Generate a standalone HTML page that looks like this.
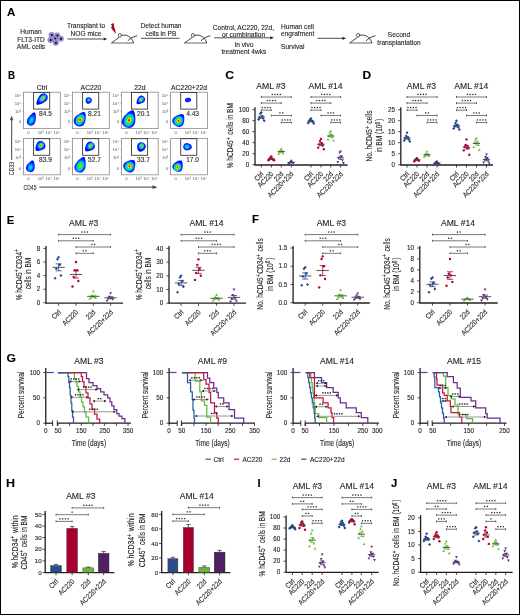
<!DOCTYPE html>
<html><head><meta charset="utf-8"><style>
html,body{margin:0;padding:0;background:#fff;}
body{width:520px;height:615px;overflow:hidden;font-family:"Liberation Sans",sans-serif;}
.frame{position:absolute;left:0;top:0;width:518px;height:613px;border:1px solid #000;border-right-width:1.4px;border-bottom-width:1.4px;box-sizing:content-box;}
svg{position:absolute;left:0;top:0;will-change:transform;}
text{stroke:#231f20;stroke-width:0.12px;}
</style></head><body>
<svg width="520" height="615" viewBox="0 0 520 615">
<defs><radialGradient id="gfull" cx="0.5" cy="0.5" r="0.5" fx="0.5" fy="0.5"><stop offset="0" stop-color="#e00000"/><stop offset="0.14" stop-color="#ffe000"/><stop offset="0.32" stop-color="#30d000"/><stop offset="0.5" stop-color="#00d0f0"/><stop offset="0.66" stop-color="#0060ff"/><stop offset="0.8" stop-color="#0028ff"/><stop offset="1" stop-color="#0010e8"/></radialGradient><radialGradient id="gfullA" cx="0.5" cy="0.5" r="0.5" fx="0.5" fy="0.5"><stop offset="0" stop-color="#e00000"/><stop offset="0.18" stop-color="#ffd800"/><stop offset="0.38" stop-color="#20d000"/><stop offset="0.58" stop-color="#00c0ff"/><stop offset="0.75" stop-color="#0040ff"/><stop offset="1" stop-color="#0018e8"/></radialGradient><radialGradient id="gcyan" cx="0.5" cy="0.5" r="0.5" fx="0.5" fy="0.5"><stop offset="0" stop-color="#00f0f0"/><stop offset="0.3" stop-color="#00b8ff"/><stop offset="0.6" stop-color="#0050ff"/><stop offset="1" stop-color="#0018e8"/></radialGradient><radialGradient id="gcyan2" cx="0.5" cy="0.5" r="0.5" fx="0.5" fy="0.5"><stop offset="0" stop-color="#00f0e0"/><stop offset="0.4" stop-color="#00a0ff"/><stop offset="1" stop-color="#0030f0"/></radialGradient><radialGradient id="ggreen" cx="0.5" cy="0.5" r="0.5" fx="0.5" fy="0.5"><stop offset="0" stop-color="#ffd000"/><stop offset="0.2" stop-color="#40dc20"/><stop offset="0.5" stop-color="#00d8e0"/><stop offset="0.8" stop-color="#0050ff"/><stop offset="1" stop-color="#0020f0"/></radialGradient><radialGradient id="gblue" cx="0.5" cy="0.5" r="0.5" fx="0.5" fy="0.5"><stop offset="0" stop-color="#0060ff"/><stop offset="1" stop-color="#0020ee"/></radialGradient><radialGradient id="gcyanb" cx="0.5" cy="0.5" r="0.5" fx="0.5" fy="0.5"><stop offset="0" stop-color="#20e0a0"/><stop offset="0.35" stop-color="#00c8ff"/><stop offset="0.7" stop-color="#0050ff"/><stop offset="1" stop-color="#0020f0"/></radialGradient></defs>
<g font-family="Liberation Sans">
<text font-size="11.3" text-anchor="start" font-weight="bold" fill="#000" transform="translate(6.90 16.00) scale(1.02 1)">A</text>
<text x="31.00" y="34.30" font-size="6.6" text-anchor="middle" fill="#231f20">Human</text>
<text x="31.00" y="41.80" font-size="6.6" text-anchor="middle" fill="#231f20">FLT3-ITD</text>
<text x="31.00" y="49.30" font-size="6.6" text-anchor="middle" fill="#231f20">AML cells</text>
<circle cx="51.6" cy="34.9" r="2.75" fill="#9b90d8" stroke="#7d72c2" stroke-width="0.5"/>
<circle cx="57.2" cy="35.4" r="2.75" fill="#9b90d8" stroke="#7d72c2" stroke-width="0.5"/>
<circle cx="60.8" cy="38.8" r="2.75" fill="#9b90d8" stroke="#7d72c2" stroke-width="0.5"/>
<circle cx="50.5" cy="40.0" r="2.75" fill="#9b90d8" stroke="#7d72c2" stroke-width="0.5"/>
<circle cx="55.8" cy="42.8" r="2.75" fill="#9b90d8" stroke="#7d72c2" stroke-width="0.5"/>
<circle cx="55.1" cy="38.4" r="2.75" fill="#9b90d8" stroke="#7d72c2" stroke-width="0.5"/>
<circle cx="51.800000000000004" cy="35.0" r="1.05" fill="#0a0a0a"/>
<circle cx="57.400000000000006" cy="35.5" r="1.05" fill="#0a0a0a"/>
<circle cx="61.0" cy="38.9" r="1.05" fill="#0a0a0a"/>
<circle cx="50.7" cy="40.1" r="1.05" fill="#0a0a0a"/>
<circle cx="56.0" cy="42.9" r="1.05" fill="#0a0a0a"/>
<circle cx="55.300000000000004" cy="38.5" r="1.05" fill="#0a0a0a"/>
<line x1="67.50" y1="39.00" x2="104.70" y2="39.00" stroke="#231f20" stroke-width="0.8"/>
<path d="M107.20,39 L103.70,37.4 L103.70,40.6 Z" fill="#231f20"/>
<text x="86.00" y="28.30" font-size="6.6" text-anchor="middle" fill="#231f20">Transplant to</text>
<text x="86.00" y="35.60" font-size="6.6" text-anchor="middle" fill="#231f20">NOG mice</text>
<path d="M110.9,24.3 L113.8,23.0 L114.1,27.1 L115.0,29.0 L116.0,33.9 L111.8,29.0 L111.0,27.3 L112.2,26.2 Z" fill="#b0061e"/>
<line x1="111.20" y1="43" x2="133.80" y2="43" stroke="#8a8a8a" stroke-width="1.3"/>
<path d="M111.50,43 L119.00,37.4 M121.00,35.5 C126.20,34 131.70,36.5 133.60,43 M127.80,40.8 Q130.70,37 137.20,35.7" fill="none" stroke="#231f20" stroke-width="0.85"/>
<ellipse cx="119.80" cy="35.30" rx="1.5" ry="1.9" fill="none" stroke="#231f20" stroke-width="0.7"/>
<text x="161.00" y="28.30" font-size="6.6" text-anchor="middle" fill="#231f20">Detect human</text>
<text x="161.00" y="36.30" font-size="6.6" text-anchor="middle" fill="#231f20">cells in PB</text>
<line x1="141.00" y1="38.30" x2="179.50" y2="38.30" stroke="#231f20" stroke-width="0.8"/>
<line x1="184.30" y1="43" x2="206.90" y2="43" stroke="#8a8a8a" stroke-width="1.3"/>
<path d="M184.60,43 L192.10,37.4 M194.10,35.5 C199.30,34 204.80,36.5 206.70,43 M200.90,40.8 Q203.80,37 210.30,35.7" fill="none" stroke="#231f20" stroke-width="0.85"/>
<ellipse cx="192.90" cy="35.30" rx="1.5" ry="1.9" fill="none" stroke="#231f20" stroke-width="0.7"/>
<text x="243.40" y="29.80" font-size="6.6" text-anchor="middle" fill="#231f20">Control, AC220, 22d,</text>
<text x="243.50" y="37.00" font-size="6.6" text-anchor="middle" fill="#231f20">or combination</text>
<line x1="214.20" y1="37.80" x2="271.30" y2="37.80" stroke="#231f20" stroke-width="0.8"/>
<path d="M273.80,37.8 L270.30,36.199999999999996 L270.30,39.4 Z" fill="#231f20"/>
<text x="244.00" y="47.00" font-size="6.6" text-anchor="middle" fill="#231f20">In vivo</text>
<text x="243.90" y="54.20" font-size="6.6" text-anchor="middle" fill="#231f20">treatment 4wks</text>
<text x="281.00" y="28.80" font-size="6.6" text-anchor="start" fill="#231f20">Human cell</text>
<text x="281.00" y="35.80" font-size="6.6" text-anchor="start" fill="#231f20">engrafment</text>
<text x="281.00" y="48.80" font-size="6.6" text-anchor="start" fill="#231f20">Survival</text>
<line x1="317.50" y1="38.30" x2="343.50" y2="38.30" stroke="#231f20" stroke-width="0.8"/>
<path d="M346.00,38.3 L342.50,36.699999999999996 L342.50,39.9 Z" fill="#231f20"/>
<line x1="349.50" y1="43" x2="372.10" y2="43" stroke="#8a8a8a" stroke-width="1.3"/>
<path d="M349.80,43 L357.30,37.4 M359.30,35.5 C364.50,34 370.00,36.5 371.90,43 M366.10,40.8 Q369.00,37 375.50,35.7" fill="none" stroke="#231f20" stroke-width="0.85"/>
<ellipse cx="358.10" cy="35.30" rx="1.5" ry="1.9" fill="none" stroke="#231f20" stroke-width="0.7"/>
<text x="399.00" y="37.30" font-size="6.6" text-anchor="middle" fill="#231f20">Second</text>
<text x="399.00" y="44.80" font-size="6.6" text-anchor="middle" fill="#231f20">transplantation</text>
<text font-size="11.3" text-anchor="start" font-weight="bold" fill="#000" transform="translate(8.00 78.90) scale(0.86 1)">B</text>
<text x="42.00" y="90.00" font-size="6.8" text-anchor="middle" fill="#231f20">Ctrl</text>
<text x="91.00" y="90.00" font-size="6.8" text-anchor="middle" fill="#231f20">AC220</text>
<text x="139.90" y="90.00" font-size="6.8" text-anchor="middle" fill="#231f20">22d</text>
<text x="189.10" y="90.00" font-size="6.8" text-anchor="middle" fill="#231f20">AC220+22d</text>
<rect x="23.50" y="92.20" width="36.8" height="36.4" fill="none" stroke="#8a8a8a" stroke-width="0.8"/>
<rect x="33.60" y="92.50" width="16.1" height="16.6" fill="none" stroke="#3a3a3a" stroke-width="0.9"/>
<text x="45.50" y="115.80" font-size="6.6" text-anchor="middle" fill="#333">84.5</text>
<text x="21.10" y="97.00" font-size="4.2" text-anchor="end" fill="#555" style="stroke:none">10⁵</text>
<text x="21.10" y="104.90" font-size="4.2" text-anchor="end" fill="#555" style="stroke:none">10⁴</text>
<text x="21.10" y="112.90" font-size="4.2" text-anchor="end" fill="#555" style="stroke:none">10³</text>
<text x="21.10" y="123.40" font-size="4.2" text-anchor="end" fill="#555" style="stroke:none">0</text>
<text x="28.50" y="134.20" font-size="4.2" text-anchor="middle" fill="#555" style="stroke:none">0</text>
<text x="40.70" y="134.20" font-size="4.2" text-anchor="middle" fill="#555" style="stroke:none">10³</text>
<text x="48.60" y="134.20" font-size="4.2" text-anchor="middle" fill="#555" style="stroke:none">10⁴</text>
<text x="56.50" y="134.20" font-size="4.2" text-anchor="middle" fill="#555" style="stroke:none">10⁵</text>
<line x1="22.50" y1="95.60" x2="23.50" y2="95.60" stroke="#777" stroke-width="0.5"/>
<line x1="22.50" y1="103.50" x2="23.50" y2="103.50" stroke="#777" stroke-width="0.5"/>
<line x1="22.50" y1="111.50" x2="23.50" y2="111.50" stroke="#777" stroke-width="0.5"/>
<line x1="22.50" y1="122.00" x2="23.50" y2="122.00" stroke="#777" stroke-width="0.5"/>
<rect x="72.50" y="92.20" width="36.8" height="36.4" fill="none" stroke="#8a8a8a" stroke-width="0.8"/>
<rect x="82.60" y="92.50" width="16.1" height="16.6" fill="none" stroke="#3a3a3a" stroke-width="0.9"/>
<text x="94.50" y="115.80" font-size="6.6" text-anchor="middle" fill="#333">8.21</text>
<text x="70.10" y="97.00" font-size="4.2" text-anchor="end" fill="#555" style="stroke:none">10⁵</text>
<text x="70.10" y="104.90" font-size="4.2" text-anchor="end" fill="#555" style="stroke:none">10⁴</text>
<text x="70.10" y="112.90" font-size="4.2" text-anchor="end" fill="#555" style="stroke:none">10³</text>
<text x="70.10" y="123.40" font-size="4.2" text-anchor="end" fill="#555" style="stroke:none">0</text>
<text x="77.50" y="134.20" font-size="4.2" text-anchor="middle" fill="#555" style="stroke:none">0</text>
<text x="89.70" y="134.20" font-size="4.2" text-anchor="middle" fill="#555" style="stroke:none">10³</text>
<text x="97.60" y="134.20" font-size="4.2" text-anchor="middle" fill="#555" style="stroke:none">10⁴</text>
<text x="105.50" y="134.20" font-size="4.2" text-anchor="middle" fill="#555" style="stroke:none">10⁵</text>
<line x1="71.50" y1="95.60" x2="72.50" y2="95.60" stroke="#777" stroke-width="0.5"/>
<line x1="71.50" y1="103.50" x2="72.50" y2="103.50" stroke="#777" stroke-width="0.5"/>
<line x1="71.50" y1="111.50" x2="72.50" y2="111.50" stroke="#777" stroke-width="0.5"/>
<line x1="71.50" y1="122.00" x2="72.50" y2="122.00" stroke="#777" stroke-width="0.5"/>
<rect x="121.40" y="92.20" width="36.8" height="36.4" fill="none" stroke="#8a8a8a" stroke-width="0.8"/>
<rect x="131.50" y="92.50" width="16.1" height="16.6" fill="none" stroke="#3a3a3a" stroke-width="0.9"/>
<text x="143.40" y="115.80" font-size="6.6" text-anchor="middle" fill="#333">20.1</text>
<text x="119.00" y="97.00" font-size="4.2" text-anchor="end" fill="#555" style="stroke:none">10⁵</text>
<text x="119.00" y="104.90" font-size="4.2" text-anchor="end" fill="#555" style="stroke:none">10⁴</text>
<text x="119.00" y="112.90" font-size="4.2" text-anchor="end" fill="#555" style="stroke:none">10³</text>
<text x="119.00" y="123.40" font-size="4.2" text-anchor="end" fill="#555" style="stroke:none">0</text>
<text x="126.40" y="134.20" font-size="4.2" text-anchor="middle" fill="#555" style="stroke:none">0</text>
<text x="138.60" y="134.20" font-size="4.2" text-anchor="middle" fill="#555" style="stroke:none">10³</text>
<text x="146.50" y="134.20" font-size="4.2" text-anchor="middle" fill="#555" style="stroke:none">10⁴</text>
<text x="154.40" y="134.20" font-size="4.2" text-anchor="middle" fill="#555" style="stroke:none">10⁵</text>
<line x1="120.40" y1="95.60" x2="121.40" y2="95.60" stroke="#777" stroke-width="0.5"/>
<line x1="120.40" y1="103.50" x2="121.40" y2="103.50" stroke="#777" stroke-width="0.5"/>
<line x1="120.40" y1="111.50" x2="121.40" y2="111.50" stroke="#777" stroke-width="0.5"/>
<line x1="120.40" y1="122.00" x2="121.40" y2="122.00" stroke="#777" stroke-width="0.5"/>
<rect x="170.60" y="92.20" width="36.8" height="36.4" fill="none" stroke="#8a8a8a" stroke-width="0.8"/>
<rect x="180.70" y="92.50" width="16.1" height="16.6" fill="none" stroke="#3a3a3a" stroke-width="0.9"/>
<text x="192.60" y="115.80" font-size="6.6" text-anchor="middle" fill="#333">4.43</text>
<text x="168.20" y="97.00" font-size="4.2" text-anchor="end" fill="#555" style="stroke:none">10⁵</text>
<text x="168.20" y="104.90" font-size="4.2" text-anchor="end" fill="#555" style="stroke:none">10⁴</text>
<text x="168.20" y="112.90" font-size="4.2" text-anchor="end" fill="#555" style="stroke:none">10³</text>
<text x="168.20" y="123.40" font-size="4.2" text-anchor="end" fill="#555" style="stroke:none">0</text>
<text x="175.60" y="134.20" font-size="4.2" text-anchor="middle" fill="#555" style="stroke:none">0</text>
<text x="187.80" y="134.20" font-size="4.2" text-anchor="middle" fill="#555" style="stroke:none">10³</text>
<text x="195.70" y="134.20" font-size="4.2" text-anchor="middle" fill="#555" style="stroke:none">10⁴</text>
<text x="203.60" y="134.20" font-size="4.2" text-anchor="middle" fill="#555" style="stroke:none">10⁵</text>
<line x1="169.60" y1="95.60" x2="170.60" y2="95.60" stroke="#777" stroke-width="0.5"/>
<line x1="169.60" y1="103.50" x2="170.60" y2="103.50" stroke="#777" stroke-width="0.5"/>
<line x1="169.60" y1="111.50" x2="170.60" y2="111.50" stroke="#777" stroke-width="0.5"/>
<line x1="169.60" y1="122.00" x2="170.60" y2="122.00" stroke="#777" stroke-width="0.5"/>
<rect x="23.50" y="138.40" width="36.8" height="36.4" fill="none" stroke="#8a8a8a" stroke-width="0.8"/>
<rect x="33.60" y="138.70" width="16.1" height="16.6" fill="none" stroke="#3a3a3a" stroke-width="0.9"/>
<text x="45.50" y="162.00" font-size="6.6" text-anchor="middle" fill="#333">83.9</text>
<text x="21.10" y="143.20" font-size="4.2" text-anchor="end" fill="#555" style="stroke:none">10⁵</text>
<text x="21.10" y="151.10" font-size="4.2" text-anchor="end" fill="#555" style="stroke:none">10⁴</text>
<text x="21.10" y="159.10" font-size="4.2" text-anchor="end" fill="#555" style="stroke:none">10³</text>
<text x="21.10" y="169.60" font-size="4.2" text-anchor="end" fill="#555" style="stroke:none">0</text>
<text x="28.50" y="180.40" font-size="4.2" text-anchor="middle" fill="#555" style="stroke:none">0</text>
<text x="40.70" y="180.40" font-size="4.2" text-anchor="middle" fill="#555" style="stroke:none">10³</text>
<text x="48.60" y="180.40" font-size="4.2" text-anchor="middle" fill="#555" style="stroke:none">10⁴</text>
<text x="56.50" y="180.40" font-size="4.2" text-anchor="middle" fill="#555" style="stroke:none">10⁵</text>
<line x1="22.50" y1="141.80" x2="23.50" y2="141.80" stroke="#777" stroke-width="0.5"/>
<line x1="22.50" y1="149.70" x2="23.50" y2="149.70" stroke="#777" stroke-width="0.5"/>
<line x1="22.50" y1="157.70" x2="23.50" y2="157.70" stroke="#777" stroke-width="0.5"/>
<line x1="22.50" y1="168.20" x2="23.50" y2="168.20" stroke="#777" stroke-width="0.5"/>
<rect x="72.50" y="138.40" width="36.8" height="36.4" fill="none" stroke="#8a8a8a" stroke-width="0.8"/>
<rect x="82.60" y="138.70" width="16.1" height="16.6" fill="none" stroke="#3a3a3a" stroke-width="0.9"/>
<text x="94.50" y="162.00" font-size="6.6" text-anchor="middle" fill="#333">52.7</text>
<text x="70.10" y="143.20" font-size="4.2" text-anchor="end" fill="#555" style="stroke:none">10⁵</text>
<text x="70.10" y="151.10" font-size="4.2" text-anchor="end" fill="#555" style="stroke:none">10⁴</text>
<text x="70.10" y="159.10" font-size="4.2" text-anchor="end" fill="#555" style="stroke:none">10³</text>
<text x="70.10" y="169.60" font-size="4.2" text-anchor="end" fill="#555" style="stroke:none">0</text>
<text x="77.50" y="180.40" font-size="4.2" text-anchor="middle" fill="#555" style="stroke:none">0</text>
<text x="89.70" y="180.40" font-size="4.2" text-anchor="middle" fill="#555" style="stroke:none">10³</text>
<text x="97.60" y="180.40" font-size="4.2" text-anchor="middle" fill="#555" style="stroke:none">10⁴</text>
<text x="105.50" y="180.40" font-size="4.2" text-anchor="middle" fill="#555" style="stroke:none">10⁵</text>
<line x1="71.50" y1="141.80" x2="72.50" y2="141.80" stroke="#777" stroke-width="0.5"/>
<line x1="71.50" y1="149.70" x2="72.50" y2="149.70" stroke="#777" stroke-width="0.5"/>
<line x1="71.50" y1="157.70" x2="72.50" y2="157.70" stroke="#777" stroke-width="0.5"/>
<line x1="71.50" y1="168.20" x2="72.50" y2="168.20" stroke="#777" stroke-width="0.5"/>
<rect x="121.40" y="138.40" width="36.8" height="36.4" fill="none" stroke="#8a8a8a" stroke-width="0.8"/>
<rect x="131.50" y="138.70" width="16.1" height="16.6" fill="none" stroke="#3a3a3a" stroke-width="0.9"/>
<text x="143.40" y="162.00" font-size="6.6" text-anchor="middle" fill="#333">33.7</text>
<text x="119.00" y="143.20" font-size="4.2" text-anchor="end" fill="#555" style="stroke:none">10⁵</text>
<text x="119.00" y="151.10" font-size="4.2" text-anchor="end" fill="#555" style="stroke:none">10⁴</text>
<text x="119.00" y="159.10" font-size="4.2" text-anchor="end" fill="#555" style="stroke:none">10³</text>
<text x="119.00" y="169.60" font-size="4.2" text-anchor="end" fill="#555" style="stroke:none">0</text>
<text x="126.40" y="180.40" font-size="4.2" text-anchor="middle" fill="#555" style="stroke:none">0</text>
<text x="138.60" y="180.40" font-size="4.2" text-anchor="middle" fill="#555" style="stroke:none">10³</text>
<text x="146.50" y="180.40" font-size="4.2" text-anchor="middle" fill="#555" style="stroke:none">10⁴</text>
<text x="154.40" y="180.40" font-size="4.2" text-anchor="middle" fill="#555" style="stroke:none">10⁵</text>
<line x1="120.40" y1="141.80" x2="121.40" y2="141.80" stroke="#777" stroke-width="0.5"/>
<line x1="120.40" y1="149.70" x2="121.40" y2="149.70" stroke="#777" stroke-width="0.5"/>
<line x1="120.40" y1="157.70" x2="121.40" y2="157.70" stroke="#777" stroke-width="0.5"/>
<line x1="120.40" y1="168.20" x2="121.40" y2="168.20" stroke="#777" stroke-width="0.5"/>
<rect x="170.60" y="138.40" width="36.8" height="36.4" fill="none" stroke="#8a8a8a" stroke-width="0.8"/>
<rect x="180.70" y="138.70" width="16.1" height="16.6" fill="none" stroke="#3a3a3a" stroke-width="0.9"/>
<text x="192.60" y="162.00" font-size="6.6" text-anchor="middle" fill="#333">17.0</text>
<text x="168.20" y="143.20" font-size="4.2" text-anchor="end" fill="#555" style="stroke:none">10⁵</text>
<text x="168.20" y="151.10" font-size="4.2" text-anchor="end" fill="#555" style="stroke:none">10⁴</text>
<text x="168.20" y="159.10" font-size="4.2" text-anchor="end" fill="#555" style="stroke:none">10³</text>
<text x="168.20" y="169.60" font-size="4.2" text-anchor="end" fill="#555" style="stroke:none">0</text>
<text x="175.60" y="180.40" font-size="4.2" text-anchor="middle" fill="#555" style="stroke:none">0</text>
<text x="187.80" y="180.40" font-size="4.2" text-anchor="middle" fill="#555" style="stroke:none">10³</text>
<text x="195.70" y="180.40" font-size="4.2" text-anchor="middle" fill="#555" style="stroke:none">10⁴</text>
<text x="203.60" y="180.40" font-size="4.2" text-anchor="middle" fill="#555" style="stroke:none">10⁵</text>
<line x1="169.60" y1="141.80" x2="170.60" y2="141.80" stroke="#777" stroke-width="0.5"/>
<line x1="169.60" y1="149.70" x2="170.60" y2="149.70" stroke="#777" stroke-width="0.5"/>
<line x1="169.60" y1="157.70" x2="170.60" y2="157.70" stroke="#777" stroke-width="0.5"/>
<line x1="169.60" y1="168.20" x2="170.60" y2="168.20" stroke="#777" stroke-width="0.5"/>
<radialGradient id="eg1" cx="0.5" cy="0.62" r="0.55" fx="0.5" fy="0.62"><stop offset="0" stop-color="#ff1000"/><stop offset="0.08" stop-color="#ff6000"/><stop offset="0.15" stop-color="#ffd800"/><stop offset="0.25" stop-color="#60e030"/><stop offset="0.36" stop-color="#00d8c0"/><stop offset="0.48" stop-color="#00a0ff"/><stop offset="0.6" stop-color="#0040ff"/><stop offset="0.78" stop-color="#0010ff"/><stop offset="1" stop-color="#0000f0"/></radialGradient>
<path d="M3.90,0.00 L4.11,1.22 L4.17,2.39 L4.05,3.50 L3.76,4.50 L3.28,5.36 L2.63,6.06 L1.84,6.58 L0.94,6.89 L0.00,7.00 L-0.94,6.89 L-1.84,6.58 L-2.63,6.06 L-3.28,5.36 L-3.76,4.50 L-4.05,3.50 L-4.17,2.39 L-4.11,1.22 L-3.90,0.00 L-3.57,-1.22 L-3.16,-2.39 L-2.70,-3.50 L-2.22,-4.50 L-1.74,-5.36 L-1.27,-6.06 L-0.83,-6.58 L-0.41,-6.89 L-0.00,-7.00 L0.41,-6.89 L0.83,-6.58 L1.27,-6.06 L1.74,-5.36 L2.22,-4.50 L2.70,-3.50 L3.16,-2.39 L3.57,-1.22 Z" fill="url(#eg1)" transform="translate(41.60 99.50) rotate(225)"/>
<radialGradient id="eg2" cx="0.5" cy="0.6" r="0.55" fx="0.5" fy="0.6"><stop offset="0" stop-color="#00f0f0"/><stop offset="0.25" stop-color="#00c8ff"/><stop offset="0.5" stop-color="#0070ff"/><stop offset="0.75" stop-color="#0020ff"/><stop offset="1" stop-color="#0000f0"/></radialGradient>
<path d="M3.90,0.00 L4.11,1.22 L4.17,2.39 L4.05,3.50 L3.76,4.50 L3.28,5.36 L2.63,6.06 L1.84,6.58 L0.94,6.89 L0.00,7.00 L-0.94,6.89 L-1.84,6.58 L-2.63,6.06 L-3.28,5.36 L-3.76,4.50 L-4.05,3.50 L-4.17,2.39 L-4.11,1.22 L-3.90,0.00 L-3.57,-1.22 L-3.16,-2.39 L-2.70,-3.50 L-2.22,-4.50 L-1.74,-5.36 L-1.27,-6.06 L-0.83,-6.58 L-0.41,-6.89 L-0.00,-7.00 L0.41,-6.89 L0.83,-6.58 L1.27,-6.06 L1.74,-5.36 L2.22,-4.50 L2.70,-3.50 L3.16,-2.39 L3.57,-1.22 Z" fill="url(#eg2)" transform="translate(32.00 118.90) rotate(22)"/>
<radialGradient id="eg3" cx="0.5" cy="0.6" r="0.5" fx="0.5" fy="0.6"><stop offset="0" stop-color="#00f0f0"/><stop offset="0.25" stop-color="#00c8ff"/><stop offset="0.5" stop-color="#0070ff"/><stop offset="0.75" stop-color="#0020ff"/><stop offset="1" stop-color="#0000f0"/></radialGradient>
<path d="M3.10,0.00 L3.13,0.57 L3.06,1.13 L2.89,1.65 L2.60,2.12 L2.22,2.53 L1.75,2.86 L1.21,3.10 L0.62,3.25 L0.00,3.30 L-0.62,3.25 L-1.21,3.10 L-1.75,2.86 L-2.22,2.53 L-2.60,2.12 L-2.89,1.65 L-3.06,1.13 L-3.13,0.57 L-3.10,0.00 L-2.97,-0.57 L-2.76,-1.13 L-2.48,-1.65 L-2.15,-2.12 L-1.76,-2.53 L-1.35,-2.86 L-0.91,-3.10 L-0.46,-3.25 L-0.00,-3.30 L0.46,-3.25 L0.91,-3.10 L1.35,-2.86 L1.76,-2.53 L2.15,-2.12 L2.48,-1.65 L2.76,-1.13 L2.97,-0.57 Z" fill="url(#eg3)" transform="translate(88.60 100.60) rotate(200)"/>
<radialGradient id="eg4" cx="0.5" cy="0.56" r="0.55" fx="0.5" fy="0.56"><stop offset="0" stop-color="#ff1000"/><stop offset="0.1" stop-color="#ff2a00"/><stop offset="0.18" stop-color="#ffd800"/><stop offset="0.28" stop-color="#90e020"/><stop offset="0.38" stop-color="#10e040"/><stop offset="0.5" stop-color="#00e0d0"/><stop offset="0.6" stop-color="#00a8ff"/><stop offset="0.7" stop-color="#0040ff"/><stop offset="0.85" stop-color="#0010ff"/><stop offset="1" stop-color="#0000f0"/></radialGradient>
<path d="M5.30,0.00 L5.58,1.35 L5.66,2.67 L5.51,3.90 L5.10,5.01 L4.45,5.98 L3.57,6.75 L2.49,7.33 L1.28,7.68 L0.00,7.80 L-1.28,7.68 L-2.49,7.33 L-3.57,6.75 L-4.45,5.98 L-5.10,5.01 L-5.51,3.90 L-5.66,2.67 L-5.58,1.35 L-5.30,0.00 L-4.86,-1.35 L-4.30,-2.67 L-3.67,-3.90 L-3.02,-5.01 L-2.36,-5.98 L-1.73,-6.75 L-1.13,-7.33 L-0.56,-7.68 L-0.00,-7.80 L0.56,-7.68 L1.13,-7.33 L1.73,-6.75 L2.36,-5.98 L3.02,-5.01 L3.67,-3.90 L4.30,-2.67 L4.86,-1.35 Z" fill="url(#eg4)" transform="translate(80.60 118.90) rotate(30)"/>
<radialGradient id="eg5" cx="0.5" cy="0.6" r="0.55" fx="0.5" fy="0.6"><stop offset="0" stop-color="#ff1000"/><stop offset="0.08" stop-color="#ff6000"/><stop offset="0.15" stop-color="#ffd800"/><stop offset="0.25" stop-color="#60e030"/><stop offset="0.36" stop-color="#00d8c0"/><stop offset="0.48" stop-color="#00a0ff"/><stop offset="0.6" stop-color="#0040ff"/><stop offset="0.78" stop-color="#0010ff"/><stop offset="1" stop-color="#0000f0"/></radialGradient>
<path d="M3.40,0.00 L3.58,0.87 L3.63,1.71 L3.53,2.50 L3.27,3.21 L2.86,3.83 L2.29,4.33 L1.60,4.70 L0.82,4.92 L0.00,5.00 L-0.82,4.92 L-1.60,4.70 L-2.29,4.33 L-2.86,3.83 L-3.27,3.21 L-3.53,2.50 L-3.63,1.71 L-3.58,0.87 L-3.40,0.00 L-3.12,-0.87 L-2.76,-1.71 L-2.36,-2.50 L-1.93,-3.21 L-1.52,-3.83 L-1.11,-4.33 L-0.73,-4.70 L-0.36,-4.92 L-0.00,-5.00 L0.36,-4.92 L0.73,-4.70 L1.11,-4.33 L1.52,-3.83 L1.93,-3.21 L2.36,-2.50 L2.76,-1.71 L3.12,-0.87 Z" fill="url(#eg5)" transform="translate(140.40 100.30) rotate(225)"/>
<radialGradient id="eg6" cx="0.5" cy="0.58" r="0.55" fx="0.5" fy="0.58"><stop offset="0" stop-color="#ff1000"/><stop offset="0.1" stop-color="#ff2a00"/><stop offset="0.18" stop-color="#ffd800"/><stop offset="0.28" stop-color="#90e020"/><stop offset="0.38" stop-color="#10e040"/><stop offset="0.5" stop-color="#00e0d0"/><stop offset="0.6" stop-color="#00a8ff"/><stop offset="0.7" stop-color="#0040ff"/><stop offset="0.85" stop-color="#0010ff"/><stop offset="1" stop-color="#0000f0"/></radialGradient>
<path d="M6.10,0.00 L6.42,1.60 L6.52,3.15 L6.34,4.60 L5.87,5.91 L5.12,7.05 L4.11,7.97 L2.87,8.65 L1.48,9.06 L0.00,9.20 L-1.48,9.06 L-2.87,8.65 L-4.11,7.97 L-5.12,7.05 L-5.87,5.91 L-6.34,4.60 L-6.52,3.15 L-6.42,1.60 L-6.10,0.00 L-5.59,-1.60 L-4.95,-3.15 L-4.23,-4.60 L-3.47,-5.91 L-2.72,-7.05 L-1.99,-7.97 L-1.30,-8.65 L-0.64,-9.06 L-0.00,-9.20 L0.64,-9.06 L1.30,-8.65 L1.99,-7.97 L2.72,-7.05 L3.47,-5.91 L4.23,-4.60 L4.95,-3.15 L5.59,-1.60 Z" fill="url(#eg6)" transform="translate(129.60 118.90) rotate(22)"/>
<radialGradient id="eg7" cx="0.5" cy="0.58" r="0.55" fx="0.5" fy="0.58"><stop offset="0" stop-color="#0050ff"/><stop offset="0.6" stop-color="#0020ff"/><stop offset="1" stop-color="#0000f0"/></radialGradient>
<path d="M2.20,0.00 L2.20,0.54 L2.14,1.06 L2.00,1.55 L1.79,1.99 L1.52,2.37 L1.20,2.68 L0.82,2.91 L0.42,3.05 L0.00,3.10 L-0.42,3.05 L-0.82,2.91 L-1.20,2.68 L-1.52,2.37 L-1.79,1.99 L-2.00,1.55 L-2.14,1.06 L-2.20,0.54 L-2.20,0.00 L-2.13,-0.54 L-2.00,-1.06 L-1.81,-1.55 L-1.58,-1.99 L-1.31,-2.37 L-1.00,-2.68 L-0.68,-2.91 L-0.34,-3.05 L-0.00,-3.10 L0.34,-3.05 L0.68,-2.91 L1.00,-2.68 L1.31,-2.37 L1.58,-1.99 L1.81,-1.55 L2.00,-1.06 L2.13,-0.54 Z" fill="url(#eg7)" transform="translate(188.00 100.00) rotate(80)"/>
<radialGradient id="eg8" cx="0.5" cy="0.58" r="0.55" fx="0.5" fy="0.58"><stop offset="0" stop-color="#ff1000"/><stop offset="0.1" stop-color="#ff2a00"/><stop offset="0.18" stop-color="#ffd800"/><stop offset="0.28" stop-color="#90e020"/><stop offset="0.38" stop-color="#10e040"/><stop offset="0.5" stop-color="#00e0d0"/><stop offset="0.6" stop-color="#00a8ff"/><stop offset="0.7" stop-color="#0040ff"/><stop offset="0.85" stop-color="#0010ff"/><stop offset="1" stop-color="#0000f0"/></radialGradient>
<path d="M5.50,0.00 L5.79,1.18 L5.88,2.33 L5.72,3.40 L5.30,4.37 L4.62,5.21 L3.70,5.89 L2.59,6.39 L1.33,6.70 L0.00,6.80 L-1.33,6.70 L-2.59,6.39 L-3.70,5.89 L-4.62,5.21 L-5.30,4.37 L-5.72,3.40 L-5.88,2.33 L-5.79,1.18 L-5.50,0.00 L-5.04,-1.18 L-4.46,-2.33 L-3.81,-3.40 L-3.13,-4.37 L-2.45,-5.21 L-1.80,-5.89 L-1.17,-6.39 L-0.58,-6.70 L-0.00,-6.80 L0.58,-6.70 L1.17,-6.39 L1.80,-5.89 L2.45,-5.21 L3.13,-4.37 L3.81,-3.40 L4.46,-2.33 L5.04,-1.18 Z" fill="url(#eg8)" transform="translate(179.20 120.00) rotate(35)"/>
<radialGradient id="eg9" cx="0.5" cy="0.62" r="0.55" fx="0.5" fy="0.62"><stop offset="0" stop-color="#ff1000"/><stop offset="0.08" stop-color="#ff6000"/><stop offset="0.15" stop-color="#ffd800"/><stop offset="0.25" stop-color="#60e030"/><stop offset="0.36" stop-color="#00d8c0"/><stop offset="0.48" stop-color="#00a0ff"/><stop offset="0.6" stop-color="#0040ff"/><stop offset="0.78" stop-color="#0010ff"/><stop offset="1" stop-color="#0000f0"/></radialGradient>
<path d="M4.30,0.00 L4.53,0.97 L4.59,1.92 L4.47,2.80 L4.14,3.60 L3.61,4.29 L2.89,4.85 L2.02,5.26 L1.04,5.51 L0.00,5.60 L-1.04,5.51 L-2.02,5.26 L-2.89,4.85 L-3.61,4.29 L-4.14,3.60 L-4.47,2.80 L-4.59,1.92 L-4.53,0.97 L-4.30,0.00 L-3.94,-0.97 L-3.49,-1.92 L-2.98,-2.80 L-2.45,-3.60 L-1.92,-4.29 L-1.41,-4.85 L-0.92,-5.26 L-0.45,-5.51 L-0.00,-5.60 L0.45,-5.51 L0.92,-5.26 L1.41,-4.85 L1.92,-4.29 L2.45,-3.60 L2.98,-2.80 L3.49,-1.92 L3.94,-0.97 Z" fill="url(#eg9)" transform="translate(39.90 146.50) rotate(225)"/>
<radialGradient id="eg10" cx="0.5" cy="0.6" r="0.55" fx="0.5" fy="0.6"><stop offset="0" stop-color="#00f0f0"/><stop offset="0.25" stop-color="#00c8ff"/><stop offset="0.5" stop-color="#0070ff"/><stop offset="0.75" stop-color="#0020ff"/><stop offset="1" stop-color="#0000f0"/></radialGradient>
<path d="M4.00,0.00 L4.21,1.04 L4.27,2.05 L4.16,3.00 L3.85,3.86 L3.36,4.60 L2.69,5.20 L1.88,5.64 L0.97,5.91 L0.00,6.00 L-0.97,5.91 L-1.88,5.64 L-2.69,5.20 L-3.36,4.60 L-3.85,3.86 L-4.16,3.00 L-4.27,2.05 L-4.21,1.04 L-4.00,0.00 L-3.67,-1.04 L-3.24,-2.05 L-2.77,-3.00 L-2.28,-3.86 L-1.78,-4.60 L-1.31,-5.20 L-0.85,-5.64 L-0.42,-5.91 L-0.00,-6.00 L0.42,-5.91 L0.85,-5.64 L1.31,-5.20 L1.78,-4.60 L2.28,-3.86 L2.77,-3.00 L3.24,-2.05 L3.67,-1.04 Z" fill="url(#eg10)" transform="translate(30.90 166.20) rotate(20)"/>
<radialGradient id="eg11" cx="0.5" cy="0.64" r="0.55" fx="0.5" fy="0.64"><stop offset="0" stop-color="#ff1000"/><stop offset="0.08" stop-color="#ff6000"/><stop offset="0.15" stop-color="#ffd800"/><stop offset="0.25" stop-color="#60e030"/><stop offset="0.36" stop-color="#00d8c0"/><stop offset="0.48" stop-color="#00a0ff"/><stop offset="0.6" stop-color="#0040ff"/><stop offset="0.78" stop-color="#0010ff"/><stop offset="1" stop-color="#0000f0"/></radialGradient>
<path d="M4.10,0.00 L4.32,0.97 L4.38,1.92 L4.26,2.80 L3.95,3.60 L3.44,4.29 L2.76,4.85 L1.93,5.26 L0.99,5.51 L0.00,5.60 L-0.99,5.51 L-1.93,5.26 L-2.76,4.85 L-3.44,4.29 L-3.95,3.60 L-4.26,2.80 L-4.38,1.92 L-4.32,0.97 L-4.10,0.00 L-3.76,-0.97 L-3.33,-1.92 L-2.84,-2.80 L-2.33,-3.60 L-1.83,-4.29 L-1.34,-4.85 L-0.88,-5.26 L-0.43,-5.51 L-0.00,-5.60 L0.43,-5.51 L0.88,-5.26 L1.34,-4.85 L1.83,-4.29 L2.33,-3.60 L2.84,-2.80 L3.33,-1.92 L3.76,-0.97 Z" fill="url(#eg11)" transform="translate(89.40 147.00) rotate(225)"/>
<radialGradient id="eg12" cx="0.5" cy="0.6" r="0.55" fx="0.5" fy="0.6"><stop offset="0" stop-color="#ffd000"/><stop offset="0.12" stop-color="#c0e000"/><stop offset="0.25" stop-color="#30e030"/><stop offset="0.42" stop-color="#00e0c0"/><stop offset="0.58" stop-color="#00a0ff"/><stop offset="0.72" stop-color="#0040ff"/><stop offset="1" stop-color="#0000f0"/></radialGradient>
<path d="M5.00,0.00 L5.27,1.42 L5.34,2.80 L5.20,4.10 L4.82,5.27 L4.20,6.28 L3.37,7.10 L2.35,7.71 L1.21,8.08 L0.00,8.20 L-1.21,8.08 L-2.35,7.71 L-3.37,7.10 L-4.20,6.28 L-4.82,5.27 L-5.20,4.10 L-5.34,2.80 L-5.27,1.42 L-5.00,0.00 L-4.58,-1.42 L-4.06,-2.80 L-3.46,-4.10 L-2.85,-5.27 L-2.23,-6.28 L-1.63,-7.10 L-1.07,-7.71 L-0.53,-8.08 L-0.00,-8.20 L0.53,-8.08 L1.07,-7.71 L1.63,-7.10 L2.23,-6.28 L2.85,-5.27 L3.46,-4.10 L4.06,-2.80 L4.58,-1.42 Z" fill="url(#eg12)" transform="translate(80.90 164.60) rotate(22)"/>
<radialGradient id="eg13" cx="0.5" cy="0.62" r="0.55" fx="0.5" fy="0.62"><stop offset="0" stop-color="#ff1000"/><stop offset="0.08" stop-color="#ff6000"/><stop offset="0.15" stop-color="#ffd800"/><stop offset="0.25" stop-color="#60e030"/><stop offset="0.36" stop-color="#00d8c0"/><stop offset="0.48" stop-color="#00a0ff"/><stop offset="0.6" stop-color="#0040ff"/><stop offset="0.78" stop-color="#0010ff"/><stop offset="1" stop-color="#0000f0"/></radialGradient>
<path d="M4.20,0.00 L4.28,0.83 L4.22,1.64 L4.00,2.40 L3.63,3.09 L3.11,3.68 L2.46,4.16 L1.71,4.51 L0.87,4.73 L0.00,4.80 L-0.87,4.73 L-1.71,4.51 L-2.46,4.16 L-3.11,3.68 L-3.63,3.09 L-4.00,2.40 L-4.22,1.64 L-4.28,0.83 L-4.20,0.00 L-3.99,-0.83 L-3.68,-1.64 L-3.27,-2.40 L-2.80,-3.09 L-2.29,-3.68 L-1.74,-4.16 L-1.17,-4.51 L-0.59,-4.73 L-0.00,-4.80 L0.59,-4.73 L1.17,-4.51 L1.74,-4.16 L2.29,-3.68 L2.80,-3.09 L3.27,-2.40 L3.68,-1.64 L3.99,-0.83 Z" fill="url(#eg13)" transform="translate(141.20 147.10) rotate(200)"/>
<radialGradient id="eg14" cx="0.5" cy="0.58" r="0.55" fx="0.5" fy="0.58"><stop offset="0" stop-color="#ff1000"/><stop offset="0.1" stop-color="#ff2a00"/><stop offset="0.18" stop-color="#ffd800"/><stop offset="0.28" stop-color="#90e020"/><stop offset="0.38" stop-color="#10e040"/><stop offset="0.5" stop-color="#00e0d0"/><stop offset="0.6" stop-color="#00a8ff"/><stop offset="0.7" stop-color="#0040ff"/><stop offset="0.85" stop-color="#0010ff"/><stop offset="1" stop-color="#0000f0"/></radialGradient>
<path d="M5.60,0.00 L5.90,1.15 L5.98,2.26 L5.82,3.30 L5.39,4.24 L4.70,5.06 L3.77,5.72 L2.64,6.20 L1.36,6.50 L0.00,6.60 L-1.36,6.50 L-2.64,6.20 L-3.77,5.72 L-4.70,5.06 L-5.39,4.24 L-5.82,3.30 L-5.98,2.26 L-5.90,1.15 L-5.60,0.00 L-5.13,-1.15 L-4.54,-2.26 L-3.88,-3.30 L-3.19,-4.24 L-2.50,-5.06 L-1.83,-5.72 L-1.20,-6.20 L-0.59,-6.50 L-0.00,-6.60 L0.59,-6.50 L1.20,-6.20 L1.83,-5.72 L2.50,-5.06 L3.19,-4.24 L3.88,-3.30 L4.54,-2.26 L5.13,-1.15 Z" fill="url(#eg14)" transform="translate(130.10 165.60) rotate(40)"/>
<radialGradient id="eg15" cx="0.5" cy="0.55" r="0.55" fx="0.5" fy="0.55"><stop offset="0" stop-color="#30e060"/><stop offset="0.2" stop-color="#00e0c0"/><stop offset="0.4" stop-color="#00b0ff"/><stop offset="0.6" stop-color="#0050ff"/><stop offset="0.8" stop-color="#0018ff"/><stop offset="1" stop-color="#0000f0"/></radialGradient>
<path d="M3.60,0.00 L3.64,0.75 L3.56,1.47 L3.35,2.15 L3.02,2.76 L2.58,3.29 L2.03,3.72 L1.40,4.04 L0.72,4.23 L0.00,4.30 L-0.72,4.23 L-1.40,4.04 L-2.03,3.72 L-2.58,3.29 L-3.02,2.76 L-3.35,2.15 L-3.56,1.47 L-3.64,0.75 L-3.60,0.00 L-3.45,-0.75 L-3.21,-1.47 L-2.88,-2.15 L-2.49,-2.76 L-2.05,-3.29 L-1.57,-3.72 L-1.06,-4.04 L-0.53,-4.23 L-0.00,-4.30 L0.53,-4.23 L1.06,-4.04 L1.57,-3.72 L2.05,-3.29 L2.49,-2.76 L2.88,-2.15 L3.21,-1.47 L3.45,-0.75 Z" fill="url(#eg15)" transform="translate(187.50 146.80) rotate(95)"/>
<radialGradient id="eg16" cx="0.5" cy="0.64" r="0.55" fx="0.5" fy="0.64"><stop offset="0" stop-color="#ff1000"/><stop offset="0.1" stop-color="#ff2a00"/><stop offset="0.18" stop-color="#ffd800"/><stop offset="0.28" stop-color="#90e020"/><stop offset="0.38" stop-color="#10e040"/><stop offset="0.5" stop-color="#00e0d0"/><stop offset="0.6" stop-color="#00a8ff"/><stop offset="0.7" stop-color="#0040ff"/><stop offset="0.85" stop-color="#0010ff"/><stop offset="1" stop-color="#0000f0"/></radialGradient>
<path d="M4.80,0.00 L5.06,1.04 L5.13,2.05 L4.99,3.00 L4.62,3.86 L4.03,4.60 L3.23,5.20 L2.26,5.64 L1.16,5.91 L0.00,6.00 L-1.16,5.91 L-2.26,5.64 L-3.23,5.20 L-4.03,4.60 L-4.62,3.86 L-4.99,3.00 L-5.13,2.05 L-5.06,1.04 L-4.80,0.00 L-4.40,-1.04 L-3.89,-2.05 L-3.33,-3.00 L-2.73,-3.86 L-2.14,-4.60 L-1.57,-5.20 L-1.02,-5.64 L-0.51,-5.91 L-0.00,-6.00 L0.51,-5.91 L1.02,-5.64 L1.57,-5.20 L2.14,-4.60 L2.73,-3.86 L3.33,-3.00 L3.89,-2.05 L4.40,-1.04 Z" fill="url(#eg16)" transform="translate(178.30 165.80) rotate(30)"/>
<line x1="11.60" y1="160.00" x2="11.60" y2="119.50" stroke="#666" stroke-width="1.2"/>
<path d="M11.6,115.6 L9.8,120.2 L13.4,120.2 Z" fill="#555"/>
<text font-size="7.0" text-anchor="middle" fill="#333" transform="translate(14.30 168.60) rotate(-90) scale(0.75 1)">CD33</text>
<text font-size="7.0" text-anchor="start" fill="#333" transform="translate(23.60 189.60) scale(0.72 1)">CD45</text>
<line x1="39.20" y1="187.20" x2="153.00" y2="187.20" stroke="#6a6a6a" stroke-width="1.3"/>
<path d="M157.5,187.2 L152.5,185.3 L152.5,189.1 Z" fill="#444"/>
<text font-size="11.3" text-anchor="start" font-weight="bold" fill="#000" transform="translate(225.20 79.10) scale(1.08 1)">C</text>
<line x1="255.00" y1="107.20" x2="255.00" y2="165.60" stroke="#231f20" stroke-width="1.3"/>
<line x1="252.40" y1="164.70" x2="255.00" y2="164.70" stroke="#231f20" stroke-width="0.8"/>
<text x="249.20" y="166.90" font-size="6.3" text-anchor="end" fill="#231f20">0</text>
<line x1="252.40" y1="153.70" x2="255.00" y2="153.70" stroke="#231f20" stroke-width="0.8"/>
<text x="249.20" y="155.90" font-size="6.3" text-anchor="end" fill="#231f20">20</text>
<line x1="252.40" y1="142.70" x2="255.00" y2="142.70" stroke="#231f20" stroke-width="0.8"/>
<text x="249.20" y="144.90" font-size="6.3" text-anchor="end" fill="#231f20">40</text>
<line x1="252.40" y1="131.70" x2="255.00" y2="131.70" stroke="#231f20" stroke-width="0.8"/>
<text x="249.20" y="133.90" font-size="6.3" text-anchor="end" fill="#231f20">60</text>
<line x1="252.40" y1="120.70" x2="255.00" y2="120.70" stroke="#231f20" stroke-width="0.8"/>
<text x="249.20" y="122.90" font-size="6.3" text-anchor="end" fill="#231f20">80</text>
<line x1="252.40" y1="109.70" x2="255.00" y2="109.70" stroke="#231f20" stroke-width="0.8"/>
<text x="249.20" y="111.90" font-size="6.3" text-anchor="end" fill="#231f20">100</text>
<line x1="255.00" y1="165.00" x2="347.60" y2="165.00" stroke="#231f20" stroke-width="1.3"/>
<line x1="261.30" y1="165.00" x2="261.30" y2="167.60" stroke="#231f20" stroke-width="0.8"/>
<line x1="271.30" y1="165.00" x2="271.30" y2="167.60" stroke="#231f20" stroke-width="0.8"/>
<line x1="281.30" y1="165.00" x2="281.30" y2="167.60" stroke="#231f20" stroke-width="0.8"/>
<line x1="291.30" y1="165.00" x2="291.30" y2="167.60" stroke="#231f20" stroke-width="0.8"/>
<line x1="311.00" y1="165.00" x2="311.00" y2="167.60" stroke="#231f20" stroke-width="0.8"/>
<line x1="321.00" y1="165.00" x2="321.00" y2="167.60" stroke="#231f20" stroke-width="0.8"/>
<line x1="330.80" y1="165.00" x2="330.80" y2="167.60" stroke="#231f20" stroke-width="0.8"/>
<line x1="340.60" y1="165.00" x2="340.60" y2="167.60" stroke="#231f20" stroke-width="0.8"/>
<text x="270.90" y="89.00" font-size="8.6" text-anchor="middle" fill="#231f20">AML #3</text>
<text x="325.60" y="89.00" font-size="8.6" text-anchor="middle" fill="#231f20">AML #14</text>
<path d="M261.30,110.95 L262.80,112.45 L261.30,113.94 L259.81,112.45 Z" fill="#1f4590"/>
<path d="M260.37,112.05 L261.86,113.55 L260.37,115.05 L258.87,113.55 Z" fill="#1f4590"/>
<path d="M262.23,114.80 L263.73,116.30 L262.23,117.80 L260.74,116.30 Z" fill="#1f4590"/>
<path d="M259.43,116.45 L260.93,117.95 L259.43,119.44 L257.94,117.95 Z" fill="#1f4590"/>
<path d="M263.17,117.00 L264.66,118.50 L263.17,120.00 L261.67,118.50 Z" fill="#1f4590"/>
<path d="M258.50,118.10 L260.00,119.60 L258.50,121.09 L257.00,119.60 Z" fill="#1f4590"/>
<path d="M264.10,119.20 L265.60,120.70 L264.10,122.19 L262.61,120.70 Z" fill="#1f4590"/>
<line x1="261.30" y1="115.85" x2="261.30" y2="118.17" stroke="#1f4590" stroke-width="0.8"/>
<line x1="259.30" y1="115.85" x2="263.30" y2="115.85" stroke="#1f4590" stroke-width="0.8"/>
<line x1="259.30" y1="118.17" x2="263.30" y2="118.17" stroke="#1f4590" stroke-width="0.8"/>
<line x1="257.70" y1="117.01" x2="264.90" y2="117.01" stroke="#444" stroke-width="0.9"/>
<circle cx="271.30" cy="156.45" r="1.21" fill="#b0062c"/>
<circle cx="270.37" cy="157.55" r="1.21" fill="#b0062c"/>
<circle cx="272.23" cy="158.65" r="1.21" fill="#b0062c"/>
<circle cx="269.43" cy="159.20" r="1.21" fill="#b0062c"/>
<circle cx="273.17" cy="159.75" r="1.21" fill="#b0062c"/>
<circle cx="268.50" cy="160.30" r="1.21" fill="#b0062c"/>
<circle cx="274.10" cy="160.30" r="1.21" fill="#b0062c"/>
<line x1="271.30" y1="158.34" x2="271.30" y2="159.43" stroke="#b0062c" stroke-width="0.8"/>
<line x1="269.30" y1="158.34" x2="273.30" y2="158.34" stroke="#b0062c" stroke-width="0.8"/>
<line x1="269.30" y1="159.43" x2="273.30" y2="159.43" stroke="#b0062c" stroke-width="0.8"/>
<line x1="267.70" y1="158.89" x2="274.90" y2="158.89" stroke="#444" stroke-width="0.9"/>
<path d="M281.30,147.31 L282.68,149.73 L279.92,149.73 Z" fill="#6cbd3c"/>
<path d="M280.37,148.41 L281.75,150.83 L278.99,150.83 Z" fill="#6cbd3c"/>
<path d="M282.23,150.06 L283.61,152.48 L280.85,152.48 Z" fill="#6cbd3c"/>
<path d="M279.43,151.16 L280.81,153.58 L278.05,153.58 Z" fill="#6cbd3c"/>
<path d="M283.17,151.71 L284.55,154.13 L281.79,154.13 Z" fill="#6cbd3c"/>
<path d="M278.50,152.26 L279.88,154.68 L277.12,154.68 Z" fill="#6cbd3c"/>
<line x1="281.30" y1="150.80" x2="281.30" y2="152.39" stroke="#6cbd3c" stroke-width="0.8"/>
<line x1="279.30" y1="150.80" x2="283.30" y2="150.80" stroke="#6cbd3c" stroke-width="0.8"/>
<line x1="279.30" y1="152.39" x2="283.30" y2="152.39" stroke="#6cbd3c" stroke-width="0.8"/>
<line x1="277.70" y1="151.59" x2="284.90" y2="151.59" stroke="#444" stroke-width="0.9"/>
<path d="M291.30,162.29 L292.68,159.87 L289.92,159.87 Z" fill="#5a2a80"/>
<path d="M290.37,163.39 L291.75,160.97 L288.99,160.97 Z" fill="#5a2a80"/>
<path d="M292.23,163.94 L293.61,161.52 L290.85,161.52 Z" fill="#5a2a80"/>
<path d="M289.43,164.49 L290.81,162.07 L288.05,162.07 Z" fill="#5a2a80"/>
<path d="M293.17,164.49 L294.55,162.07 L291.79,162.07 Z" fill="#5a2a80"/>
<path d="M288.50,165.04 L289.88,162.62 L287.12,162.62 Z" fill="#5a2a80"/>
<line x1="291.30" y1="162.10" x2="291.30" y2="162.90" stroke="#5a2a80" stroke-width="0.8"/>
<line x1="289.30" y1="162.10" x2="293.30" y2="162.10" stroke="#5a2a80" stroke-width="0.8"/>
<line x1="289.30" y1="162.90" x2="293.30" y2="162.90" stroke="#5a2a80" stroke-width="0.8"/>
<line x1="287.70" y1="162.50" x2="294.90" y2="162.50" stroke="#444" stroke-width="0.9"/>
<line x1="261.30" y1="97.00" x2="291.30" y2="97.00" stroke="#7a7a7a" stroke-width="1.0"/>
<line x1="261.30" y1="96.00" x2="261.30" y2="98.00" stroke="#444" stroke-width="0.8"/>
<line x1="291.30" y1="96.00" x2="291.30" y2="98.00" stroke="#444" stroke-width="0.8"/>
<rect x="271.60" y="93.80" width="1.3" height="1.3" fill="#2a2a2a"/>
<rect x="274.30" y="93.80" width="1.3" height="1.3" fill="#2a2a2a"/>
<rect x="277.00" y="93.80" width="1.3" height="1.3" fill="#2a2a2a"/>
<rect x="279.70" y="93.80" width="1.3" height="1.3" fill="#2a2a2a"/>
<line x1="261.30" y1="103.10" x2="281.30" y2="103.10" stroke="#7a7a7a" stroke-width="1.0"/>
<line x1="261.30" y1="102.10" x2="261.30" y2="104.10" stroke="#444" stroke-width="0.8"/>
<line x1="281.30" y1="102.10" x2="281.30" y2="104.10" stroke="#444" stroke-width="0.8"/>
<rect x="266.60" y="99.90" width="1.3" height="1.3" fill="#2a2a2a"/>
<rect x="269.30" y="99.90" width="1.3" height="1.3" fill="#2a2a2a"/>
<rect x="272.00" y="99.90" width="1.3" height="1.3" fill="#2a2a2a"/>
<rect x="274.70" y="99.90" width="1.3" height="1.3" fill="#2a2a2a"/>
<line x1="261.30" y1="110.10" x2="271.30" y2="110.10" stroke="#7a7a7a" stroke-width="1.0"/>
<line x1="261.30" y1="109.10" x2="261.30" y2="111.10" stroke="#444" stroke-width="0.8"/>
<line x1="271.30" y1="109.10" x2="271.30" y2="111.10" stroke="#444" stroke-width="0.8"/>
<rect x="261.60" y="106.90" width="1.3" height="1.3" fill="#2a2a2a"/>
<rect x="264.30" y="106.90" width="1.3" height="1.3" fill="#2a2a2a"/>
<rect x="267.00" y="106.90" width="1.3" height="1.3" fill="#2a2a2a"/>
<rect x="269.70" y="106.90" width="1.3" height="1.3" fill="#2a2a2a"/>
<line x1="271.30" y1="115.50" x2="291.30" y2="115.50" stroke="#7a7a7a" stroke-width="1.0"/>
<line x1="271.30" y1="114.50" x2="271.30" y2="116.50" stroke="#444" stroke-width="0.8"/>
<line x1="291.30" y1="114.50" x2="291.30" y2="116.50" stroke="#444" stroke-width="0.8"/>
<rect x="279.30" y="112.30" width="1.3" height="1.3" fill="#2a2a2a"/>
<rect x="282.00" y="112.30" width="1.3" height="1.3" fill="#2a2a2a"/>
<line x1="281.30" y1="122.50" x2="291.30" y2="122.50" stroke="#7a7a7a" stroke-width="1.0"/>
<line x1="281.30" y1="121.50" x2="281.30" y2="123.50" stroke="#444" stroke-width="0.8"/>
<line x1="291.30" y1="121.50" x2="291.30" y2="123.50" stroke="#444" stroke-width="0.8"/>
<rect x="281.60" y="119.30" width="1.3" height="1.3" fill="#2a2a2a"/>
<rect x="284.30" y="119.30" width="1.3" height="1.3" fill="#2a2a2a"/>
<rect x="287.00" y="119.30" width="1.3" height="1.3" fill="#2a2a2a"/>
<rect x="289.70" y="119.30" width="1.3" height="1.3" fill="#2a2a2a"/>
<text font-size="7.4" text-anchor="end" fill="#231f20" transform="translate(264.10 174.50) rotate(-45) scale(0.85 1)">Ctrl</text>
<text font-size="7.4" text-anchor="end" fill="#231f20" transform="translate(274.10 174.50) rotate(-45) scale(0.85 1)">AC220</text>
<text font-size="7.4" text-anchor="end" fill="#231f20" transform="translate(284.10 174.50) rotate(-45) scale(0.85 1)">22d</text>
<text font-size="7.4" text-anchor="end" fill="#231f20" transform="translate(294.10 174.50) rotate(-45) scale(0.85 1)">AC220+22d</text>
<path d="M311.00,117.00 L312.50,118.50 L311.00,120.00 L309.50,118.50 Z" fill="#1f4590"/>
<path d="M310.07,118.10 L311.56,119.60 L310.07,121.09 L308.57,119.60 Z" fill="#1f4590"/>
<path d="M311.93,119.20 L313.43,120.70 L311.93,122.19 L310.44,120.70 Z" fill="#1f4590"/>
<path d="M309.13,119.75 L310.63,121.25 L309.13,122.75 L307.64,121.25 Z" fill="#1f4590"/>
<path d="M312.87,120.30 L314.36,121.80 L312.87,123.30 L311.37,121.80 Z" fill="#1f4590"/>
<path d="M308.20,121.41 L309.69,122.90 L308.20,124.40 L306.70,122.90 Z" fill="#1f4590"/>
<path d="M313.80,121.95 L315.30,123.45 L313.80,124.94 L312.31,123.45 Z" fill="#1f4590"/>
<line x1="311.00" y1="120.51" x2="311.00" y2="121.83" stroke="#1f4590" stroke-width="0.8"/>
<line x1="309.00" y1="120.51" x2="313.00" y2="120.51" stroke="#1f4590" stroke-width="0.8"/>
<line x1="309.00" y1="121.83" x2="313.00" y2="121.83" stroke="#1f4590" stroke-width="0.8"/>
<line x1="307.40" y1="121.17" x2="314.60" y2="121.17" stroke="#444" stroke-width="0.9"/>
<circle cx="321.00" cy="138.85" r="1.21" fill="#b0062c"/>
<circle cx="320.07" cy="141.05" r="1.21" fill="#b0062c"/>
<circle cx="321.93" cy="143.25" r="1.21" fill="#b0062c"/>
<circle cx="319.13" cy="144.35" r="1.21" fill="#b0062c"/>
<circle cx="322.87" cy="145.45" r="1.21" fill="#b0062c"/>
<circle cx="318.20" cy="147.65" r="1.21" fill="#b0062c"/>
<circle cx="323.80" cy="149.30" r="1.21" fill="#b0062c"/>
<line x1="321.00" y1="142.90" x2="321.00" y2="145.64" stroke="#b0062c" stroke-width="0.8"/>
<line x1="319.00" y1="142.90" x2="323.00" y2="142.90" stroke="#b0062c" stroke-width="0.8"/>
<line x1="319.00" y1="145.64" x2="323.00" y2="145.64" stroke="#b0062c" stroke-width="0.8"/>
<line x1="317.40" y1="144.27" x2="324.60" y2="144.27" stroke="#444" stroke-width="0.9"/>
<path d="M330.80,129.71 L332.18,132.13 L329.42,132.13 Z" fill="#6cbd3c"/>
<path d="M329.87,131.36 L331.25,133.78 L328.49,133.78 Z" fill="#6cbd3c"/>
<path d="M331.73,133.01 L333.11,135.43 L330.35,135.43 Z" fill="#6cbd3c"/>
<path d="M328.93,134.66 L330.31,137.08 L327.55,137.08 Z" fill="#6cbd3c"/>
<path d="M332.67,135.76 L334.05,138.18 L331.29,138.18 Z" fill="#6cbd3c"/>
<path d="M328.00,137.96 L329.38,140.38 L326.62,140.38 Z" fill="#6cbd3c"/>
<path d="M333.60,139.06 L334.98,141.48 L332.22,141.48 Z" fill="#6cbd3c"/>
<line x1="330.80" y1="134.66" x2="330.80" y2="137.23" stroke="#6cbd3c" stroke-width="0.8"/>
<line x1="328.80" y1="134.66" x2="332.80" y2="134.66" stroke="#6cbd3c" stroke-width="0.8"/>
<line x1="328.80" y1="137.23" x2="332.80" y2="137.23" stroke="#6cbd3c" stroke-width="0.8"/>
<line x1="327.20" y1="135.94" x2="334.40" y2="135.94" stroke="#444" stroke-width="0.9"/>
<path d="M340.60,152.94 L341.98,150.52 L339.22,150.52 Z" fill="#5a2a80"/>
<path d="M339.67,154.04 L341.05,151.62 L338.29,151.62 Z" fill="#5a2a80"/>
<path d="M341.53,157.89 L342.91,155.47 L340.15,155.47 Z" fill="#5a2a80"/>
<path d="M338.73,159.54 L340.11,157.12 L337.35,157.12 Z" fill="#5a2a80"/>
<path d="M342.47,161.74 L343.85,159.32 L341.09,159.32 Z" fill="#5a2a80"/>
<path d="M337.80,163.39 L339.18,160.97 L336.42,160.97 Z" fill="#5a2a80"/>
<path d="M343.40,164.49 L344.78,162.07 L342.02,162.07 Z" fill="#5a2a80"/>
<line x1="340.60" y1="156.02" x2="340.60" y2="159.39" stroke="#5a2a80" stroke-width="0.8"/>
<line x1="338.60" y1="156.02" x2="342.60" y2="156.02" stroke="#5a2a80" stroke-width="0.8"/>
<line x1="338.60" y1="159.39" x2="342.60" y2="159.39" stroke="#5a2a80" stroke-width="0.8"/>
<line x1="337.00" y1="157.71" x2="344.20" y2="157.71" stroke="#444" stroke-width="0.9"/>
<line x1="311.00" y1="97.00" x2="340.60" y2="97.00" stroke="#7a7a7a" stroke-width="1.0"/>
<line x1="311.00" y1="96.00" x2="311.00" y2="98.00" stroke="#444" stroke-width="0.8"/>
<line x1="340.60" y1="96.00" x2="340.60" y2="98.00" stroke="#444" stroke-width="0.8"/>
<rect x="321.10" y="93.80" width="1.3" height="1.3" fill="#2a2a2a"/>
<rect x="323.80" y="93.80" width="1.3" height="1.3" fill="#2a2a2a"/>
<rect x="326.50" y="93.80" width="1.3" height="1.3" fill="#2a2a2a"/>
<rect x="329.20" y="93.80" width="1.3" height="1.3" fill="#2a2a2a"/>
<line x1="311.00" y1="103.10" x2="330.80" y2="103.10" stroke="#7a7a7a" stroke-width="1.0"/>
<line x1="311.00" y1="102.10" x2="311.00" y2="104.10" stroke="#444" stroke-width="0.8"/>
<line x1="330.80" y1="102.10" x2="330.80" y2="104.10" stroke="#444" stroke-width="0.8"/>
<rect x="316.20" y="99.90" width="1.3" height="1.3" fill="#2a2a2a"/>
<rect x="318.90" y="99.90" width="1.3" height="1.3" fill="#2a2a2a"/>
<rect x="321.60" y="99.90" width="1.3" height="1.3" fill="#2a2a2a"/>
<rect x="324.30" y="99.90" width="1.3" height="1.3" fill="#2a2a2a"/>
<line x1="311.00" y1="110.10" x2="321.00" y2="110.10" stroke="#7a7a7a" stroke-width="1.0"/>
<line x1="311.00" y1="109.10" x2="311.00" y2="111.10" stroke="#444" stroke-width="0.8"/>
<line x1="321.00" y1="109.10" x2="321.00" y2="111.10" stroke="#444" stroke-width="0.8"/>
<rect x="311.30" y="106.90" width="1.3" height="1.3" fill="#2a2a2a"/>
<rect x="314.00" y="106.90" width="1.3" height="1.3" fill="#2a2a2a"/>
<rect x="316.70" y="106.90" width="1.3" height="1.3" fill="#2a2a2a"/>
<rect x="319.40" y="106.90" width="1.3" height="1.3" fill="#2a2a2a"/>
<line x1="321.00" y1="115.50" x2="340.60" y2="115.50" stroke="#7a7a7a" stroke-width="1.0"/>
<line x1="321.00" y1="114.50" x2="321.00" y2="116.50" stroke="#444" stroke-width="0.8"/>
<line x1="340.60" y1="114.50" x2="340.60" y2="116.50" stroke="#444" stroke-width="0.8"/>
<rect x="327.45" y="112.30" width="1.3" height="1.3" fill="#2a2a2a"/>
<rect x="330.15" y="112.30" width="1.3" height="1.3" fill="#2a2a2a"/>
<rect x="332.85" y="112.30" width="1.3" height="1.3" fill="#2a2a2a"/>
<line x1="330.80" y1="122.50" x2="340.60" y2="122.50" stroke="#7a7a7a" stroke-width="1.0"/>
<line x1="330.80" y1="121.50" x2="330.80" y2="123.50" stroke="#444" stroke-width="0.8"/>
<line x1="340.60" y1="121.50" x2="340.60" y2="123.50" stroke="#444" stroke-width="0.8"/>
<rect x="331.00" y="119.30" width="1.3" height="1.3" fill="#2a2a2a"/>
<rect x="333.70" y="119.30" width="1.3" height="1.3" fill="#2a2a2a"/>
<rect x="336.40" y="119.30" width="1.3" height="1.3" fill="#2a2a2a"/>
<rect x="339.10" y="119.30" width="1.3" height="1.3" fill="#2a2a2a"/>
<text font-size="7.4" text-anchor="end" fill="#231f20" transform="translate(313.80 174.50) rotate(-45) scale(0.85 1)">Ctrl</text>
<text font-size="7.4" text-anchor="end" fill="#231f20" transform="translate(323.80 174.50) rotate(-45) scale(0.85 1)">AC220</text>
<text font-size="7.4" text-anchor="end" fill="#231f20" transform="translate(333.60 174.50) rotate(-45) scale(0.85 1)">22d</text>
<text font-size="7.4" text-anchor="end" fill="#231f20" transform="translate(343.40 174.50) rotate(-45) scale(0.85 1)">AC220+22d</text>
<text font-size="8.8" text-anchor="middle" fill="#231f20" transform="translate(233.20 135.70) rotate(-90) scale(0.745 1)">% hCD45<tspan dy="-0.4em" font-size="0.75em">+</tspan><tspan dy="0.3em" dx="0.12em"> </tspan>cells in BM</text>
<text font-size="11.3" text-anchor="start" font-weight="bold" fill="#000" transform="translate(362.50 79.10) scale(1.06 1)">D</text>
<line x1="400.80" y1="107.20" x2="400.80" y2="165.60" stroke="#231f20" stroke-width="1.3"/>
<line x1="398.20" y1="164.70" x2="400.80" y2="164.70" stroke="#231f20" stroke-width="0.8"/>
<text x="395.00" y="166.90" font-size="6.3" text-anchor="end" fill="#231f20">0</text>
<line x1="398.20" y1="153.70" x2="400.80" y2="153.70" stroke="#231f20" stroke-width="0.8"/>
<text x="395.00" y="155.90" font-size="6.3" text-anchor="end" fill="#231f20">5</text>
<line x1="398.20" y1="142.70" x2="400.80" y2="142.70" stroke="#231f20" stroke-width="0.8"/>
<text x="395.00" y="144.90" font-size="6.3" text-anchor="end" fill="#231f20">10</text>
<line x1="398.20" y1="131.70" x2="400.80" y2="131.70" stroke="#231f20" stroke-width="0.8"/>
<text x="395.00" y="133.90" font-size="6.3" text-anchor="end" fill="#231f20">15</text>
<line x1="398.20" y1="120.70" x2="400.80" y2="120.70" stroke="#231f20" stroke-width="0.8"/>
<text x="395.00" y="122.90" font-size="6.3" text-anchor="end" fill="#231f20">20</text>
<line x1="398.20" y1="109.70" x2="400.80" y2="109.70" stroke="#231f20" stroke-width="0.8"/>
<text x="395.00" y="111.90" font-size="6.3" text-anchor="end" fill="#231f20">25</text>
<line x1="400.80" y1="165.00" x2="493.00" y2="165.00" stroke="#231f20" stroke-width="1.3"/>
<line x1="407.00" y1="165.00" x2="407.00" y2="167.60" stroke="#231f20" stroke-width="0.8"/>
<line x1="417.00" y1="165.00" x2="417.00" y2="167.60" stroke="#231f20" stroke-width="0.8"/>
<line x1="427.00" y1="165.00" x2="427.00" y2="167.60" stroke="#231f20" stroke-width="0.8"/>
<line x1="437.00" y1="165.00" x2="437.00" y2="167.60" stroke="#231f20" stroke-width="0.8"/>
<line x1="456.50" y1="165.00" x2="456.50" y2="167.60" stroke="#231f20" stroke-width="0.8"/>
<line x1="466.50" y1="165.00" x2="466.50" y2="167.60" stroke="#231f20" stroke-width="0.8"/>
<line x1="476.50" y1="165.00" x2="476.50" y2="167.60" stroke="#231f20" stroke-width="0.8"/>
<line x1="486.50" y1="165.00" x2="486.50" y2="167.60" stroke="#231f20" stroke-width="0.8"/>
<text x="421.50" y="89.00" font-size="8.6" text-anchor="middle" fill="#231f20">AML #3</text>
<text x="471.30" y="89.00" font-size="8.6" text-anchor="middle" fill="#231f20">AML #14</text>
<path d="M407.00,131.31 L408.50,132.80 L407.00,134.30 L405.50,132.80 Z" fill="#1f4590"/>
<path d="M406.07,134.60 L407.56,136.10 L406.07,137.59 L404.57,136.10 Z" fill="#1f4590"/>
<path d="M407.93,135.70 L409.43,137.20 L407.93,138.69 L406.44,137.20 Z" fill="#1f4590"/>
<path d="M405.13,136.81 L406.63,138.30 L405.13,139.80 L403.64,138.30 Z" fill="#1f4590"/>
<path d="M408.87,137.90 L410.36,139.40 L408.87,140.89 L407.37,139.40 Z" fill="#1f4590"/>
<path d="M404.20,139.00 L405.69,140.50 L404.20,142.00 L402.70,140.50 Z" fill="#1f4590"/>
<path d="M409.80,140.10 L411.30,141.60 L409.80,143.09 L408.31,141.60 Z" fill="#1f4590"/>
<line x1="407.00" y1="136.87" x2="407.00" y2="139.10" stroke="#1f4590" stroke-width="0.8"/>
<line x1="405.00" y1="136.87" x2="409.00" y2="136.87" stroke="#1f4590" stroke-width="0.8"/>
<line x1="405.00" y1="139.10" x2="409.00" y2="139.10" stroke="#1f4590" stroke-width="0.8"/>
<line x1="403.40" y1="137.99" x2="410.60" y2="137.99" stroke="#444" stroke-width="0.9"/>
<circle cx="417.00" cy="158.10" r="1.21" fill="#b0062c"/>
<circle cx="416.07" cy="158.98" r="1.21" fill="#b0062c"/>
<circle cx="417.93" cy="159.64" r="1.21" fill="#b0062c"/>
<circle cx="415.13" cy="160.30" r="1.21" fill="#b0062c"/>
<circle cx="418.87" cy="160.74" r="1.21" fill="#b0062c"/>
<circle cx="414.20" cy="161.40" r="1.21" fill="#b0062c"/>
<line x1="417.00" y1="159.37" x2="417.00" y2="160.35" stroke="#b0062c" stroke-width="0.8"/>
<line x1="415.00" y1="159.37" x2="419.00" y2="159.37" stroke="#b0062c" stroke-width="0.8"/>
<line x1="415.00" y1="160.35" x2="419.00" y2="160.35" stroke="#b0062c" stroke-width="0.8"/>
<line x1="413.40" y1="159.86" x2="420.60" y2="159.86" stroke="#444" stroke-width="0.9"/>
<path d="M427.00,150.06 L428.38,152.48 L425.62,152.48 Z" fill="#6cbd3c"/>
<path d="M426.07,152.26 L427.45,154.68 L424.69,154.68 Z" fill="#6cbd3c"/>
<path d="M427.93,153.36 L429.31,155.78 L426.55,155.78 Z" fill="#6cbd3c"/>
<path d="M425.13,154.02 L426.51,156.44 L423.75,156.44 Z" fill="#6cbd3c"/>
<path d="M428.87,154.46 L430.25,156.88 L427.49,156.88 Z" fill="#6cbd3c"/>
<path d="M424.20,155.34 L425.58,157.76 L422.82,157.76 Z" fill="#6cbd3c"/>
<line x1="427.00" y1="153.92" x2="427.00" y2="155.46" stroke="#6cbd3c" stroke-width="0.8"/>
<line x1="425.00" y1="153.92" x2="429.00" y2="153.92" stroke="#6cbd3c" stroke-width="0.8"/>
<line x1="425.00" y1="155.46" x2="429.00" y2="155.46" stroke="#6cbd3c" stroke-width="0.8"/>
<line x1="423.40" y1="154.69" x2="430.60" y2="154.69" stroke="#444" stroke-width="0.9"/>
<path d="M437.00,162.84 L438.38,160.42 L435.62,160.42 Z" fill="#5a2a80"/>
<path d="M436.07,163.50 L437.45,161.08 L434.69,161.08 Z" fill="#5a2a80"/>
<path d="M437.93,164.38 L439.31,161.96 L436.55,161.96 Z" fill="#5a2a80"/>
<path d="M435.13,165.04 L436.51,162.62 L433.75,162.62 Z" fill="#5a2a80"/>
<path d="M438.87,165.48 L440.25,163.06 L437.49,163.06 Z" fill="#5a2a80"/>
<path d="M434.20,165.70 L435.58,163.28 L432.82,163.28 Z" fill="#5a2a80"/>
<line x1="437.00" y1="162.59" x2="437.00" y2="163.51" stroke="#5a2a80" stroke-width="0.8"/>
<line x1="435.00" y1="162.59" x2="439.00" y2="162.59" stroke="#5a2a80" stroke-width="0.8"/>
<line x1="435.00" y1="163.51" x2="439.00" y2="163.51" stroke="#5a2a80" stroke-width="0.8"/>
<line x1="433.40" y1="163.05" x2="440.60" y2="163.05" stroke="#444" stroke-width="0.9"/>
<line x1="407.00" y1="97.00" x2="437.00" y2="97.00" stroke="#7a7a7a" stroke-width="1.0"/>
<line x1="407.00" y1="96.00" x2="407.00" y2="98.00" stroke="#444" stroke-width="0.8"/>
<line x1="437.00" y1="96.00" x2="437.00" y2="98.00" stroke="#444" stroke-width="0.8"/>
<rect x="417.30" y="93.80" width="1.3" height="1.3" fill="#2a2a2a"/>
<rect x="420.00" y="93.80" width="1.3" height="1.3" fill="#2a2a2a"/>
<rect x="422.70" y="93.80" width="1.3" height="1.3" fill="#2a2a2a"/>
<rect x="425.40" y="93.80" width="1.3" height="1.3" fill="#2a2a2a"/>
<line x1="407.00" y1="103.10" x2="427.00" y2="103.10" stroke="#7a7a7a" stroke-width="1.0"/>
<line x1="407.00" y1="102.10" x2="407.00" y2="104.10" stroke="#444" stroke-width="0.8"/>
<line x1="427.00" y1="102.10" x2="427.00" y2="104.10" stroke="#444" stroke-width="0.8"/>
<rect x="412.30" y="99.90" width="1.3" height="1.3" fill="#2a2a2a"/>
<rect x="415.00" y="99.90" width="1.3" height="1.3" fill="#2a2a2a"/>
<rect x="417.70" y="99.90" width="1.3" height="1.3" fill="#2a2a2a"/>
<rect x="420.40" y="99.90" width="1.3" height="1.3" fill="#2a2a2a"/>
<line x1="407.00" y1="110.10" x2="417.00" y2="110.10" stroke="#7a7a7a" stroke-width="1.0"/>
<line x1="407.00" y1="109.10" x2="407.00" y2="111.10" stroke="#444" stroke-width="0.8"/>
<line x1="417.00" y1="109.10" x2="417.00" y2="111.10" stroke="#444" stroke-width="0.8"/>
<rect x="407.30" y="106.90" width="1.3" height="1.3" fill="#2a2a2a"/>
<rect x="410.00" y="106.90" width="1.3" height="1.3" fill="#2a2a2a"/>
<rect x="412.70" y="106.90" width="1.3" height="1.3" fill="#2a2a2a"/>
<rect x="415.40" y="106.90" width="1.3" height="1.3" fill="#2a2a2a"/>
<line x1="417.00" y1="115.50" x2="437.00" y2="115.50" stroke="#7a7a7a" stroke-width="1.0"/>
<line x1="417.00" y1="114.50" x2="417.00" y2="116.50" stroke="#444" stroke-width="0.8"/>
<line x1="437.00" y1="114.50" x2="437.00" y2="116.50" stroke="#444" stroke-width="0.8"/>
<rect x="425.00" y="112.30" width="1.3" height="1.3" fill="#2a2a2a"/>
<rect x="427.70" y="112.30" width="1.3" height="1.3" fill="#2a2a2a"/>
<line x1="427.00" y1="122.50" x2="437.00" y2="122.50" stroke="#7a7a7a" stroke-width="1.0"/>
<line x1="427.00" y1="121.50" x2="427.00" y2="123.50" stroke="#444" stroke-width="0.8"/>
<line x1="437.00" y1="121.50" x2="437.00" y2="123.50" stroke="#444" stroke-width="0.8"/>
<rect x="427.30" y="119.30" width="1.3" height="1.3" fill="#2a2a2a"/>
<rect x="430.00" y="119.30" width="1.3" height="1.3" fill="#2a2a2a"/>
<rect x="432.70" y="119.30" width="1.3" height="1.3" fill="#2a2a2a"/>
<rect x="435.40" y="119.30" width="1.3" height="1.3" fill="#2a2a2a"/>
<text font-size="7.4" text-anchor="end" fill="#231f20" transform="translate(409.80 174.50) rotate(-45) scale(0.85 1)">Ctrl</text>
<text font-size="7.4" text-anchor="end" fill="#231f20" transform="translate(419.80 174.50) rotate(-45) scale(0.85 1)">AC220</text>
<text font-size="7.4" text-anchor="end" fill="#231f20" transform="translate(429.80 174.50) rotate(-45) scale(0.85 1)">22d</text>
<text font-size="7.4" text-anchor="end" fill="#231f20" transform="translate(439.80 174.50) rotate(-45) scale(0.85 1)">AC220+22d</text>
<path d="M456.50,119.20 L458.00,120.70 L456.50,122.19 L455.00,120.70 Z" fill="#1f4590"/>
<path d="M455.57,121.41 L457.06,122.90 L455.57,124.40 L454.07,122.90 Z" fill="#1f4590"/>
<path d="M457.43,123.60 L458.93,125.10 L457.43,126.59 L455.94,125.10 Z" fill="#1f4590"/>
<path d="M454.63,124.70 L456.13,126.20 L454.63,127.69 L453.14,126.20 Z" fill="#1f4590"/>
<path d="M458.37,125.80 L459.86,127.30 L458.37,128.79 L456.87,127.30 Z" fill="#1f4590"/>
<path d="M453.70,126.91 L455.19,128.40 L453.70,129.90 L452.20,128.40 Z" fill="#1f4590"/>
<path d="M459.30,128.00 L460.80,129.50 L459.30,131.00 L457.81,129.50 Z" fill="#1f4590"/>
<line x1="456.50" y1="124.56" x2="456.50" y2="126.90" stroke="#1f4590" stroke-width="0.8"/>
<line x1="454.50" y1="124.56" x2="458.50" y2="124.56" stroke="#1f4590" stroke-width="0.8"/>
<line x1="454.50" y1="126.90" x2="458.50" y2="126.90" stroke="#1f4590" stroke-width="0.8"/>
<line x1="452.90" y1="125.73" x2="460.10" y2="125.73" stroke="#444" stroke-width="0.9"/>
<circle cx="466.50" cy="139.40" r="1.21" fill="#b0062c"/>
<circle cx="465.57" cy="144.90" r="1.21" fill="#b0062c"/>
<circle cx="467.43" cy="146.00" r="1.21" fill="#b0062c"/>
<circle cx="464.63" cy="147.10" r="1.21" fill="#b0062c"/>
<circle cx="468.37" cy="148.20" r="1.21" fill="#b0062c"/>
<circle cx="463.70" cy="150.40" r="1.21" fill="#b0062c"/>
<circle cx="469.30" cy="154.80" r="1.21" fill="#b0062c"/>
<line x1="466.50" y1="145.45" x2="466.50" y2="149.06" stroke="#b0062c" stroke-width="0.8"/>
<line x1="464.50" y1="145.45" x2="468.50" y2="145.45" stroke="#b0062c" stroke-width="0.8"/>
<line x1="464.50" y1="149.06" x2="468.50" y2="149.06" stroke="#b0062c" stroke-width="0.8"/>
<line x1="462.90" y1="147.26" x2="470.10" y2="147.26" stroke="#444" stroke-width="0.9"/>
<path d="M476.50,136.86 L477.88,139.28 L475.12,139.28 Z" fill="#6cbd3c"/>
<path d="M475.57,137.96 L476.95,140.38 L474.19,140.38 Z" fill="#6cbd3c"/>
<path d="M477.43,140.16 L478.81,142.58 L476.05,142.58 Z" fill="#6cbd3c"/>
<path d="M474.63,141.26 L476.01,143.68 L473.25,143.68 Z" fill="#6cbd3c"/>
<path d="M478.37,143.46 L479.75,145.88 L476.99,145.88 Z" fill="#6cbd3c"/>
<path d="M473.70,145.66 L475.08,148.08 L472.32,148.08 Z" fill="#6cbd3c"/>
<path d="M479.30,148.52 L480.68,150.94 L477.92,150.94 Z" fill="#6cbd3c"/>
<line x1="476.50" y1="141.84" x2="476.50" y2="145.00" stroke="#6cbd3c" stroke-width="0.8"/>
<line x1="474.50" y1="141.84" x2="478.50" y2="141.84" stroke="#6cbd3c" stroke-width="0.8"/>
<line x1="474.50" y1="145.00" x2="478.50" y2="145.00" stroke="#6cbd3c" stroke-width="0.8"/>
<line x1="472.90" y1="143.42" x2="480.10" y2="143.42" stroke="#444" stroke-width="0.9"/>
<path d="M486.50,156.02 L487.88,153.60 L485.12,153.60 Z" fill="#5a2a80"/>
<path d="M485.57,158.44 L486.95,156.02 L484.19,156.02 Z" fill="#5a2a80"/>
<path d="M487.43,159.54 L488.81,157.12 L486.05,157.12 Z" fill="#5a2a80"/>
<path d="M484.63,161.30 L486.01,158.88 L483.25,158.88 Z" fill="#5a2a80"/>
<path d="M488.37,162.84 L489.75,160.42 L486.99,160.42 Z" fill="#5a2a80"/>
<path d="M483.70,163.94 L485.08,161.52 L482.32,161.52 Z" fill="#5a2a80"/>
<path d="M489.30,165.04 L490.68,162.62 L487.92,162.62 Z" fill="#5a2a80"/>
<line x1="486.50" y1="158.36" x2="486.50" y2="160.79" stroke="#5a2a80" stroke-width="0.8"/>
<line x1="484.50" y1="158.36" x2="488.50" y2="158.36" stroke="#5a2a80" stroke-width="0.8"/>
<line x1="484.50" y1="160.79" x2="488.50" y2="160.79" stroke="#5a2a80" stroke-width="0.8"/>
<line x1="482.90" y1="159.58" x2="490.10" y2="159.58" stroke="#444" stroke-width="0.9"/>
<line x1="456.50" y1="97.00" x2="486.50" y2="97.00" stroke="#7a7a7a" stroke-width="1.0"/>
<line x1="456.50" y1="96.00" x2="456.50" y2="98.00" stroke="#444" stroke-width="0.8"/>
<line x1="486.50" y1="96.00" x2="486.50" y2="98.00" stroke="#444" stroke-width="0.8"/>
<rect x="466.80" y="93.80" width="1.3" height="1.3" fill="#2a2a2a"/>
<rect x="469.50" y="93.80" width="1.3" height="1.3" fill="#2a2a2a"/>
<rect x="472.20" y="93.80" width="1.3" height="1.3" fill="#2a2a2a"/>
<rect x="474.90" y="93.80" width="1.3" height="1.3" fill="#2a2a2a"/>
<line x1="456.50" y1="103.10" x2="476.50" y2="103.10" stroke="#7a7a7a" stroke-width="1.0"/>
<line x1="456.50" y1="102.10" x2="456.50" y2="104.10" stroke="#444" stroke-width="0.8"/>
<line x1="476.50" y1="102.10" x2="476.50" y2="104.10" stroke="#444" stroke-width="0.8"/>
<rect x="461.80" y="99.90" width="1.3" height="1.3" fill="#2a2a2a"/>
<rect x="464.50" y="99.90" width="1.3" height="1.3" fill="#2a2a2a"/>
<rect x="467.20" y="99.90" width="1.3" height="1.3" fill="#2a2a2a"/>
<rect x="469.90" y="99.90" width="1.3" height="1.3" fill="#2a2a2a"/>
<line x1="456.50" y1="110.10" x2="466.50" y2="110.10" stroke="#7a7a7a" stroke-width="1.0"/>
<line x1="456.50" y1="109.10" x2="456.50" y2="111.10" stroke="#444" stroke-width="0.8"/>
<line x1="466.50" y1="109.10" x2="466.50" y2="111.10" stroke="#444" stroke-width="0.8"/>
<rect x="456.80" y="106.90" width="1.3" height="1.3" fill="#2a2a2a"/>
<rect x="459.50" y="106.90" width="1.3" height="1.3" fill="#2a2a2a"/>
<rect x="462.20" y="106.90" width="1.3" height="1.3" fill="#2a2a2a"/>
<rect x="464.90" y="106.90" width="1.3" height="1.3" fill="#2a2a2a"/>
<line x1="466.50" y1="115.50" x2="486.50" y2="115.50" stroke="#7a7a7a" stroke-width="1.0"/>
<line x1="466.50" y1="114.50" x2="466.50" y2="116.50" stroke="#444" stroke-width="0.8"/>
<line x1="486.50" y1="114.50" x2="486.50" y2="116.50" stroke="#444" stroke-width="0.8"/>
<rect x="473.15" y="112.30" width="1.3" height="1.3" fill="#2a2a2a"/>
<rect x="475.85" y="112.30" width="1.3" height="1.3" fill="#2a2a2a"/>
<rect x="478.55" y="112.30" width="1.3" height="1.3" fill="#2a2a2a"/>
<line x1="476.50" y1="122.50" x2="486.50" y2="122.50" stroke="#7a7a7a" stroke-width="1.0"/>
<line x1="476.50" y1="121.50" x2="476.50" y2="123.50" stroke="#444" stroke-width="0.8"/>
<line x1="486.50" y1="121.50" x2="486.50" y2="123.50" stroke="#444" stroke-width="0.8"/>
<rect x="476.80" y="119.30" width="1.3" height="1.3" fill="#2a2a2a"/>
<rect x="479.50" y="119.30" width="1.3" height="1.3" fill="#2a2a2a"/>
<rect x="482.20" y="119.30" width="1.3" height="1.3" fill="#2a2a2a"/>
<rect x="484.90" y="119.30" width="1.3" height="1.3" fill="#2a2a2a"/>
<text font-size="7.4" text-anchor="end" fill="#231f20" transform="translate(459.30 174.50) rotate(-45) scale(0.85 1)">Ctrl</text>
<text font-size="7.4" text-anchor="end" fill="#231f20" transform="translate(469.30 174.50) rotate(-45) scale(0.85 1)">AC220</text>
<text font-size="7.4" text-anchor="end" fill="#231f20" transform="translate(479.30 174.50) rotate(-45) scale(0.85 1)">22d</text>
<text font-size="7.4" text-anchor="end" fill="#231f20" transform="translate(489.30 174.50) rotate(-45) scale(0.85 1)">AC220+22d</text>
<text font-size="8.8" text-anchor="middle" fill="#231f20" transform="translate(372.40 136.00) rotate(-90) scale(0.745 1)">No. hCD45<tspan dy="-0.4em" font-size="0.75em">+</tspan><tspan dy="0.3em" dx="0.12em"> </tspan>cells</text>
<text font-size="8.8" text-anchor="middle" fill="#231f20" transform="translate(382.20 135.70) rotate(-90) scale(0.745 1)">in BM (10<tspan dy="-0.4em" font-size="0.75em">6</tspan><tspan dy="0.3em" dx="0.12em">)</tspan></text>
<text x="6.80" y="223.50" font-size="11.3" text-anchor="start" font-weight="bold" fill="#000">E</text>
<line x1="46.00" y1="246.00" x2="46.00" y2="303.80" stroke="#231f20" stroke-width="1.3"/>
<line x1="43.40" y1="302.80" x2="46.00" y2="302.80" stroke="#231f20" stroke-width="0.8"/>
<text x="40.20" y="305.00" font-size="6.3" text-anchor="end" fill="#231f20">0</text>
<line x1="43.40" y1="289.20" x2="46.00" y2="289.20" stroke="#231f20" stroke-width="0.8"/>
<text x="40.20" y="291.40" font-size="6.3" text-anchor="end" fill="#231f20">2</text>
<line x1="43.40" y1="275.60" x2="46.00" y2="275.60" stroke="#231f20" stroke-width="0.8"/>
<text x="40.20" y="277.80" font-size="6.3" text-anchor="end" fill="#231f20">4</text>
<line x1="43.40" y1="262.00" x2="46.00" y2="262.00" stroke="#231f20" stroke-width="0.8"/>
<text x="40.20" y="264.20" font-size="6.3" text-anchor="end" fill="#231f20">6</text>
<line x1="43.40" y1="248.40" x2="46.00" y2="248.40" stroke="#231f20" stroke-width="0.8"/>
<text x="40.20" y="250.60" font-size="6.3" text-anchor="end" fill="#231f20">8</text>
<line x1="46.00" y1="303.20" x2="123.00" y2="303.20" stroke="#231f20" stroke-width="1.3"/>
<line x1="58.60" y1="303.20" x2="58.60" y2="305.80" stroke="#231f20" stroke-width="0.8"/>
<line x1="76.00" y1="303.20" x2="76.00" y2="305.80" stroke="#231f20" stroke-width="0.8"/>
<line x1="93.30" y1="303.20" x2="93.30" y2="305.80" stroke="#231f20" stroke-width="0.8"/>
<line x1="110.60" y1="303.20" x2="110.60" y2="305.80" stroke="#231f20" stroke-width="0.8"/>
<text x="83.70" y="226.00" font-size="8.6" text-anchor="middle" fill="#231f20">AML #3</text>
<path d="M58.60,255.75 L60.09,257.24 L58.60,258.74 L57.11,257.24 Z" fill="#1f4590"/>
<path d="M57.43,257.78 L58.93,259.28 L57.43,260.77 L55.94,259.28 Z" fill="#1f4590"/>
<path d="M59.77,263.23 L61.26,264.72 L59.77,266.22 L58.27,264.72 Z" fill="#1f4590"/>
<path d="M56.27,267.31 L57.76,268.80 L56.27,270.30 L54.77,268.80 Z" fill="#1f4590"/>
<path d="M60.93,274.11 L62.43,275.60 L60.93,277.10 L59.44,275.60 Z" fill="#1f4590"/>
<path d="M55.10,276.82 L56.59,278.32 L55.10,279.81 L53.61,278.32 Z" fill="#1f4590"/>
<line x1="58.60" y1="263.84" x2="58.60" y2="270.81" stroke="#1f4590" stroke-width="0.8"/>
<line x1="55.60" y1="263.84" x2="61.60" y2="263.84" stroke="#1f4590" stroke-width="0.8"/>
<line x1="55.60" y1="270.81" x2="61.60" y2="270.81" stroke="#1f4590" stroke-width="0.8"/>
<line x1="52.40" y1="267.33" x2="64.80" y2="267.33" stroke="#444" stroke-width="0.9"/>
<circle cx="76.00" cy="262.00" r="1.21" fill="#b0062c"/>
<circle cx="74.83" cy="270.16" r="1.21" fill="#b0062c"/>
<circle cx="77.17" cy="270.16" r="1.21" fill="#b0062c"/>
<circle cx="73.67" cy="276.96" r="1.21" fill="#b0062c"/>
<circle cx="78.33" cy="281.04" r="1.21" fill="#b0062c"/>
<circle cx="72.50" cy="286.48" r="1.21" fill="#b0062c"/>
<line x1="76.00" y1="270.88" x2="76.00" y2="278.05" stroke="#b0062c" stroke-width="0.8"/>
<line x1="73.00" y1="270.88" x2="79.00" y2="270.88" stroke="#b0062c" stroke-width="0.8"/>
<line x1="73.00" y1="278.05" x2="79.00" y2="278.05" stroke="#b0062c" stroke-width="0.8"/>
<line x1="69.80" y1="274.47" x2="82.20" y2="274.47" stroke="#444" stroke-width="0.9"/>
<path d="M93.30,289.80 L94.68,292.22 L91.92,292.22 Z" fill="#6cbd3c"/>
<path d="M92.13,294.56 L93.51,296.98 L90.75,296.98 Z" fill="#6cbd3c"/>
<path d="M94.47,295.24 L95.85,297.66 L93.09,297.66 Z" fill="#6cbd3c"/>
<path d="M90.97,295.92 L92.35,298.34 L89.59,298.34 Z" fill="#6cbd3c"/>
<path d="M95.63,296.60 L97.01,299.02 L94.25,299.02 Z" fill="#6cbd3c"/>
<path d="M89.80,297.28 L91.18,299.70 L88.42,299.70 Z" fill="#6cbd3c"/>
<line x1="93.30" y1="295.25" x2="93.30" y2="297.43" stroke="#6cbd3c" stroke-width="0.8"/>
<line x1="90.30" y1="295.25" x2="96.30" y2="295.25" stroke="#6cbd3c" stroke-width="0.8"/>
<line x1="90.30" y1="297.43" x2="96.30" y2="297.43" stroke="#6cbd3c" stroke-width="0.8"/>
<line x1="87.10" y1="296.34" x2="99.50" y2="296.34" stroke="#444" stroke-width="0.9"/>
<path d="M110.60,294.72 L111.98,292.30 L109.22,292.30 Z" fill="#5a2a80"/>
<path d="M109.43,298.12 L110.81,295.70 L108.05,295.70 Z" fill="#5a2a80"/>
<path d="M111.77,299.48 L113.15,297.06 L110.39,297.06 Z" fill="#5a2a80"/>
<path d="M108.27,300.16 L109.65,297.74 L106.89,297.74 Z" fill="#5a2a80"/>
<path d="M112.93,300.84 L114.31,298.42 L111.55,298.42 Z" fill="#5a2a80"/>
<path d="M107.10,302.20 L108.48,299.78 L105.72,299.78 Z" fill="#5a2a80"/>
<line x1="110.60" y1="296.75" x2="110.60" y2="298.88" stroke="#5a2a80" stroke-width="0.8"/>
<line x1="107.60" y1="296.75" x2="113.60" y2="296.75" stroke="#5a2a80" stroke-width="0.8"/>
<line x1="107.60" y1="298.88" x2="113.60" y2="298.88" stroke="#5a2a80" stroke-width="0.8"/>
<line x1="104.40" y1="297.81" x2="116.80" y2="297.81" stroke="#444" stroke-width="0.9"/>
<line x1="58.60" y1="234.60" x2="110.60" y2="234.60" stroke="#7a7a7a" stroke-width="1.0"/>
<line x1="58.60" y1="233.60" x2="58.60" y2="235.60" stroke="#444" stroke-width="0.8"/>
<line x1="110.60" y1="233.60" x2="110.60" y2="235.60" stroke="#444" stroke-width="0.8"/>
<rect x="81.25" y="231.40" width="1.3" height="1.3" fill="#2a2a2a"/>
<rect x="83.95" y="231.40" width="1.3" height="1.3" fill="#2a2a2a"/>
<rect x="86.65" y="231.40" width="1.3" height="1.3" fill="#2a2a2a"/>
<line x1="58.60" y1="240.80" x2="93.30" y2="240.80" stroke="#7a7a7a" stroke-width="1.0"/>
<line x1="58.60" y1="239.80" x2="58.60" y2="241.80" stroke="#444" stroke-width="0.8"/>
<line x1="93.30" y1="239.80" x2="93.30" y2="241.80" stroke="#444" stroke-width="0.8"/>
<rect x="72.60" y="237.60" width="1.3" height="1.3" fill="#2a2a2a"/>
<rect x="75.30" y="237.60" width="1.3" height="1.3" fill="#2a2a2a"/>
<rect x="78.00" y="237.60" width="1.3" height="1.3" fill="#2a2a2a"/>
<line x1="76.00" y1="247.00" x2="110.60" y2="247.00" stroke="#7a7a7a" stroke-width="1.0"/>
<line x1="76.00" y1="246.00" x2="76.00" y2="248.00" stroke="#444" stroke-width="0.8"/>
<line x1="110.60" y1="246.00" x2="110.60" y2="248.00" stroke="#444" stroke-width="0.8"/>
<rect x="91.30" y="243.80" width="1.3" height="1.3" fill="#2a2a2a"/>
<rect x="94.00" y="243.80" width="1.3" height="1.3" fill="#2a2a2a"/>
<line x1="76.00" y1="253.30" x2="93.30" y2="253.30" stroke="#7a7a7a" stroke-width="1.0"/>
<line x1="76.00" y1="252.30" x2="76.00" y2="254.30" stroke="#444" stroke-width="0.8"/>
<line x1="93.30" y1="252.30" x2="93.30" y2="254.30" stroke="#444" stroke-width="0.8"/>
<rect x="82.65" y="250.10" width="1.3" height="1.3" fill="#2a2a2a"/>
<rect x="85.35" y="250.10" width="1.3" height="1.3" fill="#2a2a2a"/>
<text font-size="7.4" text-anchor="end" fill="#231f20" transform="translate(61.40 312.70) rotate(-45) scale(0.85 1)">Ctrl</text>
<text font-size="7.4" text-anchor="end" fill="#231f20" transform="translate(78.80 312.70) rotate(-45) scale(0.85 1)">AC220</text>
<text font-size="7.4" text-anchor="end" fill="#231f20" transform="translate(96.10 312.70) rotate(-45) scale(0.85 1)">22d</text>
<text font-size="7.4" text-anchor="end" fill="#231f20" transform="translate(113.40 312.70) rotate(-45) scale(0.85 1)">AC220+22d</text>
<text font-size="8.8" text-anchor="middle" fill="#231f20" transform="translate(21.60 274.70) rotate(-90) scale(0.745 1)">% hCD45<tspan dy="-0.4em" font-size="0.75em">+</tspan><tspan dy="0.3em" dx="0.12em">CD34</tspan><tspan dy="-0.4em" font-size="0.75em">+</tspan><tspan dy="0.3em" dx="0.12em"> </tspan></text>
<text font-size="8.8" text-anchor="middle" fill="#231f20" transform="translate(31.20 273.50) rotate(-90) scale(0.745 1)">cells in BM</text>
<line x1="169.00" y1="246.00" x2="169.00" y2="303.80" stroke="#231f20" stroke-width="1.3"/>
<line x1="166.40" y1="303.20" x2="169.00" y2="303.20" stroke="#231f20" stroke-width="0.8"/>
<text x="163.20" y="305.40" font-size="6.3" text-anchor="end" fill="#231f20">0</text>
<line x1="166.40" y1="289.50" x2="169.00" y2="289.50" stroke="#231f20" stroke-width="0.8"/>
<text x="163.20" y="291.70" font-size="6.3" text-anchor="end" fill="#231f20">10</text>
<line x1="166.40" y1="275.80" x2="169.00" y2="275.80" stroke="#231f20" stroke-width="0.8"/>
<text x="163.20" y="278.00" font-size="6.3" text-anchor="end" fill="#231f20">20</text>
<line x1="166.40" y1="262.10" x2="169.00" y2="262.10" stroke="#231f20" stroke-width="0.8"/>
<text x="163.20" y="264.30" font-size="6.3" text-anchor="end" fill="#231f20">30</text>
<line x1="166.40" y1="248.40" x2="169.00" y2="248.40" stroke="#231f20" stroke-width="0.8"/>
<text x="163.20" y="250.60" font-size="6.3" text-anchor="end" fill="#231f20">40</text>
<line x1="169.00" y1="303.20" x2="246.00" y2="303.20" stroke="#231f20" stroke-width="1.3"/>
<line x1="181.10" y1="303.20" x2="181.10" y2="305.80" stroke="#231f20" stroke-width="0.8"/>
<line x1="198.50" y1="303.20" x2="198.50" y2="305.80" stroke="#231f20" stroke-width="0.8"/>
<line x1="216.60" y1="303.20" x2="216.60" y2="305.80" stroke="#231f20" stroke-width="0.8"/>
<line x1="234.00" y1="303.20" x2="234.00" y2="305.80" stroke="#231f20" stroke-width="0.8"/>
<text x="206.50" y="226.00" font-size="8.6" text-anchor="middle" fill="#231f20">AML #14</text>
<path d="M181.10,274.31 L182.59,275.80 L181.10,277.30 L179.60,275.80 Z" fill="#1f4590"/>
<path d="M179.93,275.68 L181.43,277.17 L179.93,278.67 L178.44,277.17 Z" fill="#1f4590"/>
<path d="M182.27,279.78 L183.76,281.28 L182.27,282.77 L180.77,281.28 Z" fill="#1f4590"/>
<path d="M178.77,282.52 L180.26,284.02 L178.77,285.51 L177.27,284.02 Z" fill="#1f4590"/>
<path d="M183.43,285.26 L184.93,286.76 L183.43,288.25 L181.94,286.76 Z" fill="#1f4590"/>
<path d="M177.60,290.75 L179.09,292.24 L177.60,293.74 L176.10,292.24 Z" fill="#1f4590"/>
<line x1="181.10" y1="280.37" x2="181.10" y2="285.39" stroke="#1f4590" stroke-width="0.8"/>
<line x1="178.10" y1="280.37" x2="184.10" y2="280.37" stroke="#1f4590" stroke-width="0.8"/>
<line x1="178.10" y1="285.39" x2="184.10" y2="285.39" stroke="#1f4590" stroke-width="0.8"/>
<line x1="174.90" y1="282.88" x2="187.30" y2="282.88" stroke="#444" stroke-width="0.9"/>
<circle cx="198.50" cy="259.36" r="1.21" fill="#b0062c"/>
<circle cx="197.33" cy="264.84" r="1.21" fill="#b0062c"/>
<circle cx="199.67" cy="268.95" r="1.21" fill="#b0062c"/>
<circle cx="196.17" cy="273.06" r="1.21" fill="#b0062c"/>
<circle cx="200.83" cy="275.80" r="1.21" fill="#b0062c"/>
<circle cx="195.00" cy="279.91" r="1.21" fill="#b0062c"/>
<line x1="198.50" y1="267.26" x2="198.50" y2="273.38" stroke="#b0062c" stroke-width="0.8"/>
<line x1="195.50" y1="267.26" x2="201.50" y2="267.26" stroke="#b0062c" stroke-width="0.8"/>
<line x1="195.50" y1="273.38" x2="201.50" y2="273.38" stroke="#b0062c" stroke-width="0.8"/>
<line x1="192.30" y1="270.32" x2="204.70" y2="270.32" stroke="#444" stroke-width="0.9"/>
<path d="M216.60,293.54 L217.98,295.96 L215.22,295.96 Z" fill="#6cbd3c"/>
<path d="M215.43,295.60 L216.81,298.01 L214.05,298.01 Z" fill="#6cbd3c"/>
<path d="M217.77,296.97 L219.15,299.38 L216.39,299.38 Z" fill="#6cbd3c"/>
<path d="M214.27,297.65 L215.65,300.07 L212.89,300.07 Z" fill="#6cbd3c"/>
<path d="M218.93,298.34 L220.31,300.75 L217.55,300.75 Z" fill="#6cbd3c"/>
<path d="M213.10,299.02 L214.48,301.44 L211.72,301.44 Z" fill="#6cbd3c"/>
<line x1="216.60" y1="297.47" x2="216.60" y2="299.11" stroke="#6cbd3c" stroke-width="0.8"/>
<line x1="213.60" y1="297.47" x2="219.60" y2="297.47" stroke="#6cbd3c" stroke-width="0.8"/>
<line x1="213.60" y1="299.11" x2="219.60" y2="299.11" stroke="#6cbd3c" stroke-width="0.8"/>
<line x1="210.40" y1="298.29" x2="222.80" y2="298.29" stroke="#444" stroke-width="0.9"/>
<path d="M234.00,290.94 L235.38,288.52 L232.62,288.52 Z" fill="#5a2a80"/>
<path d="M232.83,296.42 L234.21,294.00 L231.45,294.00 Z" fill="#5a2a80"/>
<path d="M235.17,299.16 L236.55,296.74 L233.79,296.74 Z" fill="#5a2a80"/>
<path d="M231.67,300.53 L233.05,298.11 L230.29,298.11 Z" fill="#5a2a80"/>
<path d="M236.33,302.58 L237.71,300.17 L234.95,300.17 Z" fill="#5a2a80"/>
<path d="M230.50,303.27 L231.88,300.85 L229.12,300.85 Z" fill="#5a2a80"/>
<line x1="234.00" y1="295.51" x2="234.00" y2="299.25" stroke="#5a2a80" stroke-width="0.8"/>
<line x1="231.00" y1="295.51" x2="237.00" y2="295.51" stroke="#5a2a80" stroke-width="0.8"/>
<line x1="231.00" y1="299.25" x2="237.00" y2="299.25" stroke="#5a2a80" stroke-width="0.8"/>
<line x1="227.80" y1="297.38" x2="240.20" y2="297.38" stroke="#444" stroke-width="0.9"/>
<line x1="181.10" y1="234.60" x2="234.00" y2="234.60" stroke="#7a7a7a" stroke-width="1.0"/>
<line x1="181.10" y1="233.60" x2="181.10" y2="235.60" stroke="#444" stroke-width="0.8"/>
<line x1="234.00" y1="233.60" x2="234.00" y2="235.60" stroke="#444" stroke-width="0.8"/>
<rect x="204.20" y="231.40" width="1.3" height="1.3" fill="#2a2a2a"/>
<rect x="206.90" y="231.40" width="1.3" height="1.3" fill="#2a2a2a"/>
<rect x="209.60" y="231.40" width="1.3" height="1.3" fill="#2a2a2a"/>
<line x1="181.10" y1="240.80" x2="216.60" y2="240.80" stroke="#7a7a7a" stroke-width="1.0"/>
<line x1="181.10" y1="239.80" x2="181.10" y2="241.80" stroke="#444" stroke-width="0.8"/>
<line x1="216.60" y1="239.80" x2="216.60" y2="241.80" stroke="#444" stroke-width="0.8"/>
<rect x="195.50" y="237.60" width="1.3" height="1.3" fill="#2a2a2a"/>
<rect x="198.20" y="237.60" width="1.3" height="1.3" fill="#2a2a2a"/>
<rect x="200.90" y="237.60" width="1.3" height="1.3" fill="#2a2a2a"/>
<line x1="198.50" y1="247.00" x2="234.00" y2="247.00" stroke="#7a7a7a" stroke-width="1.0"/>
<line x1="198.50" y1="246.00" x2="198.50" y2="248.00" stroke="#444" stroke-width="0.8"/>
<line x1="234.00" y1="246.00" x2="234.00" y2="248.00" stroke="#444" stroke-width="0.8"/>
<rect x="211.55" y="243.80" width="1.3" height="1.3" fill="#2a2a2a"/>
<rect x="214.25" y="243.80" width="1.3" height="1.3" fill="#2a2a2a"/>
<rect x="216.95" y="243.80" width="1.3" height="1.3" fill="#2a2a2a"/>
<rect x="219.65" y="243.80" width="1.3" height="1.3" fill="#2a2a2a"/>
<line x1="198.50" y1="253.30" x2="216.60" y2="253.30" stroke="#7a7a7a" stroke-width="1.0"/>
<line x1="198.50" y1="252.30" x2="198.50" y2="254.30" stroke="#444" stroke-width="0.8"/>
<line x1="216.60" y1="252.30" x2="216.60" y2="254.30" stroke="#444" stroke-width="0.8"/>
<rect x="204.20" y="250.10" width="1.3" height="1.3" fill="#2a2a2a"/>
<rect x="206.90" y="250.10" width="1.3" height="1.3" fill="#2a2a2a"/>
<rect x="209.60" y="250.10" width="1.3" height="1.3" fill="#2a2a2a"/>
<text font-size="7.4" text-anchor="end" fill="#231f20" transform="translate(183.90 312.70) rotate(-45) scale(0.85 1)">Ctrl</text>
<text font-size="7.4" text-anchor="end" fill="#231f20" transform="translate(201.30 312.70) rotate(-45) scale(0.85 1)">AC220</text>
<text font-size="7.4" text-anchor="end" fill="#231f20" transform="translate(219.40 312.70) rotate(-45) scale(0.85 1)">22d</text>
<text font-size="7.4" text-anchor="end" fill="#231f20" transform="translate(236.80 312.70) rotate(-45) scale(0.85 1)">AC220+22d</text>
<text font-size="8.8" text-anchor="middle" fill="#231f20" transform="translate(141.60 274.70) rotate(-90) scale(0.745 1)">% hCD45<tspan dy="-0.4em" font-size="0.75em">+</tspan><tspan dy="0.3em" dx="0.12em">CD34</tspan><tspan dy="-0.4em" font-size="0.75em">+</tspan><tspan dy="0.3em" dx="0.12em"> </tspan></text>
<text font-size="8.8" text-anchor="middle" fill="#231f20" transform="translate(151.20 273.50) rotate(-90) scale(0.745 1)">cells in BM</text>
<text x="252.10" y="223.30" font-size="11.3" text-anchor="start" font-weight="bold" fill="#000">F</text>
<line x1="293.10" y1="246.00" x2="293.10" y2="303.60" stroke="#231f20" stroke-width="1.3"/>
<line x1="290.50" y1="302.70" x2="293.10" y2="302.70" stroke="#231f20" stroke-width="0.8"/>
<text x="287.30" y="304.90" font-size="6.3" text-anchor="end" fill="#231f20">0.0</text>
<line x1="290.50" y1="284.47" x2="293.10" y2="284.47" stroke="#231f20" stroke-width="0.8"/>
<text x="287.30" y="286.67" font-size="6.3" text-anchor="end" fill="#231f20">0.5</text>
<line x1="290.50" y1="266.23" x2="293.10" y2="266.23" stroke="#231f20" stroke-width="0.8"/>
<text x="287.30" y="268.43" font-size="6.3" text-anchor="end" fill="#231f20">1.0</text>
<line x1="290.50" y1="248.00" x2="293.10" y2="248.00" stroke="#231f20" stroke-width="0.8"/>
<text x="287.30" y="250.20" font-size="6.3" text-anchor="end" fill="#231f20">1.5</text>
<line x1="293.10" y1="303.00" x2="369.80" y2="303.00" stroke="#231f20" stroke-width="1.3"/>
<line x1="305.20" y1="303.00" x2="305.20" y2="305.60" stroke="#231f20" stroke-width="0.8"/>
<line x1="322.70" y1="303.00" x2="322.70" y2="305.60" stroke="#231f20" stroke-width="0.8"/>
<line x1="340.70" y1="303.00" x2="340.70" y2="305.60" stroke="#231f20" stroke-width="0.8"/>
<line x1="357.70" y1="303.00" x2="357.70" y2="305.60" stroke="#231f20" stroke-width="0.8"/>
<text x="331.30" y="226.00" font-size="8.6" text-anchor="middle" fill="#231f20">AML #3</text>
<path d="M305.20,265.83 L306.69,267.33 L305.20,268.82 L303.70,267.33 Z" fill="#1f4590"/>
<path d="M304.03,267.29 L305.53,268.79 L304.03,270.28 L302.54,268.79 Z" fill="#1f4590"/>
<path d="M306.37,272.03 L307.86,273.53 L306.37,275.02 L304.87,273.53 Z" fill="#1f4590"/>
<path d="M302.87,274.95 L304.36,276.44 L302.87,277.94 L301.37,276.44 Z" fill="#1f4590"/>
<path d="M307.53,282.97 L309.03,284.47 L307.53,285.96 L306.04,284.47 Z" fill="#1f4590"/>
<path d="M301.70,283.70 L303.19,285.20 L301.70,286.69 L300.20,285.20 Z" fill="#1f4590"/>
<line x1="305.20" y1="272.85" x2="305.20" y2="279.07" stroke="#1f4590" stroke-width="0.8"/>
<line x1="302.20" y1="272.85" x2="308.20" y2="272.85" stroke="#1f4590" stroke-width="0.8"/>
<line x1="302.20" y1="279.07" x2="308.20" y2="279.07" stroke="#1f4590" stroke-width="0.8"/>
<line x1="299.00" y1="275.96" x2="311.40" y2="275.96" stroke="#444" stroke-width="0.9"/>
<circle cx="322.70" cy="256.39" r="1.21" fill="#b0062c"/>
<circle cx="321.53" cy="258.94" r="1.21" fill="#b0062c"/>
<circle cx="323.87" cy="266.23" r="1.21" fill="#b0062c"/>
<circle cx="320.37" cy="275.35" r="1.21" fill="#b0062c"/>
<circle cx="325.03" cy="279.00" r="1.21" fill="#b0062c"/>
<circle cx="319.20" cy="287.38" r="1.21" fill="#b0062c"/>
<line x1="322.70" y1="265.61" x2="322.70" y2="275.49" stroke="#b0062c" stroke-width="0.8"/>
<line x1="319.70" y1="265.61" x2="325.70" y2="265.61" stroke="#b0062c" stroke-width="0.8"/>
<line x1="319.70" y1="275.49" x2="325.70" y2="275.49" stroke="#b0062c" stroke-width="0.8"/>
<line x1="316.50" y1="270.55" x2="328.90" y2="270.55" stroke="#444" stroke-width="0.9"/>
<path d="M340.70,288.50 L342.08,290.91 L339.32,290.91 Z" fill="#6cbd3c"/>
<path d="M339.53,293.24 L340.91,295.65 L338.15,295.65 Z" fill="#6cbd3c"/>
<path d="M341.87,294.70 L343.25,297.11 L340.49,297.11 Z" fill="#6cbd3c"/>
<path d="M338.37,295.79 L339.75,298.21 L336.99,298.21 Z" fill="#6cbd3c"/>
<path d="M343.03,296.52 L344.41,298.94 L341.65,298.94 Z" fill="#6cbd3c"/>
<path d="M337.20,297.62 L338.58,300.03 L335.82,300.03 Z" fill="#6cbd3c"/>
<line x1="340.70" y1="294.50" x2="340.70" y2="297.16" stroke="#6cbd3c" stroke-width="0.8"/>
<line x1="337.70" y1="294.50" x2="343.70" y2="294.50" stroke="#6cbd3c" stroke-width="0.8"/>
<line x1="337.70" y1="297.16" x2="343.70" y2="297.16" stroke="#6cbd3c" stroke-width="0.8"/>
<line x1="334.50" y1="295.83" x2="346.90" y2="295.83" stroke="#444" stroke-width="0.9"/>
<path d="M357.70,295.02 L359.08,292.61 L356.32,292.61 Z" fill="#5a2a80"/>
<path d="M356.53,296.84 L357.91,294.43 L355.15,294.43 Z" fill="#5a2a80"/>
<path d="M358.87,298.67 L360.25,296.25 L357.49,296.25 Z" fill="#5a2a80"/>
<path d="M355.37,299.76 L356.75,297.35 L353.99,297.35 Z" fill="#5a2a80"/>
<path d="M360.03,300.49 L361.41,298.08 L358.65,298.08 Z" fill="#5a2a80"/>
<path d="M354.20,301.22 L355.58,298.81 L352.82,298.81 Z" fill="#5a2a80"/>
<line x1="357.70" y1="296.27" x2="357.70" y2="298.19" stroke="#5a2a80" stroke-width="0.8"/>
<line x1="354.70" y1="296.27" x2="360.70" y2="296.27" stroke="#5a2a80" stroke-width="0.8"/>
<line x1="354.70" y1="298.19" x2="360.70" y2="298.19" stroke="#5a2a80" stroke-width="0.8"/>
<line x1="351.50" y1="297.23" x2="363.90" y2="297.23" stroke="#444" stroke-width="0.9"/>
<line x1="305.20" y1="234.60" x2="357.70" y2="234.60" stroke="#7a7a7a" stroke-width="1.0"/>
<line x1="305.20" y1="233.60" x2="305.20" y2="235.60" stroke="#444" stroke-width="0.8"/>
<line x1="357.70" y1="233.60" x2="357.70" y2="235.60" stroke="#444" stroke-width="0.8"/>
<rect x="328.10" y="231.40" width="1.3" height="1.3" fill="#2a2a2a"/>
<rect x="330.80" y="231.40" width="1.3" height="1.3" fill="#2a2a2a"/>
<rect x="333.50" y="231.40" width="1.3" height="1.3" fill="#2a2a2a"/>
<line x1="305.20" y1="240.80" x2="340.70" y2="240.80" stroke="#7a7a7a" stroke-width="1.0"/>
<line x1="305.20" y1="239.80" x2="305.20" y2="241.80" stroke="#444" stroke-width="0.8"/>
<line x1="340.70" y1="239.80" x2="340.70" y2="241.80" stroke="#444" stroke-width="0.8"/>
<rect x="319.60" y="237.60" width="1.3" height="1.3" fill="#2a2a2a"/>
<rect x="322.30" y="237.60" width="1.3" height="1.3" fill="#2a2a2a"/>
<rect x="325.00" y="237.60" width="1.3" height="1.3" fill="#2a2a2a"/>
<line x1="322.70" y1="247.00" x2="357.70" y2="247.00" stroke="#7a7a7a" stroke-width="1.0"/>
<line x1="322.70" y1="246.00" x2="322.70" y2="248.00" stroke="#444" stroke-width="0.8"/>
<line x1="357.70" y1="246.00" x2="357.70" y2="248.00" stroke="#444" stroke-width="0.8"/>
<rect x="338.20" y="243.80" width="1.3" height="1.3" fill="#2a2a2a"/>
<rect x="340.90" y="243.80" width="1.3" height="1.3" fill="#2a2a2a"/>
<line x1="322.70" y1="253.30" x2="340.70" y2="253.30" stroke="#7a7a7a" stroke-width="1.0"/>
<line x1="322.70" y1="252.30" x2="322.70" y2="254.30" stroke="#444" stroke-width="0.8"/>
<line x1="340.70" y1="252.30" x2="340.70" y2="254.30" stroke="#444" stroke-width="0.8"/>
<rect x="329.70" y="250.10" width="1.3" height="1.3" fill="#2a2a2a"/>
<rect x="332.40" y="250.10" width="1.3" height="1.3" fill="#2a2a2a"/>
<text font-size="7.4" text-anchor="end" fill="#231f20" transform="translate(308.00 312.50) rotate(-45) scale(0.85 1)">Ctrl</text>
<text font-size="7.4" text-anchor="end" fill="#231f20" transform="translate(325.50 312.50) rotate(-45) scale(0.85 1)">AC220</text>
<text font-size="7.4" text-anchor="end" fill="#231f20" transform="translate(343.50 312.50) rotate(-45) scale(0.85 1)">22d</text>
<text font-size="7.4" text-anchor="end" fill="#231f20" transform="translate(360.50 312.50) rotate(-45) scale(0.85 1)">AC220+22d</text>
<text font-size="8.8" text-anchor="middle" fill="#231f20" transform="translate(263.20 274.00) rotate(-90) scale(0.745 1)">No. hCD45<tspan dy="-0.4em" font-size="0.75em">+</tspan><tspan dy="0.3em" dx="0.12em">CD34</tspan><tspan dy="-0.4em" font-size="0.75em">+</tspan><tspan dy="0.3em" dx="0.12em"> cells</tspan></text>
<text font-size="8.8" text-anchor="middle" fill="#231f20" transform="translate(272.50 274.40) rotate(-90) scale(0.745 1)">in BM (10<tspan dy="-0.4em" font-size="0.75em">6</tspan><tspan dy="0.3em" dx="0.12em">)</tspan></text>
<line x1="419.80" y1="246.00" x2="419.80" y2="303.60" stroke="#231f20" stroke-width="1.3"/>
<line x1="417.20" y1="302.70" x2="419.80" y2="302.70" stroke="#231f20" stroke-width="0.8"/>
<text x="414.00" y="304.90" font-size="6.3" text-anchor="end" fill="#231f20">0</text>
<line x1="417.20" y1="291.76" x2="419.80" y2="291.76" stroke="#231f20" stroke-width="0.8"/>
<text x="414.00" y="293.96" font-size="6.3" text-anchor="end" fill="#231f20">2</text>
<line x1="417.20" y1="280.82" x2="419.80" y2="280.82" stroke="#231f20" stroke-width="0.8"/>
<text x="414.00" y="283.02" font-size="6.3" text-anchor="end" fill="#231f20">4</text>
<line x1="417.20" y1="269.88" x2="419.80" y2="269.88" stroke="#231f20" stroke-width="0.8"/>
<text x="414.00" y="272.08" font-size="6.3" text-anchor="end" fill="#231f20">6</text>
<line x1="417.20" y1="258.94" x2="419.80" y2="258.94" stroke="#231f20" stroke-width="0.8"/>
<text x="414.00" y="261.14" font-size="6.3" text-anchor="end" fill="#231f20">8</text>
<line x1="417.20" y1="248.00" x2="419.80" y2="248.00" stroke="#231f20" stroke-width="0.8"/>
<text x="414.00" y="250.20" font-size="6.3" text-anchor="end" fill="#231f20">10</text>
<line x1="419.80" y1="303.00" x2="497.70" y2="303.00" stroke="#231f20" stroke-width="1.3"/>
<line x1="432.50" y1="303.00" x2="432.50" y2="305.60" stroke="#231f20" stroke-width="0.8"/>
<line x1="450.00" y1="303.00" x2="450.00" y2="305.60" stroke="#231f20" stroke-width="0.8"/>
<line x1="467.50" y1="303.00" x2="467.50" y2="305.60" stroke="#231f20" stroke-width="0.8"/>
<line x1="485.00" y1="303.00" x2="485.00" y2="305.60" stroke="#231f20" stroke-width="0.8"/>
<text x="458.00" y="226.00" font-size="8.6" text-anchor="middle" fill="#231f20">AML #14</text>
<path d="M432.50,276.04 L434.00,277.54 L432.50,279.03 L431.00,277.54 Z" fill="#1f4590"/>
<path d="M431.33,277.14 L432.83,278.63 L431.33,280.13 L429.84,278.63 Z" fill="#1f4590"/>
<path d="M433.67,281.51 L435.16,283.01 L433.67,284.50 L432.17,283.01 Z" fill="#1f4590"/>
<path d="M430.17,283.70 L431.66,285.20 L430.17,286.69 L428.67,285.20 Z" fill="#1f4590"/>
<path d="M434.83,287.53 L436.33,289.02 L434.83,290.52 L433.34,289.02 Z" fill="#1f4590"/>
<path d="M429.00,290.81 L430.50,292.31 L429.00,293.80 L427.50,292.31 Z" fill="#1f4590"/>
<line x1="432.50" y1="281.93" x2="432.50" y2="286.64" stroke="#1f4590" stroke-width="0.8"/>
<line x1="429.50" y1="281.93" x2="435.50" y2="281.93" stroke="#1f4590" stroke-width="0.8"/>
<line x1="429.50" y1="286.64" x2="435.50" y2="286.64" stroke="#1f4590" stroke-width="0.8"/>
<line x1="426.30" y1="284.28" x2="438.70" y2="284.28" stroke="#444" stroke-width="0.9"/>
<circle cx="450.00" cy="258.94" r="1.21" fill="#b0062c"/>
<circle cx="448.83" cy="273.71" r="1.21" fill="#b0062c"/>
<circle cx="451.17" cy="275.35" r="1.21" fill="#b0062c"/>
<circle cx="447.67" cy="277.54" r="1.21" fill="#b0062c"/>
<circle cx="452.33" cy="281.91" r="1.21" fill="#b0062c"/>
<circle cx="446.50" cy="285.74" r="1.21" fill="#b0062c"/>
<line x1="450.00" y1="271.76" x2="450.00" y2="279.31" stroke="#b0062c" stroke-width="0.8"/>
<line x1="447.00" y1="271.76" x2="453.00" y2="271.76" stroke="#b0062c" stroke-width="0.8"/>
<line x1="447.00" y1="279.31" x2="453.00" y2="279.31" stroke="#b0062c" stroke-width="0.8"/>
<line x1="443.80" y1="275.53" x2="456.20" y2="275.53" stroke="#444" stroke-width="0.9"/>
<path d="M467.50,296.34 L468.88,298.75 L466.12,298.75 Z" fill="#6cbd3c"/>
<path d="M466.33,296.89 L467.71,299.30 L464.95,299.30 Z" fill="#6cbd3c"/>
<path d="M468.67,297.43 L470.05,299.85 L467.29,299.85 Z" fill="#6cbd3c"/>
<path d="M465.17,297.98 L466.55,300.40 L463.79,300.40 Z" fill="#6cbd3c"/>
<path d="M469.83,298.53 L471.21,300.94 L468.45,300.94 Z" fill="#6cbd3c"/>
<path d="M464.00,299.07 L465.38,301.49 L462.62,301.49 Z" fill="#6cbd3c"/>
<line x1="467.50" y1="298.73" x2="467.50" y2="299.56" stroke="#6cbd3c" stroke-width="0.8"/>
<line x1="464.50" y1="298.73" x2="470.50" y2="298.73" stroke="#6cbd3c" stroke-width="0.8"/>
<line x1="464.50" y1="299.56" x2="470.50" y2="299.56" stroke="#6cbd3c" stroke-width="0.8"/>
<line x1="461.30" y1="299.14" x2="473.70" y2="299.14" stroke="#444" stroke-width="0.9"/>
<path d="M485.00,291.01 L486.38,288.59 L483.62,288.59 Z" fill="#5a2a80"/>
<path d="M483.83,296.48 L485.21,294.06 L482.45,294.06 Z" fill="#5a2a80"/>
<path d="M486.17,298.67 L487.55,296.25 L484.79,296.25 Z" fill="#5a2a80"/>
<path d="M482.67,299.76 L484.05,297.35 L481.29,297.35 Z" fill="#5a2a80"/>
<path d="M487.33,300.86 L488.71,298.44 L485.95,298.44 Z" fill="#5a2a80"/>
<path d="M481.50,301.95 L482.88,299.53 L480.12,299.53 Z" fill="#5a2a80"/>
<line x1="485.00" y1="295.07" x2="485.00" y2="298.30" stroke="#5a2a80" stroke-width="0.8"/>
<line x1="482.00" y1="295.07" x2="488.00" y2="295.07" stroke="#5a2a80" stroke-width="0.8"/>
<line x1="482.00" y1="298.30" x2="488.00" y2="298.30" stroke="#5a2a80" stroke-width="0.8"/>
<line x1="478.80" y1="296.68" x2="491.20" y2="296.68" stroke="#444" stroke-width="0.9"/>
<line x1="432.50" y1="234.60" x2="485.00" y2="234.60" stroke="#7a7a7a" stroke-width="1.0"/>
<line x1="432.50" y1="233.60" x2="432.50" y2="235.60" stroke="#444" stroke-width="0.8"/>
<line x1="485.00" y1="233.60" x2="485.00" y2="235.60" stroke="#444" stroke-width="0.8"/>
<rect x="456.75" y="231.40" width="1.3" height="1.3" fill="#2a2a2a"/>
<rect x="459.45" y="231.40" width="1.3" height="1.3" fill="#2a2a2a"/>
<line x1="432.50" y1="240.80" x2="467.50" y2="240.80" stroke="#7a7a7a" stroke-width="1.0"/>
<line x1="432.50" y1="239.80" x2="432.50" y2="241.80" stroke="#444" stroke-width="0.8"/>
<line x1="467.50" y1="239.80" x2="467.50" y2="241.80" stroke="#444" stroke-width="0.8"/>
<rect x="448.00" y="237.60" width="1.3" height="1.3" fill="#2a2a2a"/>
<rect x="450.70" y="237.60" width="1.3" height="1.3" fill="#2a2a2a"/>
<line x1="450.00" y1="247.00" x2="485.00" y2="247.00" stroke="#7a7a7a" stroke-width="1.0"/>
<line x1="450.00" y1="246.00" x2="450.00" y2="248.00" stroke="#444" stroke-width="0.8"/>
<line x1="485.00" y1="246.00" x2="485.00" y2="248.00" stroke="#444" stroke-width="0.8"/>
<rect x="465.50" y="243.80" width="1.3" height="1.3" fill="#2a2a2a"/>
<rect x="468.20" y="243.80" width="1.3" height="1.3" fill="#2a2a2a"/>
<line x1="450.00" y1="253.30" x2="467.50" y2="253.30" stroke="#7a7a7a" stroke-width="1.0"/>
<line x1="450.00" y1="252.30" x2="450.00" y2="254.30" stroke="#444" stroke-width="0.8"/>
<line x1="467.50" y1="252.30" x2="467.50" y2="254.30" stroke="#444" stroke-width="0.8"/>
<rect x="456.75" y="250.10" width="1.3" height="1.3" fill="#2a2a2a"/>
<rect x="459.45" y="250.10" width="1.3" height="1.3" fill="#2a2a2a"/>
<text font-size="7.4" text-anchor="end" fill="#231f20" transform="translate(435.30 312.50) rotate(-45) scale(0.85 1)">Ctrl</text>
<text font-size="7.4" text-anchor="end" fill="#231f20" transform="translate(452.80 312.50) rotate(-45) scale(0.85 1)">AC220</text>
<text font-size="7.4" text-anchor="end" fill="#231f20" transform="translate(470.30 312.50) rotate(-45) scale(0.85 1)">22d</text>
<text font-size="7.4" text-anchor="end" fill="#231f20" transform="translate(487.80 312.50) rotate(-45) scale(0.85 1)">AC220+22d</text>
<text font-size="8.8" text-anchor="middle" fill="#231f20" transform="translate(389.90 274.00) rotate(-90) scale(0.745 1)">No. hCD45<tspan dy="-0.4em" font-size="0.75em">+</tspan><tspan dy="0.3em" dx="0.12em">CD34</tspan><tspan dy="-0.4em" font-size="0.75em">+</tspan><tspan dy="0.3em" dx="0.12em"> cells</tspan></text>
<text font-size="8.8" text-anchor="middle" fill="#231f20" transform="translate(399.20 274.40) rotate(-90) scale(0.745 1)">in BM (10<tspan dy="-0.4em" font-size="0.75em">6</tspan><tspan dy="0.3em" dx="0.12em">)</tspan></text>
<text font-size="11.3" text-anchor="start" font-weight="bold" fill="#000" transform="translate(6.40 361.70) scale(1.08 1)">G</text>
<line x1="45.75" y1="368.00" x2="45.75" y2="424.00" stroke="#231f20" stroke-width="1.3"/>
<line x1="43.15" y1="423.20" x2="45.75" y2="423.20" stroke="#231f20" stroke-width="0.8"/>
<text x="39.95" y="425.40" font-size="6.3" text-anchor="end" fill="#231f20">0</text>
<line x1="43.15" y1="397.85" x2="45.75" y2="397.85" stroke="#231f20" stroke-width="0.8"/>
<text x="39.95" y="400.05" font-size="6.3" text-anchor="end" fill="#231f20">50</text>
<line x1="43.15" y1="372.50" x2="45.75" y2="372.50" stroke="#231f20" stroke-width="0.8"/>
<text x="39.95" y="374.70" font-size="6.3" text-anchor="end" fill="#231f20">100</text>
<line x1="45.75" y1="423.20" x2="52.60" y2="423.20" stroke="#231f20" stroke-width="1.3"/>
<line x1="57.30" y1="423.20" x2="131.00" y2="423.20" stroke="#231f20" stroke-width="1.3"/>
<line x1="52.60" y1="420.40" x2="52.60" y2="426.00" stroke="#231f20" stroke-width="0.9"/>
<line x1="57.30" y1="420.40" x2="57.30" y2="426.00" stroke="#231f20" stroke-width="0.9"/>
<line x1="45.75" y1="423.20" x2="45.75" y2="426.00" stroke="#231f20" stroke-width="0.8"/>
<text x="45.75" y="432.50" font-size="6.3" text-anchor="middle" fill="#231f20">0</text>
<line x1="58.00" y1="423.20" x2="58.00" y2="426.00" stroke="#231f20" stroke-width="0.8"/>
<line x1="69.67" y1="423.20" x2="69.67" y2="426.00" stroke="#231f20" stroke-width="0.8"/>
<line x1="81.35" y1="423.20" x2="81.35" y2="426.00" stroke="#231f20" stroke-width="0.8"/>
<line x1="93.03" y1="423.20" x2="93.03" y2="426.00" stroke="#231f20" stroke-width="0.8"/>
<line x1="104.70" y1="423.20" x2="104.70" y2="426.00" stroke="#231f20" stroke-width="0.8"/>
<line x1="116.38" y1="423.20" x2="116.38" y2="426.00" stroke="#231f20" stroke-width="0.8"/>
<line x1="128.05" y1="423.20" x2="128.05" y2="426.00" stroke="#231f20" stroke-width="0.8"/>
<text x="58.00" y="432.50" font-size="6.3" text-anchor="middle" fill="#231f20">50</text>
<text x="81.35" y="432.50" font-size="6.3" text-anchor="middle" fill="#231f20">150</text>
<text x="104.70" y="432.50" font-size="6.3" text-anchor="middle" fill="#231f20">250</text>
<text x="128.05" y="432.50" font-size="6.3" text-anchor="middle" fill="#231f20">350</text>
<text x="88.90" y="364.00" font-size="8.6" text-anchor="middle" fill="#231f20">AML #3</text>
<line x1="45.75" y1="372.50" x2="53.80" y2="372.50" stroke="#2d5aa2" stroke-width="1.25"/>
<path d="M57.90,372.50 L74.40,372.50 L74.40,378.58 L76.00,378.58 L76.00,382.64 L77.00,382.64 L77.00,386.70 L78.50,386.70 L78.50,391.77 L80.00,391.77 L80.00,396.84 L81.50,396.84 L81.50,401.91 L83.00,401.91 L83.00,406.98 L84.50,406.98 L84.50,412.05 L86.00,412.05 L86.00,417.12 L88.60,417.12 L88.60,423.20" fill="none" stroke="#5fbd3b" stroke-width="1.25" stroke-linejoin="miter"/>
<path d="M57.90,372.50 L86.50,372.50 L86.50,378.58 L89.00,378.58 L89.00,382.64 L93.00,382.64 L93.00,385.68 L97.00,385.68 L97.00,388.72 L100.70,388.72 L100.70,391.77 L104.00,391.77 L104.00,394.81 L107.70,394.81 L107.70,397.85 L110.00,397.85 L110.00,401.91 L111.80,401.91 L111.80,405.96 L114.00,405.96 L114.00,409.51 L116.80,409.51 L116.80,413.57 L119.00,413.57 L119.00,416.10 L121.90,416.10 L121.90,418.64 L124.90,418.64 L124.90,423.20" fill="none" stroke="#6a2d8c" stroke-width="1.25" stroke-linejoin="miter"/>
<path d="M57.90,372.50 L81.30,372.50 L81.30,376.56 L82.50,376.56 L82.50,381.63 L84.00,381.63 L84.00,386.70 L86.00,386.70 L86.00,392.78 L88.00,392.78 L88.00,397.85 L90.00,397.85 L90.00,403.93 L92.00,403.93 L92.00,409.00 L94.50,409.00 L94.50,414.07 L97.00,414.07 L97.00,419.14 L99.70,419.14 L99.70,423.20" fill="none" stroke="#c8143c" stroke-width="1.25" stroke-linejoin="miter"/>
<path d="M57.90,372.50 L68.10,372.50 L68.10,376.56 L68.80,376.56 L68.80,382.64 L69.50,382.64 L69.50,387.71 L70.20,387.71 L70.20,395.31 L71.00,395.31 L71.00,402.92 L71.80,402.92 L71.80,410.52 L72.50,410.52 L72.50,417.12 L73.50,417.12 L73.50,423.20" fill="none" stroke="#2d5aa2" stroke-width="1.25" stroke-linejoin="miter"/>
<line x1="70.20" y1="381.50" x2="79.80" y2="381.50" stroke="#8a8a8a" stroke-width="0.9"/>
<path d="M68.70,381.5 L71.30,380.20 L71.30,382.80 Z M81.30,381.5 L78.70,380.20 L78.70,382.80 Z" fill="#231f20"/>
<rect x="70.55" y="378.30" width="1.4" height="1.4" fill="#231f20"/>
<rect x="73.05" y="378.30" width="1.4" height="1.4" fill="#231f20"/>
<rect x="75.55" y="378.30" width="1.4" height="1.4" fill="#231f20"/>
<rect x="78.05" y="378.30" width="1.4" height="1.4" fill="#231f20"/>
<line x1="78.20" y1="389.60" x2="96.50" y2="389.60" stroke="#8a8a8a" stroke-width="0.9"/>
<path d="M76.70,389.6 L79.30,388.30 L79.30,390.90 Z M98.00,389.6 L95.40,388.30 L95.40,390.90 Z" fill="#231f20"/>
<rect x="82.90" y="386.40" width="1.4" height="1.4" fill="#231f20"/>
<rect x="85.40" y="386.40" width="1.4" height="1.4" fill="#231f20"/>
<rect x="87.90" y="386.40" width="1.4" height="1.4" fill="#231f20"/>
<rect x="90.40" y="386.40" width="1.4" height="1.4" fill="#231f20"/>
<line x1="71.30" y1="397.30" x2="87.30" y2="397.30" stroke="#8a8a8a" stroke-width="0.9"/>
<path d="M69.80,397.3 L72.40,396.00 L72.40,398.60 Z M88.80,397.3 L86.20,396.00 L86.20,398.60 Z" fill="#231f20"/>
<rect x="74.85" y="394.10" width="1.4" height="1.4" fill="#231f20"/>
<rect x="77.35" y="394.10" width="1.4" height="1.4" fill="#231f20"/>
<rect x="79.85" y="394.10" width="1.4" height="1.4" fill="#231f20"/>
<rect x="82.35" y="394.10" width="1.4" height="1.4" fill="#231f20"/>
<line x1="93.80" y1="401.10" x2="105.20" y2="401.10" stroke="#8a8a8a" stroke-width="0.9"/>
<path d="M92.30,401.1 L94.90,399.80 L94.90,402.40 Z M106.70,401.1 L104.10,399.80 L104.10,402.40 Z" fill="#231f20"/>
<rect x="97.55" y="397.90" width="1.4" height="1.4" fill="#231f20"/>
<rect x="100.05" y="397.90" width="1.4" height="1.4" fill="#231f20"/>
<line x1="72.50" y1="411.80" x2="114.50" y2="411.80" stroke="#8a8a8a" stroke-width="0.9"/>
<path d="M71.00,411.8 L73.60,410.50 L73.60,413.10 Z M116.00,411.8 L113.40,410.50 L113.40,413.10 Z" fill="#231f20"/>
<rect x="89.05" y="408.60" width="1.4" height="1.4" fill="#231f20"/>
<rect x="91.55" y="408.60" width="1.4" height="1.4" fill="#231f20"/>
<rect x="94.05" y="408.60" width="1.4" height="1.4" fill="#231f20"/>
<rect x="96.55" y="408.60" width="1.4" height="1.4" fill="#231f20"/>
<text font-size="8.8" text-anchor="middle" fill="#231f20" transform="translate(88.90 446.00) scale(0.745 1)">Time (days)</text>
<text font-size="8.8" text-anchor="middle" fill="#231f20" transform="translate(24.15 395.00) rotate(-90) scale(0.745 1)">Percent survival</text>
<line x1="169.10" y1="368.00" x2="169.10" y2="424.00" stroke="#231f20" stroke-width="1.3"/>
<line x1="166.50" y1="423.20" x2="169.10" y2="423.20" stroke="#231f20" stroke-width="0.8"/>
<text x="163.30" y="425.40" font-size="6.3" text-anchor="end" fill="#231f20">0</text>
<line x1="166.50" y1="397.85" x2="169.10" y2="397.85" stroke="#231f20" stroke-width="0.8"/>
<text x="163.30" y="400.05" font-size="6.3" text-anchor="end" fill="#231f20">50</text>
<line x1="166.50" y1="372.50" x2="169.10" y2="372.50" stroke="#231f20" stroke-width="0.8"/>
<text x="163.30" y="374.70" font-size="6.3" text-anchor="end" fill="#231f20">100</text>
<line x1="169.10" y1="423.20" x2="177.20" y2="423.20" stroke="#231f20" stroke-width="1.3"/>
<line x1="181.40" y1="423.20" x2="254.90" y2="423.20" stroke="#231f20" stroke-width="1.3"/>
<line x1="177.20" y1="420.40" x2="177.20" y2="426.00" stroke="#231f20" stroke-width="0.9"/>
<line x1="181.40" y1="420.40" x2="181.40" y2="426.00" stroke="#231f20" stroke-width="0.9"/>
<line x1="169.10" y1="423.20" x2="169.10" y2="426.00" stroke="#231f20" stroke-width="0.8"/>
<text x="169.10" y="432.50" font-size="6.3" text-anchor="middle" fill="#231f20">0</text>
<line x1="181.80" y1="423.20" x2="181.80" y2="426.00" stroke="#231f20" stroke-width="0.8"/>
<line x1="193.92" y1="423.20" x2="193.92" y2="426.00" stroke="#231f20" stroke-width="0.8"/>
<line x1="206.03" y1="423.20" x2="206.03" y2="426.00" stroke="#231f20" stroke-width="0.8"/>
<line x1="218.15" y1="423.20" x2="218.15" y2="426.00" stroke="#231f20" stroke-width="0.8"/>
<line x1="230.26" y1="423.20" x2="230.26" y2="426.00" stroke="#231f20" stroke-width="0.8"/>
<line x1="242.38" y1="423.20" x2="242.38" y2="426.00" stroke="#231f20" stroke-width="0.8"/>
<line x1="254.49" y1="423.20" x2="254.49" y2="426.00" stroke="#231f20" stroke-width="0.8"/>
<text x="181.80" y="432.50" font-size="6.3" text-anchor="middle" fill="#231f20">50</text>
<text x="206.03" y="432.50" font-size="6.3" text-anchor="middle" fill="#231f20">150</text>
<text x="230.26" y="432.50" font-size="6.3" text-anchor="middle" fill="#231f20">250</text>
<text x="254.49" y="432.50" font-size="6.3" text-anchor="middle" fill="#231f20">350</text>
<text x="212.50" y="364.00" font-size="8.6" text-anchor="middle" fill="#231f20">AML #9</text>
<line x1="169.10" y1="372.50" x2="176.50" y2="372.50" stroke="#2d5aa2" stroke-width="1.25"/>
<path d="M182.00,372.50 L195.20,372.50 L195.20,381.12 L199.80,381.12 L199.80,391.77 L201.40,391.77 L201.40,400.89 L204.50,400.89 L204.50,405.45 L206.80,405.45 L206.80,417.12 L210.60,417.12 L210.60,423.20" fill="none" stroke="#5fbd3b" stroke-width="1.25" stroke-linejoin="miter"/>
<path d="M182.00,372.50 L207.50,372.50 L207.50,378.08 L209.80,378.08 L209.80,382.64 L213.70,382.64 L213.70,388.22 L216.80,388.22 L216.80,392.27 L218.30,392.27 L218.30,397.85 L223.70,397.85 L223.70,402.92 L229.00,402.92 L229.00,409.51 L234.50,409.51 L234.50,418.13 L243.70,418.13 L243.70,423.20" fill="none" stroke="#6a2d8c" stroke-width="1.25" stroke-linejoin="miter"/>
<path d="M182.00,372.50 L203.70,372.50 L203.70,379.60 L206.00,379.60 L206.00,384.16 L209.00,384.16 L209.00,392.27 L210.60,392.27 L210.60,402.92 L214.50,402.92 L214.50,412.55 L216.80,412.55 L216.80,418.13 L218.30,418.13 L218.30,423.20" fill="none" stroke="#c8143c" stroke-width="1.25" stroke-linejoin="miter"/>
<path d="M182.00,372.50 L187.50,372.50 L187.50,382.64 L190.60,382.64 L190.60,391.77 L192.30,391.77 L192.30,399.88 L193.00,399.88 L193.00,410.02 L194.00,410.02 L194.00,418.13 L194.50,418.13 L194.50,423.20" fill="none" stroke="#2d5aa2" stroke-width="1.25" stroke-linejoin="miter"/>
<line x1="189.80" y1="380.30" x2="201.40" y2="380.30" stroke="#8a8a8a" stroke-width="0.9"/>
<path d="M188.30,380.3 L190.90,379.00 L190.90,381.60 Z M202.90,380.3 L200.30,379.00 L200.30,381.60 Z" fill="#231f20"/>
<rect x="191.15" y="377.10" width="1.4" height="1.4" fill="#231f20"/>
<rect x="193.65" y="377.10" width="1.4" height="1.4" fill="#231f20"/>
<rect x="196.15" y="377.10" width="1.4" height="1.4" fill="#231f20"/>
<rect x="198.65" y="377.10" width="1.4" height="1.4" fill="#231f20"/>
<line x1="202.90" y1="391.00" x2="214.50" y2="391.00" stroke="#8a8a8a" stroke-width="0.9"/>
<path d="M201.40,391.0 L204.00,389.70 L204.00,392.30 Z M216.00,391.0 L213.40,389.70 L213.40,392.30 Z" fill="#231f20"/>
<rect x="204.25" y="387.80" width="1.4" height="1.4" fill="#231f20"/>
<rect x="206.75" y="387.80" width="1.4" height="1.4" fill="#231f20"/>
<rect x="209.25" y="387.80" width="1.4" height="1.4" fill="#231f20"/>
<rect x="211.75" y="387.80" width="1.4" height="1.4" fill="#231f20"/>
<line x1="193.70" y1="399.50" x2="207.50" y2="399.50" stroke="#8a8a8a" stroke-width="0.9"/>
<path d="M192.20,399.5 L194.80,398.20 L194.80,400.80 Z M209.00,399.5 L206.40,398.20 L206.40,400.80 Z" fill="#231f20"/>
<rect x="196.15" y="396.30" width="1.4" height="1.4" fill="#231f20"/>
<rect x="198.65" y="396.30" width="1.4" height="1.4" fill="#231f20"/>
<rect x="201.15" y="396.30" width="1.4" height="1.4" fill="#231f20"/>
<rect x="203.65" y="396.30" width="1.4" height="1.4" fill="#231f20"/>
<line x1="216.00" y1="406.50" x2="227.50" y2="406.50" stroke="#8a8a8a" stroke-width="0.9"/>
<path d="M214.50,406.5 L217.10,405.20 L217.10,407.80 Z M229.00,406.5 L226.40,405.20 L226.40,407.80 Z" fill="#231f20"/>
<rect x="219.80" y="403.30" width="1.4" height="1.4" fill="#231f20"/>
<rect x="222.30" y="403.30" width="1.4" height="1.4" fill="#231f20"/>
<line x1="196.00" y1="416.00" x2="232.20" y2="416.00" stroke="#8a8a8a" stroke-width="0.9"/>
<path d="M194.50,416.0 L197.10,414.70 L197.10,417.30 Z M233.70,416.0 L231.10,414.70 L231.10,417.30 Z" fill="#231f20"/>
<rect x="210.90" y="412.80" width="1.4" height="1.4" fill="#231f20"/>
<rect x="213.40" y="412.80" width="1.4" height="1.4" fill="#231f20"/>
<rect x="215.90" y="412.80" width="1.4" height="1.4" fill="#231f20"/>
<text font-size="8.8" text-anchor="middle" fill="#231f20" transform="translate(212.50 446.00) scale(0.745 1)">Time (days)</text>
<text font-size="8.8" text-anchor="middle" fill="#231f20" transform="translate(147.50 395.00) rotate(-90) scale(0.745 1)">Percent survival</text>
<line x1="293.10" y1="368.00" x2="293.10" y2="424.00" stroke="#231f20" stroke-width="1.3"/>
<line x1="290.50" y1="423.20" x2="293.10" y2="423.20" stroke="#231f20" stroke-width="0.8"/>
<text x="287.30" y="425.40" font-size="6.3" text-anchor="end" fill="#231f20">0</text>
<line x1="290.50" y1="397.85" x2="293.10" y2="397.85" stroke="#231f20" stroke-width="0.8"/>
<text x="287.30" y="400.05" font-size="6.3" text-anchor="end" fill="#231f20">50</text>
<line x1="290.50" y1="372.50" x2="293.10" y2="372.50" stroke="#231f20" stroke-width="0.8"/>
<text x="287.30" y="374.70" font-size="6.3" text-anchor="end" fill="#231f20">100</text>
<line x1="293.10" y1="423.20" x2="300.80" y2="423.20" stroke="#231f20" stroke-width="1.3"/>
<line x1="305.20" y1="423.20" x2="378.90" y2="423.20" stroke="#231f20" stroke-width="1.3"/>
<line x1="300.80" y1="420.40" x2="300.80" y2="426.00" stroke="#231f20" stroke-width="0.9"/>
<line x1="305.20" y1="420.40" x2="305.20" y2="426.00" stroke="#231f20" stroke-width="0.9"/>
<line x1="293.10" y1="423.20" x2="293.10" y2="426.00" stroke="#231f20" stroke-width="0.8"/>
<text x="293.10" y="432.50" font-size="6.3" text-anchor="middle" fill="#231f20">0</text>
<line x1="305.10" y1="423.20" x2="305.10" y2="426.00" stroke="#231f20" stroke-width="0.8"/>
<line x1="319.53" y1="423.20" x2="319.53" y2="426.00" stroke="#231f20" stroke-width="0.8"/>
<line x1="333.95" y1="423.20" x2="333.95" y2="426.00" stroke="#231f20" stroke-width="0.8"/>
<line x1="348.38" y1="423.20" x2="348.38" y2="426.00" stroke="#231f20" stroke-width="0.8"/>
<line x1="362.80" y1="423.20" x2="362.80" y2="426.00" stroke="#231f20" stroke-width="0.8"/>
<line x1="377.23" y1="423.20" x2="377.23" y2="426.00" stroke="#231f20" stroke-width="0.8"/>
<text x="305.10" y="432.50" font-size="6.3" text-anchor="middle" fill="#231f20">50</text>
<text x="333.95" y="432.50" font-size="6.3" text-anchor="middle" fill="#231f20">150</text>
<text x="362.80" y="432.50" font-size="6.3" text-anchor="middle" fill="#231f20">250</text>
<text x="377.23" y="432.50" font-size="6.3" text-anchor="middle" fill="#231f20">300</text>
<text x="337.10" y="364.00" font-size="8.6" text-anchor="middle" fill="#231f20">AML #14</text>
<line x1="293.10" y1="372.50" x2="300.50" y2="372.50" stroke="#2d5aa2" stroke-width="1.25"/>
<path d="M305.80,372.50 L310.80,372.50 L310.80,377.57 L311.50,377.57 L311.50,382.64 L312.20,382.64 L312.20,387.71 L312.90,387.71 L312.90,392.78 L313.50,392.78 L313.50,397.85 L314.00,397.85 L314.00,402.92 L314.60,402.92 L314.60,407.99 L315.20,407.99 L315.20,413.57 L318.80,413.57 L318.80,417.62 L326.70,417.62 L326.70,423.20" fill="none" stroke="#5fbd3b" stroke-width="1.25" stroke-linejoin="miter"/>
<path d="M305.80,372.50 L314.40,372.50 L314.40,377.57 L321.60,377.57 L321.60,382.64 L326.70,382.64 L326.70,387.71 L333.20,387.71 L333.20,392.27 L338.20,392.27 L338.20,397.85 L340.40,397.85 L340.40,402.92 L346.20,402.92 L346.20,407.99 L356.30,407.99 L356.30,412.55 L361.30,412.55 L361.30,417.62 L367.80,417.62 L367.80,423.20" fill="none" stroke="#6a2d8c" stroke-width="1.25" stroke-linejoin="miter"/>
<path d="M305.80,372.50 L309.80,372.50 L309.80,377.57 L314.40,377.57 L314.40,397.85 L323.10,397.85 L323.10,402.92 L328.10,402.92 L328.10,407.99 L331.00,407.99 L331.00,412.55 L332.00,412.55 L332.00,417.62 L333.60,417.62 L333.60,423.20" fill="none" stroke="#c8143c" stroke-width="1.25" stroke-linejoin="miter"/>
<path d="M305.80,372.50 L307.80,372.50 L307.80,377.57 L308.70,377.57 L308.70,382.64 L309.60,382.64 L309.60,387.71 L310.50,387.71 L310.50,392.78 L311.40,392.78 L311.40,397.85 L312.30,397.85 L312.30,402.92 L313.20,402.92 L313.20,407.99 L314.10,407.99 L314.10,413.06 L314.70,413.06 L314.70,418.13 L315.20,418.13 L315.20,423.20" fill="none" stroke="#2d5aa2" stroke-width="1.25" stroke-linejoin="miter"/>
<line x1="316.70" y1="383.20" x2="325.60" y2="383.20" stroke="#8a8a8a" stroke-width="0.9"/>
<path d="M315.20,383.2 L317.80,381.90 L317.80,384.50 Z M327.10,383.2 L324.50,381.90 L324.50,384.50 Z" fill="#231f20"/>
<rect x="317.95" y="380.00" width="1.4" height="1.4" fill="#231f20"/>
<rect x="320.45" y="380.00" width="1.4" height="1.4" fill="#231f20"/>
<rect x="322.95" y="380.00" width="1.4" height="1.4" fill="#231f20"/>
<line x1="316.70" y1="386.00" x2="325.60" y2="386.00" stroke="#8a8a8a" stroke-width="0.9"/>
<path d="M315.20,386.0 L317.80,384.70 L317.80,387.30 Z M327.10,386.0 L324.50,384.70 L324.50,387.30 Z" fill="#231f20"/>
<line x1="315.90" y1="395.40" x2="337.20" y2="395.40" stroke="#8a8a8a" stroke-width="0.9"/>
<path d="M314.40,395.4 L317.00,394.10 L317.00,396.70 Z M338.70,395.4 L336.10,394.10 L336.10,396.70 Z" fill="#231f20"/>
<rect x="322.10" y="392.20" width="1.4" height="1.4" fill="#231f20"/>
<rect x="324.60" y="392.20" width="1.4" height="1.4" fill="#231f20"/>
<rect x="327.10" y="392.20" width="1.4" height="1.4" fill="#231f20"/>
<rect x="329.60" y="392.20" width="1.4" height="1.4" fill="#231f20"/>
<line x1="315.90" y1="406.70" x2="326.60" y2="406.70" stroke="#8a8a8a" stroke-width="0.9"/>
<path d="M314.40,406.7 L317.00,405.40 L317.00,408.00 Z M328.10,406.7 L325.50,405.40 L325.50,408.00 Z" fill="#231f20"/>
<rect x="319.30" y="403.50" width="1.4" height="1.4" fill="#231f20"/>
<rect x="321.80" y="403.50" width="1.4" height="1.4" fill="#231f20"/>
<line x1="317.40" y1="416.30" x2="359.10" y2="416.30" stroke="#8a8a8a" stroke-width="0.9"/>
<path d="M315.90,416.3 L318.50,415.00 L318.50,417.60 Z M360.60,416.3 L358.00,415.00 L358.00,417.60 Z" fill="#231f20"/>
<rect x="333.80" y="413.10" width="1.4" height="1.4" fill="#231f20"/>
<rect x="336.30" y="413.10" width="1.4" height="1.4" fill="#231f20"/>
<rect x="338.80" y="413.10" width="1.4" height="1.4" fill="#231f20"/>
<rect x="341.30" y="413.10" width="1.4" height="1.4" fill="#231f20"/>
<text font-size="8.8" text-anchor="middle" fill="#231f20" transform="translate(337.10 446.00) scale(0.745 1)">Time (days)</text>
<text font-size="8.8" text-anchor="middle" fill="#231f20" transform="translate(271.50 395.00) rotate(-90) scale(0.745 1)">Percent survival</text>
<line x1="420.10" y1="368.00" x2="420.10" y2="424.00" stroke="#231f20" stroke-width="1.3"/>
<line x1="417.50" y1="423.20" x2="420.10" y2="423.20" stroke="#231f20" stroke-width="0.8"/>
<text x="414.30" y="425.40" font-size="6.3" text-anchor="end" fill="#231f20">0</text>
<line x1="417.50" y1="397.85" x2="420.10" y2="397.85" stroke="#231f20" stroke-width="0.8"/>
<text x="414.30" y="400.05" font-size="6.3" text-anchor="end" fill="#231f20">50</text>
<line x1="417.50" y1="372.50" x2="420.10" y2="372.50" stroke="#231f20" stroke-width="0.8"/>
<text x="414.30" y="374.70" font-size="6.3" text-anchor="end" fill="#231f20">100</text>
<line x1="420.10" y1="423.20" x2="427.80" y2="423.20" stroke="#231f20" stroke-width="1.3"/>
<line x1="432.20" y1="423.20" x2="506.50" y2="423.20" stroke="#231f20" stroke-width="1.3"/>
<line x1="427.80" y1="420.40" x2="427.80" y2="426.00" stroke="#231f20" stroke-width="0.9"/>
<line x1="432.20" y1="420.40" x2="432.20" y2="426.00" stroke="#231f20" stroke-width="0.9"/>
<line x1="420.10" y1="423.20" x2="420.10" y2="426.00" stroke="#231f20" stroke-width="0.8"/>
<text x="420.10" y="432.50" font-size="6.3" text-anchor="middle" fill="#231f20">0</text>
<line x1="432.70" y1="423.20" x2="432.70" y2="426.00" stroke="#231f20" stroke-width="0.8"/>
<line x1="450.68" y1="423.20" x2="450.68" y2="426.00" stroke="#231f20" stroke-width="0.8"/>
<line x1="468.65" y1="423.20" x2="468.65" y2="426.00" stroke="#231f20" stroke-width="0.8"/>
<line x1="486.62" y1="423.20" x2="486.62" y2="426.00" stroke="#231f20" stroke-width="0.8"/>
<line x1="504.60" y1="423.20" x2="504.60" y2="426.00" stroke="#231f20" stroke-width="0.8"/>
<text x="432.70" y="432.50" font-size="6.3" text-anchor="middle" fill="#231f20">50</text>
<text x="468.65" y="432.50" font-size="6.3" text-anchor="middle" fill="#231f20">150</text>
<text x="504.60" y="432.50" font-size="6.3" text-anchor="middle" fill="#231f20">250</text>
<text x="464.00" y="364.00" font-size="8.6" text-anchor="middle" fill="#231f20">AML #15</text>
<line x1="420.10" y1="372.50" x2="427.50" y2="372.50" stroke="#2d5aa2" stroke-width="1.25"/>
<path d="M432.80,372.50 L443.40,372.50 L443.40,376.05 L445.70,376.05 L445.70,387.71 L448.00,387.71 L448.00,395.31 L451.00,395.31 L451.00,398.86 L455.00,398.86 L455.00,404.95 L458.00,404.95 L458.00,414.58 L466.50,414.58 L466.50,418.64 L472.60,418.64 L472.60,423.20" fill="none" stroke="#5fbd3b" stroke-width="1.25" stroke-linejoin="miter"/>
<path d="M432.80,372.50 L447.20,372.50 L447.20,376.56 L453.40,376.56 L453.40,382.64 L457.20,382.64 L457.20,388.22 L460.30,388.22 L460.30,397.34 L471.00,397.34 L471.00,400.89 L475.70,400.89 L475.70,407.99 L485.70,407.99 L485.70,413.57 L487.20,413.57 L487.20,418.13 L500.00,418.13 L500.00,423.20" fill="none" stroke="#6a2d8c" stroke-width="1.25" stroke-linejoin="miter"/>
<path d="M432.80,372.50 L436.50,372.50 L436.50,378.58 L437.00,378.58 L437.00,385.18 L442.60,385.18 L442.60,392.78 L444.20,392.78 L444.20,395.31 L447.20,395.31 L447.20,400.89 L450.30,400.89 L450.30,406.47 L451.00,406.47 L451.00,412.55 L459.50,412.55 L459.50,417.12 L461.80,417.12 L461.80,423.20" fill="none" stroke="#c8143c" stroke-width="1.25" stroke-linejoin="miter"/>
<path d="M432.80,372.50 L434.20,372.50 L434.20,376.56 L434.80,376.56 L434.80,387.71 L438.50,387.71 L438.50,391.77 L439.50,391.77 L439.50,396.84 L440.50,396.84 L440.50,402.92 L441.50,402.92 L441.50,407.99 L442.50,407.99 L442.50,413.06 L443.50,413.06 L443.50,418.13 L444.30,418.13 L444.30,423.20" fill="none" stroke="#2d5aa2" stroke-width="1.25" stroke-linejoin="miter"/>
<line x1="439.50" y1="388.00" x2="445.70" y2="388.00" stroke="#8a8a8a" stroke-width="0.9"/>
<path d="M438.00,388.0 L440.60,386.70 L440.60,389.30 Z M447.20,388.0 L444.60,386.70 L444.60,389.30 Z" fill="#231f20"/>
<rect x="439.40" y="384.80" width="1.4" height="1.4" fill="#231f20"/>
<rect x="441.90" y="384.80" width="1.4" height="1.4" fill="#231f20"/>
<rect x="444.40" y="384.80" width="1.4" height="1.4" fill="#231f20"/>
<line x1="451.00" y1="396.50" x2="459.50" y2="396.50" stroke="#8a8a8a" stroke-width="0.9"/>
<path d="M449.50,396.5 L452.10,395.20 L452.10,397.80 Z M461.00,396.5 L458.40,395.20 L458.40,397.80 Z" fill="#231f20"/>
<rect x="452.05" y="393.30" width="1.4" height="1.4" fill="#231f20"/>
<rect x="454.55" y="393.30" width="1.4" height="1.4" fill="#231f20"/>
<rect x="457.05" y="393.30" width="1.4" height="1.4" fill="#231f20"/>
<line x1="442.50" y1="401.00" x2="445.70" y2="401.00" stroke="#8a8a8a" stroke-width="0.9"/>
<path d="M441.00,401.0 L443.60,399.70 L443.60,402.30 Z M447.20,401.0 L444.60,399.70 L444.60,402.30 Z" fill="#231f20"/>
<rect x="442.15" y="397.80" width="1.4" height="1.4" fill="#231f20"/>
<rect x="444.65" y="397.80" width="1.4" height="1.4" fill="#231f20"/>
<line x1="452.50" y1="406.50" x2="474.20" y2="406.50" stroke="#8a8a8a" stroke-width="0.9"/>
<path d="M451.00,406.5 L453.60,405.20 L453.60,407.80 Z M475.70,406.5 L473.10,405.20 L473.10,407.80 Z" fill="#231f20"/>
<rect x="458.90" y="403.30" width="1.4" height="1.4" fill="#231f20"/>
<rect x="461.40" y="403.30" width="1.4" height="1.4" fill="#231f20"/>
<rect x="463.90" y="403.30" width="1.4" height="1.4" fill="#231f20"/>
<rect x="466.40" y="403.30" width="1.4" height="1.4" fill="#231f20"/>
<line x1="445.70" y1="417.00" x2="485.00" y2="417.00" stroke="#8a8a8a" stroke-width="0.9"/>
<path d="M444.20,417.0 L446.80,415.70 L446.80,418.30 Z M486.50,417.0 L483.90,415.70 L483.90,418.30 Z" fill="#231f20"/>
<rect x="462.15" y="413.80" width="1.4" height="1.4" fill="#231f20"/>
<rect x="464.65" y="413.80" width="1.4" height="1.4" fill="#231f20"/>
<rect x="467.15" y="413.80" width="1.4" height="1.4" fill="#231f20"/>
<text font-size="8.8" text-anchor="middle" fill="#231f20" transform="translate(464.00 446.00) scale(0.745 1)">Time (days)</text>
<text font-size="8.8" text-anchor="middle" fill="#231f20" transform="translate(398.50 395.00) rotate(-90) scale(0.745 1)">Percent survival</text>
<line x1="205.60" y1="459.20" x2="210.80" y2="459.20" stroke="#2d5aa2" stroke-width="1.2"/>
<text x="213.60" y="461.50" font-size="6.5" text-anchor="start" fill="#231f20">Ctrl</text>
<line x1="233.90" y1="459.20" x2="239.10" y2="459.20" stroke="#c8143c" stroke-width="1.2"/>
<text x="242.50" y="461.50" font-size="6.5" text-anchor="start" fill="#231f20">AC220</text>
<line x1="271.60" y1="459.20" x2="276.80" y2="459.20" stroke="#5fbd3b" stroke-width="1.2"/>
<text x="279.60" y="461.50" font-size="6.5" text-anchor="start" fill="#231f20">22d</text>
<line x1="301.20" y1="459.20" x2="306.40" y2="459.20" stroke="#6a2d8c" stroke-width="1.2"/>
<text x="310.00" y="461.50" font-size="6.5" text-anchor="start" fill="#231f20">AC220+22d</text>
<text font-size="11.3" text-anchor="start" font-weight="bold" fill="#000" transform="translate(6.10 487.00) scale(1.1 1)">H</text>
<line x1="45.20" y1="511.00" x2="45.20" y2="573.20" stroke="#231f20" stroke-width="1.3"/>
<line x1="42.60" y1="572.50" x2="45.20" y2="572.50" stroke="#231f20" stroke-width="0.8"/>
<text x="41.60" y="574.70" font-size="6.2" text-anchor="end" fill="#231f20">0</text>
<line x1="42.60" y1="560.88" x2="45.20" y2="560.88" stroke="#231f20" stroke-width="0.8"/>
<text x="41.60" y="563.08" font-size="6.2" text-anchor="end" fill="#231f20">10</text>
<line x1="42.60" y1="549.26" x2="45.20" y2="549.26" stroke="#231f20" stroke-width="0.8"/>
<text x="41.60" y="551.46" font-size="6.2" text-anchor="end" fill="#231f20">20</text>
<line x1="42.60" y1="537.64" x2="45.20" y2="537.64" stroke="#231f20" stroke-width="0.8"/>
<text x="41.60" y="539.84" font-size="6.2" text-anchor="end" fill="#231f20">30</text>
<line x1="42.60" y1="526.02" x2="45.20" y2="526.02" stroke="#231f20" stroke-width="0.8"/>
<text x="41.60" y="528.22" font-size="6.2" text-anchor="end" fill="#231f20">40</text>
<line x1="42.60" y1="514.40" x2="45.20" y2="514.40" stroke="#231f20" stroke-width="0.8"/>
<text x="41.60" y="516.60" font-size="6.2" text-anchor="end" fill="#231f20">50</text>
<line x1="45.20" y1="572.60" x2="114.40" y2="572.60" stroke="#231f20" stroke-width="1.3"/>
<rect x="50.60" y="565.53" width="10.80" height="7.07" fill="#2a4d8a" stroke="#2a2a2a" stroke-width="0.4"/>
<line x1="56.00" y1="565.53" x2="56.00" y2="564.37" stroke="#231f20" stroke-width="0.7"/>
<line x1="53.80" y1="564.37" x2="58.20" y2="564.37" stroke="#231f20" stroke-width="0.7"/>
<line x1="56.00" y1="572.60" x2="56.00" y2="575.20" stroke="#231f20" stroke-width="0.8"/>
<rect x="66.80" y="528.34" width="10.70" height="44.26" fill="#a8002e" stroke="#2a2a2a" stroke-width="0.4"/>
<line x1="72.15" y1="528.34" x2="72.15" y2="526.60" stroke="#231f20" stroke-width="0.7"/>
<line x1="69.95" y1="526.60" x2="74.35" y2="526.60" stroke="#231f20" stroke-width="0.7"/>
<line x1="72.15" y1="572.60" x2="72.15" y2="575.20" stroke="#231f20" stroke-width="0.8"/>
<rect x="82.90" y="567.85" width="10.80" height="4.75" fill="#6cb43c" stroke="#2a2a2a" stroke-width="0.4"/>
<line x1="88.30" y1="567.85" x2="88.30" y2="567.15" stroke="#231f20" stroke-width="0.7"/>
<line x1="86.10" y1="567.15" x2="90.50" y2="567.15" stroke="#231f20" stroke-width="0.7"/>
<line x1="88.30" y1="572.60" x2="88.30" y2="575.20" stroke="#231f20" stroke-width="0.8"/>
<rect x="98.30" y="553.33" width="10.70" height="19.27" fill="#4f2160" stroke="#2a2a2a" stroke-width="0.4"/>
<line x1="103.65" y1="553.33" x2="103.65" y2="551.58" stroke="#231f20" stroke-width="0.7"/>
<line x1="101.45" y1="551.58" x2="105.85" y2="551.58" stroke="#231f20" stroke-width="0.7"/>
<line x1="103.65" y1="572.60" x2="103.65" y2="575.20" stroke="#231f20" stroke-width="0.8"/>
<line x1="72.15" y1="507.90" x2="103.65" y2="507.90" stroke="#7a7a7a" stroke-width="1.0"/>
<line x1="72.15" y1="506.90" x2="72.15" y2="508.90" stroke="#444" stroke-width="0.8"/>
<line x1="103.65" y1="506.90" x2="103.65" y2="508.90" stroke="#444" stroke-width="0.8"/>
<rect x="83.20" y="504.70" width="1.3" height="1.3" fill="#2a2a2a"/>
<rect x="85.90" y="504.70" width="1.3" height="1.3" fill="#2a2a2a"/>
<rect x="88.60" y="504.70" width="1.3" height="1.3" fill="#2a2a2a"/>
<rect x="91.30" y="504.70" width="1.3" height="1.3" fill="#2a2a2a"/>
<line x1="56.00" y1="514.70" x2="88.30" y2="514.70" stroke="#7a7a7a" stroke-width="1.0"/>
<line x1="56.00" y1="513.70" x2="56.00" y2="515.70" stroke="#444" stroke-width="0.8"/>
<line x1="88.30" y1="513.70" x2="88.30" y2="515.70" stroke="#444" stroke-width="0.8"/>
<rect x="71.50" y="511.50" width="1.3" height="1.3" fill="#2a2a2a"/>
<line x1="56.00" y1="521.40" x2="72.15" y2="521.40" stroke="#7a7a7a" stroke-width="1.0"/>
<line x1="56.00" y1="520.40" x2="56.00" y2="522.40" stroke="#444" stroke-width="0.8"/>
<line x1="72.15" y1="520.40" x2="72.15" y2="522.40" stroke="#444" stroke-width="0.8"/>
<rect x="59.38" y="518.20" width="1.3" height="1.3" fill="#2a2a2a"/>
<rect x="62.08" y="518.20" width="1.3" height="1.3" fill="#2a2a2a"/>
<rect x="64.77" y="518.20" width="1.3" height="1.3" fill="#2a2a2a"/>
<rect x="67.47" y="518.20" width="1.3" height="1.3" fill="#2a2a2a"/>
<text font-size="7.4" text-anchor="end" fill="#231f20" transform="translate(58.80 582.10) rotate(-45) scale(0.85 1)">Ctrl</text>
<text font-size="7.4" text-anchor="end" fill="#231f20" transform="translate(74.95 582.10) rotate(-45) scale(0.85 1)">AC220</text>
<text font-size="7.4" text-anchor="end" fill="#231f20" transform="translate(91.10 582.10) rotate(-45) scale(0.85 1)">22d</text>
<text font-size="7.4" text-anchor="end" fill="#231f20" transform="translate(106.45 582.10) rotate(-45) scale(0.85 1)">AC220+22d</text>
<text x="80.80" y="498.80" font-size="8.6" text-anchor="middle" fill="#231f20">AML #3</text>
<text font-size="8.8" text-anchor="middle" fill="#231f20" transform="translate(17.80 541.80) rotate(-90) scale(0.785 1)">% hCD34<tspan dy="-0.4em" font-size="0.75em">+</tspan><tspan dy="0.3em" dx="0.12em"> </tspan>within</text>
<text font-size="8.8" text-anchor="middle" fill="#231f20" transform="translate(27.00 542.50) rotate(-90) scale(0.745 1)">CD45<tspan dy="-0.4em" font-size="0.75em">+</tspan><tspan dy="0.3em" dx="0.12em"> </tspan>cells in BM</text>
<line x1="161.70" y1="511.00" x2="161.70" y2="573.20" stroke="#231f20" stroke-width="1.3"/>
<line x1="159.10" y1="572.50" x2="161.70" y2="572.50" stroke="#231f20" stroke-width="0.8"/>
<text x="158.10" y="574.70" font-size="6.2" text-anchor="end" fill="#231f20">0</text>
<line x1="159.10" y1="557.98" x2="161.70" y2="557.98" stroke="#231f20" stroke-width="0.8"/>
<text x="158.10" y="560.18" font-size="6.2" text-anchor="end" fill="#231f20">20</text>
<line x1="159.10" y1="543.45" x2="161.70" y2="543.45" stroke="#231f20" stroke-width="0.8"/>
<text x="158.10" y="545.65" font-size="6.2" text-anchor="end" fill="#231f20">40</text>
<line x1="159.10" y1="528.92" x2="161.70" y2="528.92" stroke="#231f20" stroke-width="0.8"/>
<text x="158.10" y="531.12" font-size="6.2" text-anchor="end" fill="#231f20">60</text>
<line x1="159.10" y1="514.40" x2="161.70" y2="514.40" stroke="#231f20" stroke-width="0.8"/>
<text x="158.10" y="516.60" font-size="6.2" text-anchor="end" fill="#231f20">80</text>
<line x1="161.70" y1="572.60" x2="230.40" y2="572.60" stroke="#231f20" stroke-width="1.3"/>
<rect x="167.90" y="558.70" width="10.00" height="13.90" fill="#2a4d8a" stroke="#2a2a2a" stroke-width="0.4"/>
<line x1="172.90" y1="558.70" x2="172.90" y2="557.25" stroke="#231f20" stroke-width="0.7"/>
<line x1="170.70" y1="557.25" x2="175.10" y2="557.25" stroke="#231f20" stroke-width="0.7"/>
<line x1="172.90" y1="572.60" x2="172.90" y2="575.20" stroke="#231f20" stroke-width="0.8"/>
<rect x="183.30" y="527.47" width="10.20" height="45.13" fill="#a8002e" stroke="#2a2a2a" stroke-width="0.4"/>
<line x1="188.40" y1="527.47" x2="188.40" y2="524.57" stroke="#231f20" stroke-width="0.7"/>
<line x1="186.20" y1="524.57" x2="190.60" y2="524.57" stroke="#231f20" stroke-width="0.7"/>
<line x1="188.40" y1="572.60" x2="188.40" y2="575.20" stroke="#231f20" stroke-width="0.8"/>
<rect x="198.90" y="567.42" width="10.80" height="5.18" fill="#6cb43c" stroke="#2a2a2a" stroke-width="0.4"/>
<line x1="204.30" y1="567.42" x2="204.30" y2="565.96" stroke="#231f20" stroke-width="0.7"/>
<line x1="202.10" y1="565.96" x2="206.50" y2="565.96" stroke="#231f20" stroke-width="0.7"/>
<line x1="204.30" y1="572.60" x2="204.30" y2="575.20" stroke="#231f20" stroke-width="0.8"/>
<rect x="214.20" y="552.16" width="10.80" height="20.44" fill="#4f2160" stroke="#2a2a2a" stroke-width="0.4"/>
<line x1="219.60" y1="552.16" x2="219.60" y2="550.35" stroke="#231f20" stroke-width="0.7"/>
<line x1="217.40" y1="550.35" x2="221.80" y2="550.35" stroke="#231f20" stroke-width="0.7"/>
<line x1="219.60" y1="572.60" x2="219.60" y2="575.20" stroke="#231f20" stroke-width="0.8"/>
<line x1="188.40" y1="507.70" x2="219.60" y2="507.70" stroke="#7a7a7a" stroke-width="1.0"/>
<line x1="188.40" y1="506.70" x2="188.40" y2="508.70" stroke="#444" stroke-width="0.8"/>
<line x1="219.60" y1="506.70" x2="219.60" y2="508.70" stroke="#444" stroke-width="0.8"/>
<rect x="199.30" y="504.50" width="1.3" height="1.3" fill="#2a2a2a"/>
<rect x="202.00" y="504.50" width="1.3" height="1.3" fill="#2a2a2a"/>
<rect x="204.70" y="504.50" width="1.3" height="1.3" fill="#2a2a2a"/>
<rect x="207.40" y="504.50" width="1.3" height="1.3" fill="#2a2a2a"/>
<line x1="172.90" y1="514.40" x2="204.30" y2="514.40" stroke="#7a7a7a" stroke-width="1.0"/>
<line x1="172.90" y1="513.40" x2="172.90" y2="515.40" stroke="#444" stroke-width="0.8"/>
<line x1="204.30" y1="513.40" x2="204.30" y2="515.40" stroke="#444" stroke-width="0.8"/>
<rect x="186.60" y="511.20" width="1.3" height="1.3" fill="#2a2a2a"/>
<rect x="189.30" y="511.20" width="1.3" height="1.3" fill="#2a2a2a"/>
<line x1="172.90" y1="521.10" x2="188.40" y2="521.10" stroke="#7a7a7a" stroke-width="1.0"/>
<line x1="172.90" y1="520.10" x2="172.90" y2="522.10" stroke="#444" stroke-width="0.8"/>
<line x1="188.40" y1="520.10" x2="188.40" y2="522.10" stroke="#444" stroke-width="0.8"/>
<rect x="175.95" y="517.90" width="1.3" height="1.3" fill="#2a2a2a"/>
<rect x="178.65" y="517.90" width="1.3" height="1.3" fill="#2a2a2a"/>
<rect x="181.35" y="517.90" width="1.3" height="1.3" fill="#2a2a2a"/>
<rect x="184.05" y="517.90" width="1.3" height="1.3" fill="#2a2a2a"/>
<text font-size="7.4" text-anchor="end" fill="#231f20" transform="translate(175.70 582.10) rotate(-45) scale(0.85 1)">Ctrl</text>
<text font-size="7.4" text-anchor="end" fill="#231f20" transform="translate(191.20 582.10) rotate(-45) scale(0.85 1)">AC220</text>
<text font-size="7.4" text-anchor="end" fill="#231f20" transform="translate(207.10 582.10) rotate(-45) scale(0.85 1)">22d</text>
<text font-size="7.4" text-anchor="end" fill="#231f20" transform="translate(222.40 582.10) rotate(-45) scale(0.85 1)">AC220+22d</text>
<text x="196.70" y="498.80" font-size="8.6" text-anchor="middle" fill="#231f20">AML #14</text>
<text font-size="8.8" text-anchor="middle" fill="#231f20" transform="translate(134.40 540.00) rotate(-90) scale(0.785 1)">% hCD34<tspan dy="-0.4em" font-size="0.75em">+</tspan><tspan dy="0.3em" dx="0.12em"> </tspan>within</text>
<text font-size="8.8" text-anchor="middle" fill="#231f20" transform="translate(144.80 540.40) rotate(-90) scale(0.745 1)">CD45<tspan dy="-0.4em" font-size="0.75em">+</tspan><tspan dy="0.3em" dx="0.12em"> </tspan>cells in BM</text>
<text x="257.40" y="487.00" font-size="11.3" text-anchor="start" font-weight="bold" fill="#000">I</text>
<line x1="286.10" y1="515.40" x2="286.10" y2="573.00" stroke="#231f20" stroke-width="1.3"/>
<line x1="283.50" y1="572.20" x2="286.10" y2="572.20" stroke="#231f20" stroke-width="0.8"/>
<text x="280.30" y="574.40" font-size="6.3" text-anchor="end" fill="#231f20">0</text>
<line x1="283.50" y1="561.16" x2="286.10" y2="561.16" stroke="#231f20" stroke-width="0.8"/>
<text x="280.30" y="563.36" font-size="6.3" text-anchor="end" fill="#231f20">20</text>
<line x1="283.50" y1="550.12" x2="286.10" y2="550.12" stroke="#231f20" stroke-width="0.8"/>
<text x="280.30" y="552.32" font-size="6.3" text-anchor="end" fill="#231f20">40</text>
<line x1="283.50" y1="539.08" x2="286.10" y2="539.08" stroke="#231f20" stroke-width="0.8"/>
<text x="280.30" y="541.28" font-size="6.3" text-anchor="end" fill="#231f20">60</text>
<line x1="283.50" y1="528.04" x2="286.10" y2="528.04" stroke="#231f20" stroke-width="0.8"/>
<text x="280.30" y="530.24" font-size="6.3" text-anchor="end" fill="#231f20">80</text>
<line x1="283.50" y1="517.00" x2="286.10" y2="517.00" stroke="#231f20" stroke-width="0.8"/>
<text x="280.30" y="519.20" font-size="6.3" text-anchor="end" fill="#231f20">100</text>
<line x1="286.10" y1="572.40" x2="378.70" y2="572.40" stroke="#231f20" stroke-width="1.3"/>
<line x1="292.40" y1="572.40" x2="292.40" y2="575.00" stroke="#231f20" stroke-width="0.8"/>
<line x1="302.20" y1="572.40" x2="302.20" y2="575.00" stroke="#231f20" stroke-width="0.8"/>
<line x1="312.20" y1="572.40" x2="312.20" y2="575.00" stroke="#231f20" stroke-width="0.8"/>
<line x1="322.10" y1="572.40" x2="322.10" y2="575.00" stroke="#231f20" stroke-width="0.8"/>
<line x1="342.00" y1="572.40" x2="342.00" y2="575.00" stroke="#231f20" stroke-width="0.8"/>
<line x1="351.90" y1="572.40" x2="351.90" y2="575.00" stroke="#231f20" stroke-width="0.8"/>
<line x1="361.40" y1="572.40" x2="361.40" y2="575.00" stroke="#231f20" stroke-width="0.8"/>
<line x1="371.70" y1="572.40" x2="371.70" y2="575.00" stroke="#231f20" stroke-width="0.8"/>
<text x="307.30" y="489.00" font-size="8.6" text-anchor="middle" fill="#231f20">AML #3</text>
<text x="356.90" y="489.00" font-size="8.6" text-anchor="middle" fill="#231f20">AML #14</text>
<path d="M292.40,523.78 L293.89,525.28 L292.40,526.77 L290.90,525.28 Z" fill="#1f4590"/>
<path d="M291.47,524.89 L292.96,526.38 L291.47,527.88 L289.97,526.38 Z" fill="#1f4590"/>
<path d="M293.33,525.44 L294.83,526.94 L293.33,528.43 L291.84,526.94 Z" fill="#1f4590"/>
<path d="M290.53,525.99 L292.03,527.49 L290.53,528.98 L289.04,527.49 Z" fill="#1f4590"/>
<path d="M294.27,526.54 L295.76,528.04 L294.27,529.53 L292.77,528.04 Z" fill="#1f4590"/>
<path d="M289.60,527.10 L291.09,528.59 L289.60,530.09 L288.10,528.59 Z" fill="#1f4590"/>
<path d="M295.20,527.65 L296.69,529.14 L295.20,530.64 L293.70,529.14 Z" fill="#1f4590"/>
<line x1="292.40" y1="526.91" x2="292.40" y2="527.91" stroke="#1f4590" stroke-width="0.8"/>
<line x1="290.40" y1="526.91" x2="294.40" y2="526.91" stroke="#1f4590" stroke-width="0.8"/>
<line x1="290.40" y1="527.91" x2="294.40" y2="527.91" stroke="#1f4590" stroke-width="0.8"/>
<line x1="288.80" y1="527.41" x2="296.00" y2="527.41" stroke="#444" stroke-width="0.9"/>
<circle cx="302.20" cy="521.42" r="1.21" fill="#b0062c"/>
<circle cx="301.27" cy="522.52" r="1.21" fill="#b0062c"/>
<circle cx="303.13" cy="523.62" r="1.21" fill="#b0062c"/>
<circle cx="300.33" cy="524.73" r="1.21" fill="#b0062c"/>
<circle cx="304.07" cy="525.83" r="1.21" fill="#b0062c"/>
<circle cx="299.40" cy="528.04" r="1.21" fill="#b0062c"/>
<circle cx="305.00" cy="529.70" r="1.21" fill="#b0062c"/>
<line x1="302.20" y1="524.00" x2="302.20" y2="526.24" stroke="#b0062c" stroke-width="0.8"/>
<line x1="300.20" y1="524.00" x2="304.20" y2="524.00" stroke="#b0062c" stroke-width="0.8"/>
<line x1="300.20" y1="526.24" x2="304.20" y2="526.24" stroke="#b0062c" stroke-width="0.8"/>
<line x1="298.60" y1="525.12" x2="305.80" y2="525.12" stroke="#444" stroke-width="0.9"/>
<path d="M312.20,528.81 L313.58,531.23 L310.82,531.23 Z" fill="#6cbd3c"/>
<path d="M311.27,532.12 L312.65,534.54 L309.89,534.54 Z" fill="#6cbd3c"/>
<path d="M313.13,536.54 L314.51,538.95 L311.75,538.95 Z" fill="#6cbd3c"/>
<path d="M310.33,539.30 L311.71,541.71 L308.95,541.71 Z" fill="#6cbd3c"/>
<path d="M314.07,542.06 L315.45,544.47 L312.69,544.47 Z" fill="#6cbd3c"/>
<path d="M309.40,544.82 L310.78,547.23 L308.02,547.23 Z" fill="#6cbd3c"/>
<path d="M315.00,547.03 L316.38,549.44 L313.62,549.44 Z" fill="#6cbd3c"/>
<line x1="312.20" y1="537.60" x2="312.20" y2="542.61" stroke="#6cbd3c" stroke-width="0.8"/>
<line x1="310.20" y1="537.60" x2="314.20" y2="537.60" stroke="#6cbd3c" stroke-width="0.8"/>
<line x1="310.20" y1="542.61" x2="314.20" y2="542.61" stroke="#6cbd3c" stroke-width="0.8"/>
<line x1="308.60" y1="540.11" x2="315.80" y2="540.11" stroke="#444" stroke-width="0.9"/>
<path d="M322.10,555.97 L323.48,553.56 L320.72,553.56 Z" fill="#5a2a80"/>
<path d="M321.17,560.39 L322.55,557.97 L319.79,557.97 Z" fill="#5a2a80"/>
<path d="M323.03,563.15 L324.41,560.73 L321.65,560.73 Z" fill="#5a2a80"/>
<path d="M320.23,564.81 L321.61,562.39 L318.85,562.39 Z" fill="#5a2a80"/>
<path d="M323.97,567.01 L325.35,564.60 L322.59,564.60 Z" fill="#5a2a80"/>
<path d="M319.30,568.12 L320.68,565.70 L317.92,565.70 Z" fill="#5a2a80"/>
<path d="M324.90,568.95 L326.28,566.53 L323.52,566.53 Z" fill="#5a2a80"/>
<line x1="322.10" y1="560.86" x2="322.10" y2="564.37" stroke="#5a2a80" stroke-width="0.8"/>
<line x1="320.10" y1="560.86" x2="324.10" y2="560.86" stroke="#5a2a80" stroke-width="0.8"/>
<line x1="320.10" y1="564.37" x2="324.10" y2="564.37" stroke="#5a2a80" stroke-width="0.8"/>
<line x1="318.50" y1="562.62" x2="325.70" y2="562.62" stroke="#444" stroke-width="0.9"/>
<line x1="292.40" y1="497.60" x2="322.10" y2="497.60" stroke="#7a7a7a" stroke-width="1.0"/>
<line x1="292.40" y1="496.60" x2="292.40" y2="498.60" stroke="#444" stroke-width="0.8"/>
<line x1="322.10" y1="496.60" x2="322.10" y2="498.60" stroke="#444" stroke-width="0.8"/>
<rect x="302.55" y="494.40" width="1.3" height="1.3" fill="#2a2a2a"/>
<rect x="305.25" y="494.40" width="1.3" height="1.3" fill="#2a2a2a"/>
<rect x="307.95" y="494.40" width="1.3" height="1.3" fill="#2a2a2a"/>
<rect x="310.65" y="494.40" width="1.3" height="1.3" fill="#2a2a2a"/>
<line x1="292.40" y1="503.90" x2="312.20" y2="503.90" stroke="#7a7a7a" stroke-width="1.0"/>
<line x1="292.40" y1="502.90" x2="292.40" y2="504.90" stroke="#444" stroke-width="0.8"/>
<line x1="312.20" y1="502.90" x2="312.20" y2="504.90" stroke="#444" stroke-width="0.8"/>
<rect x="300.30" y="500.70" width="1.3" height="1.3" fill="#2a2a2a"/>
<rect x="303.00" y="500.70" width="1.3" height="1.3" fill="#2a2a2a"/>
<line x1="302.20" y1="509.40" x2="322.10" y2="509.40" stroke="#7a7a7a" stroke-width="1.0"/>
<line x1="302.20" y1="508.40" x2="302.20" y2="510.40" stroke="#444" stroke-width="0.8"/>
<line x1="322.10" y1="508.40" x2="322.10" y2="510.40" stroke="#444" stroke-width="0.8"/>
<rect x="307.45" y="506.20" width="1.3" height="1.3" fill="#2a2a2a"/>
<rect x="310.15" y="506.20" width="1.3" height="1.3" fill="#2a2a2a"/>
<rect x="312.85" y="506.20" width="1.3" height="1.3" fill="#2a2a2a"/>
<rect x="315.55" y="506.20" width="1.3" height="1.3" fill="#2a2a2a"/>
<line x1="302.20" y1="516.00" x2="312.20" y2="516.00" stroke="#7a7a7a" stroke-width="1.0"/>
<line x1="302.20" y1="515.00" x2="302.20" y2="517.00" stroke="#444" stroke-width="0.8"/>
<line x1="312.20" y1="515.00" x2="312.20" y2="517.00" stroke="#444" stroke-width="0.8"/>
<rect x="305.20" y="512.80" width="1.3" height="1.3" fill="#2a2a2a"/>
<rect x="307.90" y="512.80" width="1.3" height="1.3" fill="#2a2a2a"/>
<line x1="312.20" y1="523.30" x2="322.10" y2="523.30" stroke="#7a7a7a" stroke-width="1.0"/>
<line x1="312.20" y1="522.30" x2="312.20" y2="524.30" stroke="#444" stroke-width="0.8"/>
<line x1="322.10" y1="522.30" x2="322.10" y2="524.30" stroke="#444" stroke-width="0.8"/>
<rect x="312.45" y="520.10" width="1.3" height="1.3" fill="#2a2a2a"/>
<rect x="315.15" y="520.10" width="1.3" height="1.3" fill="#2a2a2a"/>
<rect x="317.85" y="520.10" width="1.3" height="1.3" fill="#2a2a2a"/>
<rect x="320.55" y="520.10" width="1.3" height="1.3" fill="#2a2a2a"/>
<text font-size="7.4" text-anchor="end" fill="#231f20" transform="translate(295.20 581.90) rotate(-45) scale(0.85 1)">Ctrl</text>
<text font-size="7.4" text-anchor="end" fill="#231f20" transform="translate(305.00 581.90) rotate(-45) scale(0.85 1)">AC220</text>
<text font-size="7.4" text-anchor="end" fill="#231f20" transform="translate(315.00 581.90) rotate(-45) scale(0.85 1)">22d</text>
<text font-size="7.4" text-anchor="end" fill="#231f20" transform="translate(324.90 581.90) rotate(-45) scale(0.85 1)">AC220+22d</text>
<path d="M342.00,519.37 L343.50,520.86 L342.00,522.36 L340.50,520.86 Z" fill="#1f4590"/>
<path d="M341.07,520.47 L342.56,521.97 L341.07,523.46 L339.57,521.97 Z" fill="#1f4590"/>
<path d="M342.93,521.58 L344.43,523.07 L342.93,524.57 L341.44,523.07 Z" fill="#1f4590"/>
<path d="M340.13,522.68 L341.63,524.18 L340.13,525.67 L338.64,524.18 Z" fill="#1f4590"/>
<path d="M343.87,524.34 L345.36,525.83 L343.87,527.33 L342.37,525.83 Z" fill="#1f4590"/>
<path d="M339.20,525.44 L340.69,526.94 L339.20,528.43 L337.70,526.94 Z" fill="#1f4590"/>
<path d="M344.80,526.54 L346.30,528.04 L344.80,529.53 L343.31,528.04 Z" fill="#1f4590"/>
<line x1="342.00" y1="523.41" x2="342.00" y2="525.41" stroke="#1f4590" stroke-width="0.8"/>
<line x1="340.00" y1="523.41" x2="344.00" y2="523.41" stroke="#1f4590" stroke-width="0.8"/>
<line x1="340.00" y1="525.41" x2="344.00" y2="525.41" stroke="#1f4590" stroke-width="0.8"/>
<line x1="338.40" y1="524.41" x2="345.60" y2="524.41" stroke="#444" stroke-width="0.9"/>
<circle cx="351.90" cy="519.21" r="1.21" fill="#b0062c"/>
<circle cx="350.97" cy="519.76" r="1.21" fill="#b0062c"/>
<circle cx="352.83" cy="520.31" r="1.21" fill="#b0062c"/>
<circle cx="350.03" cy="520.86" r="1.21" fill="#b0062c"/>
<circle cx="353.77" cy="521.42" r="1.21" fill="#b0062c"/>
<circle cx="349.10" cy="522.52" r="1.21" fill="#b0062c"/>
<circle cx="354.70" cy="524.18" r="1.21" fill="#b0062c"/>
<line x1="351.90" y1="520.53" x2="351.90" y2="521.83" stroke="#b0062c" stroke-width="0.8"/>
<line x1="349.90" y1="520.53" x2="353.90" y2="520.53" stroke="#b0062c" stroke-width="0.8"/>
<line x1="349.90" y1="521.83" x2="353.90" y2="521.83" stroke="#b0062c" stroke-width="0.8"/>
<line x1="348.30" y1="521.18" x2="355.50" y2="521.18" stroke="#444" stroke-width="0.9"/>
<path d="M361.40,524.95 L362.78,527.36 L360.02,527.36 Z" fill="#6cbd3c"/>
<path d="M360.47,527.71 L361.85,530.12 L359.09,530.12 Z" fill="#6cbd3c"/>
<path d="M362.33,529.91 L363.71,532.33 L360.95,532.33 Z" fill="#6cbd3c"/>
<path d="M359.53,532.12 L360.91,534.54 L358.15,534.54 Z" fill="#6cbd3c"/>
<path d="M363.27,534.88 L364.65,537.30 L361.89,537.30 Z" fill="#6cbd3c"/>
<path d="M358.60,536.54 L359.98,538.95 L357.22,538.95 Z" fill="#6cbd3c"/>
<path d="M364.20,542.61 L365.58,545.03 L362.82,545.03 Z" fill="#6cbd3c"/>
<line x1="361.40" y1="531.87" x2="361.40" y2="536.35" stroke="#6cbd3c" stroke-width="0.8"/>
<line x1="359.40" y1="531.87" x2="363.40" y2="531.87" stroke="#6cbd3c" stroke-width="0.8"/>
<line x1="359.40" y1="536.35" x2="363.40" y2="536.35" stroke="#6cbd3c" stroke-width="0.8"/>
<line x1="357.80" y1="534.11" x2="365.00" y2="534.11" stroke="#444" stroke-width="0.9"/>
<path d="M371.70,548.25 L373.08,545.83 L370.32,545.83 Z" fill="#5a2a80"/>
<path d="M370.77,553.77 L372.15,551.35 L369.39,551.35 Z" fill="#5a2a80"/>
<path d="M372.63,555.42 L374.01,553.01 L371.25,553.01 Z" fill="#5a2a80"/>
<path d="M369.83,556.53 L371.21,554.11 L368.45,554.11 Z" fill="#5a2a80"/>
<path d="M373.57,558.18 L374.95,555.77 L372.19,555.77 Z" fill="#5a2a80"/>
<path d="M368.90,559.84 L370.28,557.42 L367.52,557.42 Z" fill="#5a2a80"/>
<path d="M374.50,561.49 L375.88,559.08 L373.12,559.08 Z" fill="#5a2a80"/>
<line x1="371.70" y1="553.12" x2="371.70" y2="556.43" stroke="#5a2a80" stroke-width="0.8"/>
<line x1="369.70" y1="553.12" x2="373.70" y2="553.12" stroke="#5a2a80" stroke-width="0.8"/>
<line x1="369.70" y1="556.43" x2="373.70" y2="556.43" stroke="#5a2a80" stroke-width="0.8"/>
<line x1="368.10" y1="554.77" x2="375.30" y2="554.77" stroke="#444" stroke-width="0.9"/>
<line x1="342.00" y1="497.60" x2="371.70" y2="497.60" stroke="#7a7a7a" stroke-width="1.0"/>
<line x1="342.00" y1="496.60" x2="342.00" y2="498.60" stroke="#444" stroke-width="0.8"/>
<line x1="371.70" y1="496.60" x2="371.70" y2="498.60" stroke="#444" stroke-width="0.8"/>
<rect x="352.15" y="494.40" width="1.3" height="1.3" fill="#2a2a2a"/>
<rect x="354.85" y="494.40" width="1.3" height="1.3" fill="#2a2a2a"/>
<rect x="357.55" y="494.40" width="1.3" height="1.3" fill="#2a2a2a"/>
<rect x="360.25" y="494.40" width="1.3" height="1.3" fill="#2a2a2a"/>
<line x1="342.00" y1="503.90" x2="361.40" y2="503.90" stroke="#7a7a7a" stroke-width="1.0"/>
<line x1="342.00" y1="502.90" x2="342.00" y2="504.90" stroke="#444" stroke-width="0.8"/>
<line x1="361.40" y1="502.90" x2="361.40" y2="504.90" stroke="#444" stroke-width="0.8"/>
<rect x="349.70" y="500.70" width="1.3" height="1.3" fill="#2a2a2a"/>
<rect x="352.40" y="500.70" width="1.3" height="1.3" fill="#2a2a2a"/>
<line x1="351.90" y1="509.40" x2="371.70" y2="509.40" stroke="#7a7a7a" stroke-width="1.0"/>
<line x1="351.90" y1="508.40" x2="351.90" y2="510.40" stroke="#444" stroke-width="0.8"/>
<line x1="371.70" y1="508.40" x2="371.70" y2="510.40" stroke="#444" stroke-width="0.8"/>
<rect x="357.10" y="506.20" width="1.3" height="1.3" fill="#2a2a2a"/>
<rect x="359.80" y="506.20" width="1.3" height="1.3" fill="#2a2a2a"/>
<rect x="362.50" y="506.20" width="1.3" height="1.3" fill="#2a2a2a"/>
<rect x="365.20" y="506.20" width="1.3" height="1.3" fill="#2a2a2a"/>
<line x1="351.90" y1="516.00" x2="361.40" y2="516.00" stroke="#7a7a7a" stroke-width="1.0"/>
<line x1="351.90" y1="515.00" x2="351.90" y2="517.00" stroke="#444" stroke-width="0.8"/>
<line x1="361.40" y1="515.00" x2="361.40" y2="517.00" stroke="#444" stroke-width="0.8"/>
<rect x="354.65" y="512.80" width="1.3" height="1.3" fill="#2a2a2a"/>
<rect x="357.35" y="512.80" width="1.3" height="1.3" fill="#2a2a2a"/>
<line x1="361.40" y1="523.30" x2="371.70" y2="523.30" stroke="#7a7a7a" stroke-width="1.0"/>
<line x1="361.40" y1="522.30" x2="361.40" y2="524.30" stroke="#444" stroke-width="0.8"/>
<line x1="371.70" y1="522.30" x2="371.70" y2="524.30" stroke="#444" stroke-width="0.8"/>
<rect x="361.85" y="520.10" width="1.3" height="1.3" fill="#2a2a2a"/>
<rect x="364.55" y="520.10" width="1.3" height="1.3" fill="#2a2a2a"/>
<rect x="367.25" y="520.10" width="1.3" height="1.3" fill="#2a2a2a"/>
<rect x="369.95" y="520.10" width="1.3" height="1.3" fill="#2a2a2a"/>
<text font-size="7.4" text-anchor="end" fill="#231f20" transform="translate(344.80 581.90) rotate(-45) scale(0.85 1)">Ctrl</text>
<text font-size="7.4" text-anchor="end" fill="#231f20" transform="translate(354.70 581.90) rotate(-45) scale(0.85 1)">AC220</text>
<text font-size="7.4" text-anchor="end" fill="#231f20" transform="translate(364.20 581.90) rotate(-45) scale(0.85 1)">22d</text>
<text font-size="7.4" text-anchor="end" fill="#231f20" transform="translate(374.50 581.90) rotate(-45) scale(0.85 1)">AC220+22d</text>
<text font-size="8.8" text-anchor="middle" fill="#231f20" transform="translate(264.50 543.90) rotate(-90) scale(0.745 1)">% hCD45<tspan dy="-0.4em" font-size="0.75em">+</tspan><tspan dy="0.3em" dx="0.12em"> </tspan>cells in BM</text>
<text x="391.00" y="487.00" font-size="11.3" text-anchor="start" font-weight="bold" fill="#000">J</text>
<line x1="420.60" y1="515.10" x2="420.60" y2="573.00" stroke="#231f20" stroke-width="1.3"/>
<line x1="418.00" y1="572.20" x2="420.60" y2="572.20" stroke="#231f20" stroke-width="0.8"/>
<text x="414.80" y="574.40" font-size="6.3" text-anchor="end" fill="#231f20">0</text>
<line x1="418.00" y1="558.60" x2="420.60" y2="558.60" stroke="#231f20" stroke-width="0.8"/>
<text x="414.80" y="560.80" font-size="6.3" text-anchor="end" fill="#231f20">5</text>
<line x1="418.00" y1="545.00" x2="420.60" y2="545.00" stroke="#231f20" stroke-width="0.8"/>
<text x="414.80" y="547.20" font-size="6.3" text-anchor="end" fill="#231f20">10</text>
<line x1="418.00" y1="531.40" x2="420.60" y2="531.40" stroke="#231f20" stroke-width="0.8"/>
<text x="414.80" y="533.60" font-size="6.3" text-anchor="end" fill="#231f20">15</text>
<line x1="418.00" y1="517.80" x2="420.60" y2="517.80" stroke="#231f20" stroke-width="0.8"/>
<text x="414.80" y="520.00" font-size="6.3" text-anchor="end" fill="#231f20">20</text>
<line x1="420.60" y1="572.40" x2="512.60" y2="572.40" stroke="#231f20" stroke-width="1.3"/>
<line x1="426.70" y1="572.40" x2="426.70" y2="575.00" stroke="#231f20" stroke-width="0.8"/>
<line x1="436.60" y1="572.40" x2="436.60" y2="575.00" stroke="#231f20" stroke-width="0.8"/>
<line x1="446.40" y1="572.40" x2="446.40" y2="575.00" stroke="#231f20" stroke-width="0.8"/>
<line x1="456.40" y1="572.40" x2="456.40" y2="575.00" stroke="#231f20" stroke-width="0.8"/>
<line x1="476.10" y1="572.40" x2="476.10" y2="575.00" stroke="#231f20" stroke-width="0.8"/>
<line x1="486.00" y1="572.40" x2="486.00" y2="575.00" stroke="#231f20" stroke-width="0.8"/>
<line x1="495.80" y1="572.40" x2="495.80" y2="575.00" stroke="#231f20" stroke-width="0.8"/>
<line x1="505.60" y1="572.40" x2="505.60" y2="575.00" stroke="#231f20" stroke-width="0.8"/>
<text x="441.40" y="489.00" font-size="8.6" text-anchor="middle" fill="#231f20">AML #3</text>
<text x="490.40" y="489.00" font-size="8.6" text-anchor="middle" fill="#231f20">AML #14</text>
<path d="M426.70,532.35 L428.19,533.85 L426.70,535.34 L425.20,533.85 Z" fill="#1f4590"/>
<path d="M425.77,535.35 L427.26,536.84 L425.77,538.34 L424.27,536.84 Z" fill="#1f4590"/>
<path d="M427.63,536.71 L429.13,538.20 L427.63,539.70 L426.14,538.20 Z" fill="#1f4590"/>
<path d="M424.83,537.52 L426.33,539.02 L424.83,540.51 L423.34,539.02 Z" fill="#1f4590"/>
<path d="M428.57,538.06 L430.06,539.56 L428.57,541.05 L427.07,539.56 Z" fill="#1f4590"/>
<path d="M423.90,539.42 L425.39,540.92 L423.90,542.41 L422.40,540.92 Z" fill="#1f4590"/>
<path d="M429.50,542.96 L431.00,544.46 L429.50,545.95 L428.00,544.46 Z" fill="#1f4590"/>
<line x1="426.70" y1="537.73" x2="426.70" y2="540.23" stroke="#1f4590" stroke-width="0.8"/>
<line x1="424.70" y1="537.73" x2="428.70" y2="537.73" stroke="#1f4590" stroke-width="0.8"/>
<line x1="424.70" y1="540.23" x2="428.70" y2="540.23" stroke="#1f4590" stroke-width="0.8"/>
<line x1="423.10" y1="538.98" x2="430.30" y2="538.98" stroke="#444" stroke-width="0.9"/>
<circle cx="436.60" cy="532.22" r="1.21" fill="#b0062c"/>
<circle cx="435.67" cy="534.12" r="1.21" fill="#b0062c"/>
<circle cx="437.53" cy="535.48" r="1.21" fill="#b0062c"/>
<circle cx="434.73" cy="536.30" r="1.21" fill="#b0062c"/>
<circle cx="438.47" cy="537.38" r="1.21" fill="#b0062c"/>
<circle cx="433.80" cy="539.02" r="1.21" fill="#b0062c"/>
<circle cx="439.40" cy="541.19" r="1.21" fill="#b0062c"/>
<line x1="436.60" y1="535.39" x2="436.60" y2="537.67" stroke="#b0062c" stroke-width="0.8"/>
<line x1="434.60" y1="535.39" x2="438.60" y2="535.39" stroke="#b0062c" stroke-width="0.8"/>
<line x1="434.60" y1="537.67" x2="438.60" y2="537.67" stroke="#b0062c" stroke-width="0.8"/>
<line x1="433.00" y1="536.53" x2="440.20" y2="536.53" stroke="#444" stroke-width="0.9"/>
<path d="M446.40,539.75 L447.78,542.17 L445.02,542.17 Z" fill="#6cbd3c"/>
<path d="M445.47,542.20 L446.85,544.62 L444.09,544.62 Z" fill="#6cbd3c"/>
<path d="M447.33,544.92 L448.71,547.34 L445.95,547.34 Z" fill="#6cbd3c"/>
<path d="M444.53,546.28 L445.91,548.70 L443.15,548.70 Z" fill="#6cbd3c"/>
<path d="M448.27,547.64 L449.65,550.06 L446.89,550.06 Z" fill="#6cbd3c"/>
<path d="M443.60,549.55 L444.98,551.96 L442.22,551.96 Z" fill="#6cbd3c"/>
<path d="M449.20,551.72 L450.58,554.14 L447.82,554.14 Z" fill="#6cbd3c"/>
<line x1="446.40" y1="545.88" x2="446.40" y2="549.01" stroke="#6cbd3c" stroke-width="0.8"/>
<line x1="444.40" y1="545.88" x2="448.40" y2="545.88" stroke="#6cbd3c" stroke-width="0.8"/>
<line x1="444.40" y1="549.01" x2="448.40" y2="549.01" stroke="#6cbd3c" stroke-width="0.8"/>
<line x1="442.80" y1="547.45" x2="450.00" y2="547.45" stroke="#444" stroke-width="0.9"/>
<path d="M456.40,558.41 L457.78,555.99 L455.02,555.99 Z" fill="#5a2a80"/>
<path d="M455.47,562.21 L456.85,559.80 L454.09,559.80 Z" fill="#5a2a80"/>
<path d="M457.33,563.30 L458.71,560.89 L455.95,560.89 Z" fill="#5a2a80"/>
<path d="M454.53,563.85 L455.91,561.43 L453.15,561.43 Z" fill="#5a2a80"/>
<path d="M458.27,564.39 L459.65,561.97 L456.89,561.97 Z" fill="#5a2a80"/>
<path d="M453.60,565.21 L454.98,562.79 L452.22,562.79 Z" fill="#5a2a80"/>
<path d="M459.20,566.02 L460.58,563.61 L457.82,563.61 Z" fill="#5a2a80"/>
<line x1="456.40" y1="560.96" x2="456.40" y2="562.85" stroke="#5a2a80" stroke-width="0.8"/>
<line x1="454.40" y1="560.96" x2="458.40" y2="560.96" stroke="#5a2a80" stroke-width="0.8"/>
<line x1="454.40" y1="562.85" x2="458.40" y2="562.85" stroke="#5a2a80" stroke-width="0.8"/>
<line x1="452.80" y1="561.90" x2="460.00" y2="561.90" stroke="#444" stroke-width="0.9"/>
<line x1="426.70" y1="503.20" x2="456.40" y2="503.20" stroke="#7a7a7a" stroke-width="1.0"/>
<line x1="426.70" y1="502.20" x2="426.70" y2="504.20" stroke="#444" stroke-width="0.8"/>
<line x1="456.40" y1="502.20" x2="456.40" y2="504.20" stroke="#444" stroke-width="0.8"/>
<rect x="436.85" y="500.00" width="1.3" height="1.3" fill="#2a2a2a"/>
<rect x="439.55" y="500.00" width="1.3" height="1.3" fill="#2a2a2a"/>
<rect x="442.25" y="500.00" width="1.3" height="1.3" fill="#2a2a2a"/>
<rect x="444.95" y="500.00" width="1.3" height="1.3" fill="#2a2a2a"/>
<line x1="426.70" y1="509.00" x2="446.40" y2="509.00" stroke="#7a7a7a" stroke-width="1.0"/>
<line x1="426.70" y1="508.00" x2="426.70" y2="510.00" stroke="#444" stroke-width="0.8"/>
<line x1="446.40" y1="508.00" x2="446.40" y2="510.00" stroke="#444" stroke-width="0.8"/>
<rect x="434.55" y="505.80" width="1.3" height="1.3" fill="#2a2a2a"/>
<rect x="437.25" y="505.80" width="1.3" height="1.3" fill="#2a2a2a"/>
<line x1="436.60" y1="515.10" x2="456.40" y2="515.10" stroke="#7a7a7a" stroke-width="1.0"/>
<line x1="436.60" y1="514.10" x2="436.60" y2="516.10" stroke="#444" stroke-width="0.8"/>
<line x1="456.40" y1="514.10" x2="456.40" y2="516.10" stroke="#444" stroke-width="0.8"/>
<rect x="441.80" y="511.90" width="1.3" height="1.3" fill="#2a2a2a"/>
<rect x="444.50" y="511.90" width="1.3" height="1.3" fill="#2a2a2a"/>
<rect x="447.20" y="511.90" width="1.3" height="1.3" fill="#2a2a2a"/>
<rect x="449.90" y="511.90" width="1.3" height="1.3" fill="#2a2a2a"/>
<line x1="436.60" y1="521.40" x2="446.40" y2="521.40" stroke="#7a7a7a" stroke-width="1.0"/>
<line x1="436.60" y1="520.40" x2="436.60" y2="522.40" stroke="#444" stroke-width="0.8"/>
<line x1="446.40" y1="520.40" x2="446.40" y2="522.40" stroke="#444" stroke-width="0.8"/>
<rect x="438.15" y="518.20" width="1.3" height="1.3" fill="#2a2a2a"/>
<rect x="440.85" y="518.20" width="1.3" height="1.3" fill="#2a2a2a"/>
<rect x="443.55" y="518.20" width="1.3" height="1.3" fill="#2a2a2a"/>
<line x1="446.40" y1="529.20" x2="456.40" y2="529.20" stroke="#7a7a7a" stroke-width="1.0"/>
<line x1="446.40" y1="528.20" x2="446.40" y2="530.20" stroke="#444" stroke-width="0.8"/>
<line x1="456.40" y1="528.20" x2="456.40" y2="530.20" stroke="#444" stroke-width="0.8"/>
<rect x="446.70" y="526.00" width="1.3" height="1.3" fill="#2a2a2a"/>
<rect x="449.40" y="526.00" width="1.3" height="1.3" fill="#2a2a2a"/>
<rect x="452.10" y="526.00" width="1.3" height="1.3" fill="#2a2a2a"/>
<rect x="454.80" y="526.00" width="1.3" height="1.3" fill="#2a2a2a"/>
<text font-size="7.4" text-anchor="end" fill="#231f20" transform="translate(429.50 581.90) rotate(-45) scale(0.85 1)">Ctrl</text>
<text font-size="7.4" text-anchor="end" fill="#231f20" transform="translate(439.40 581.90) rotate(-45) scale(0.85 1)">AC220</text>
<text font-size="7.4" text-anchor="end" fill="#231f20" transform="translate(449.20 581.90) rotate(-45) scale(0.85 1)">22d</text>
<text font-size="7.4" text-anchor="end" fill="#231f20" transform="translate(459.20 581.90) rotate(-45) scale(0.85 1)">AC220+22d</text>
<path d="M476.10,525.82 L477.60,527.32 L476.10,528.81 L474.61,527.32 Z" fill="#1f4590"/>
<path d="M475.17,526.64 L476.66,528.14 L475.17,529.63 L473.67,528.14 Z" fill="#1f4590"/>
<path d="M477.03,529.90 L478.53,531.40 L477.03,532.89 L475.54,531.40 Z" fill="#1f4590"/>
<path d="M474.23,531.26 L475.73,532.76 L474.23,534.25 L472.74,532.76 Z" fill="#1f4590"/>
<path d="M477.97,532.62 L479.46,534.12 L477.97,535.62 L476.47,534.12 Z" fill="#1f4590"/>
<path d="M473.30,535.35 L474.80,536.84 L473.30,538.34 L471.81,536.84 Z" fill="#1f4590"/>
<path d="M478.90,539.42 L480.40,540.92 L478.90,542.41 L477.41,540.92 Z" fill="#1f4590"/>
<line x1="476.10" y1="531.26" x2="476.10" y2="534.88" stroke="#1f4590" stroke-width="0.8"/>
<line x1="474.10" y1="531.26" x2="478.10" y2="531.26" stroke="#1f4590" stroke-width="0.8"/>
<line x1="474.10" y1="534.88" x2="478.10" y2="534.88" stroke="#1f4590" stroke-width="0.8"/>
<line x1="472.50" y1="533.07" x2="479.70" y2="533.07" stroke="#444" stroke-width="0.9"/>
<circle cx="486.00" cy="527.32" r="1.21" fill="#b0062c"/>
<circle cx="485.07" cy="530.58" r="1.21" fill="#b0062c"/>
<circle cx="486.93" cy="532.49" r="1.21" fill="#b0062c"/>
<circle cx="484.13" cy="534.66" r="1.21" fill="#b0062c"/>
<circle cx="487.87" cy="536.84" r="1.21" fill="#b0062c"/>
<circle cx="483.20" cy="539.02" r="1.21" fill="#b0062c"/>
<circle cx="488.80" cy="543.91" r="1.21" fill="#b0062c"/>
<line x1="486.00" y1="532.88" x2="486.00" y2="537.07" stroke="#b0062c" stroke-width="0.8"/>
<line x1="484.00" y1="532.88" x2="488.00" y2="532.88" stroke="#b0062c" stroke-width="0.8"/>
<line x1="484.00" y1="537.07" x2="488.00" y2="537.07" stroke="#b0062c" stroke-width="0.8"/>
<line x1="482.40" y1="534.97" x2="489.60" y2="534.97" stroke="#444" stroke-width="0.9"/>
<path d="M495.80,538.39 L497.18,540.81 L494.42,540.81 Z" fill="#6cbd3c"/>
<path d="M494.87,540.03 L496.25,542.44 L493.49,542.44 Z" fill="#6cbd3c"/>
<path d="M496.73,541.11 L498.11,543.53 L495.35,543.53 Z" fill="#6cbd3c"/>
<path d="M493.93,541.93 L495.31,544.35 L492.55,544.35 Z" fill="#6cbd3c"/>
<path d="M497.67,543.02 L499.05,545.43 L496.29,545.43 Z" fill="#6cbd3c"/>
<path d="M493.00,544.92 L494.38,547.34 L491.62,547.34 Z" fill="#6cbd3c"/>
<path d="M498.60,547.64 L499.98,550.06 L497.22,550.06 Z" fill="#6cbd3c"/>
<line x1="495.80" y1="542.70" x2="495.80" y2="545.05" stroke="#6cbd3c" stroke-width="0.8"/>
<line x1="493.80" y1="542.70" x2="497.80" y2="542.70" stroke="#6cbd3c" stroke-width="0.8"/>
<line x1="493.80" y1="545.05" x2="497.80" y2="545.05" stroke="#6cbd3c" stroke-width="0.8"/>
<line x1="492.20" y1="543.87" x2="499.40" y2="543.87" stroke="#444" stroke-width="0.9"/>
<path d="M505.60,549.97 L506.98,547.56 L504.22,547.56 Z" fill="#5a2a80"/>
<path d="M504.67,552.42 L506.05,550.01 L503.29,550.01 Z" fill="#5a2a80"/>
<path d="M506.53,555.14 L507.91,552.73 L505.15,552.73 Z" fill="#5a2a80"/>
<path d="M503.73,556.77 L505.11,554.36 L502.35,554.36 Z" fill="#5a2a80"/>
<path d="M507.47,558.68 L508.85,556.26 L506.09,556.26 Z" fill="#5a2a80"/>
<path d="M502.80,560.04 L504.18,557.62 L501.42,557.62 Z" fill="#5a2a80"/>
<path d="M508.40,561.94 L509.78,559.53 L507.02,559.53 Z" fill="#5a2a80"/>
<line x1="505.60" y1="553.38" x2="505.60" y2="556.59" stroke="#5a2a80" stroke-width="0.8"/>
<line x1="503.60" y1="553.38" x2="507.60" y2="553.38" stroke="#5a2a80" stroke-width="0.8"/>
<line x1="503.60" y1="556.59" x2="507.60" y2="556.59" stroke="#5a2a80" stroke-width="0.8"/>
<line x1="502.00" y1="554.99" x2="509.20" y2="554.99" stroke="#444" stroke-width="0.9"/>
<line x1="476.10" y1="503.20" x2="505.60" y2="503.20" stroke="#7a7a7a" stroke-width="1.0"/>
<line x1="476.10" y1="502.20" x2="476.10" y2="504.20" stroke="#444" stroke-width="0.8"/>
<line x1="505.60" y1="502.20" x2="505.60" y2="504.20" stroke="#444" stroke-width="0.8"/>
<rect x="486.15" y="500.00" width="1.3" height="1.3" fill="#2a2a2a"/>
<rect x="488.85" y="500.00" width="1.3" height="1.3" fill="#2a2a2a"/>
<rect x="491.55" y="500.00" width="1.3" height="1.3" fill="#2a2a2a"/>
<rect x="494.25" y="500.00" width="1.3" height="1.3" fill="#2a2a2a"/>
<line x1="476.10" y1="509.00" x2="495.80" y2="509.00" stroke="#7a7a7a" stroke-width="1.0"/>
<line x1="476.10" y1="508.00" x2="476.10" y2="510.00" stroke="#444" stroke-width="0.8"/>
<line x1="495.80" y1="508.00" x2="495.80" y2="510.00" stroke="#444" stroke-width="0.8"/>
<rect x="483.95" y="505.80" width="1.3" height="1.3" fill="#2a2a2a"/>
<rect x="486.65" y="505.80" width="1.3" height="1.3" fill="#2a2a2a"/>
<line x1="486.00" y1="515.10" x2="505.60" y2="515.10" stroke="#7a7a7a" stroke-width="1.0"/>
<line x1="486.00" y1="514.10" x2="486.00" y2="516.10" stroke="#444" stroke-width="0.8"/>
<line x1="505.60" y1="514.10" x2="505.60" y2="516.10" stroke="#444" stroke-width="0.8"/>
<rect x="491.10" y="511.90" width="1.3" height="1.3" fill="#2a2a2a"/>
<rect x="493.80" y="511.90" width="1.3" height="1.3" fill="#2a2a2a"/>
<rect x="496.50" y="511.90" width="1.3" height="1.3" fill="#2a2a2a"/>
<rect x="499.20" y="511.90" width="1.3" height="1.3" fill="#2a2a2a"/>
<line x1="486.00" y1="521.40" x2="495.80" y2="521.40" stroke="#7a7a7a" stroke-width="1.0"/>
<line x1="486.00" y1="520.40" x2="486.00" y2="522.40" stroke="#444" stroke-width="0.8"/>
<line x1="495.80" y1="520.40" x2="495.80" y2="522.40" stroke="#444" stroke-width="0.8"/>
<rect x="490.25" y="518.20" width="1.3" height="1.3" fill="#2a2a2a"/>
<line x1="495.80" y1="529.20" x2="505.60" y2="529.20" stroke="#7a7a7a" stroke-width="1.0"/>
<line x1="495.80" y1="528.20" x2="495.80" y2="530.20" stroke="#444" stroke-width="0.8"/>
<line x1="505.60" y1="528.20" x2="505.60" y2="530.20" stroke="#444" stroke-width="0.8"/>
<rect x="497.35" y="526.00" width="1.3" height="1.3" fill="#2a2a2a"/>
<rect x="500.05" y="526.00" width="1.3" height="1.3" fill="#2a2a2a"/>
<rect x="502.75" y="526.00" width="1.3" height="1.3" fill="#2a2a2a"/>
<text font-size="7.4" text-anchor="end" fill="#231f20" transform="translate(478.90 581.90) rotate(-45) scale(0.85 1)">Ctrl</text>
<text font-size="7.4" text-anchor="end" fill="#231f20" transform="translate(488.80 581.90) rotate(-45) scale(0.85 1)">AC220</text>
<text font-size="7.4" text-anchor="end" fill="#231f20" transform="translate(498.60 581.90) rotate(-45) scale(0.85 1)">22d</text>
<text font-size="7.4" text-anchor="end" fill="#231f20" transform="translate(508.40 581.90) rotate(-45) scale(0.85 1)">AC220+22d</text>
<text font-size="8.8" text-anchor="middle" fill="#231f20" transform="translate(399.30 542.70) rotate(-90) scale(0.745 1)">No. hCD45<tspan dy="-0.4em" font-size="0.75em">+</tspan><tspan dy="0.3em" dx="0.12em"> </tspan>cells in BM (10<tspan dy="-0.4em" font-size="0.75em">6</tspan><tspan dy="0.3em" dx="0.12em">)</tspan></text>
</g>
</svg>
<div class="frame"></div>
</body></html>
